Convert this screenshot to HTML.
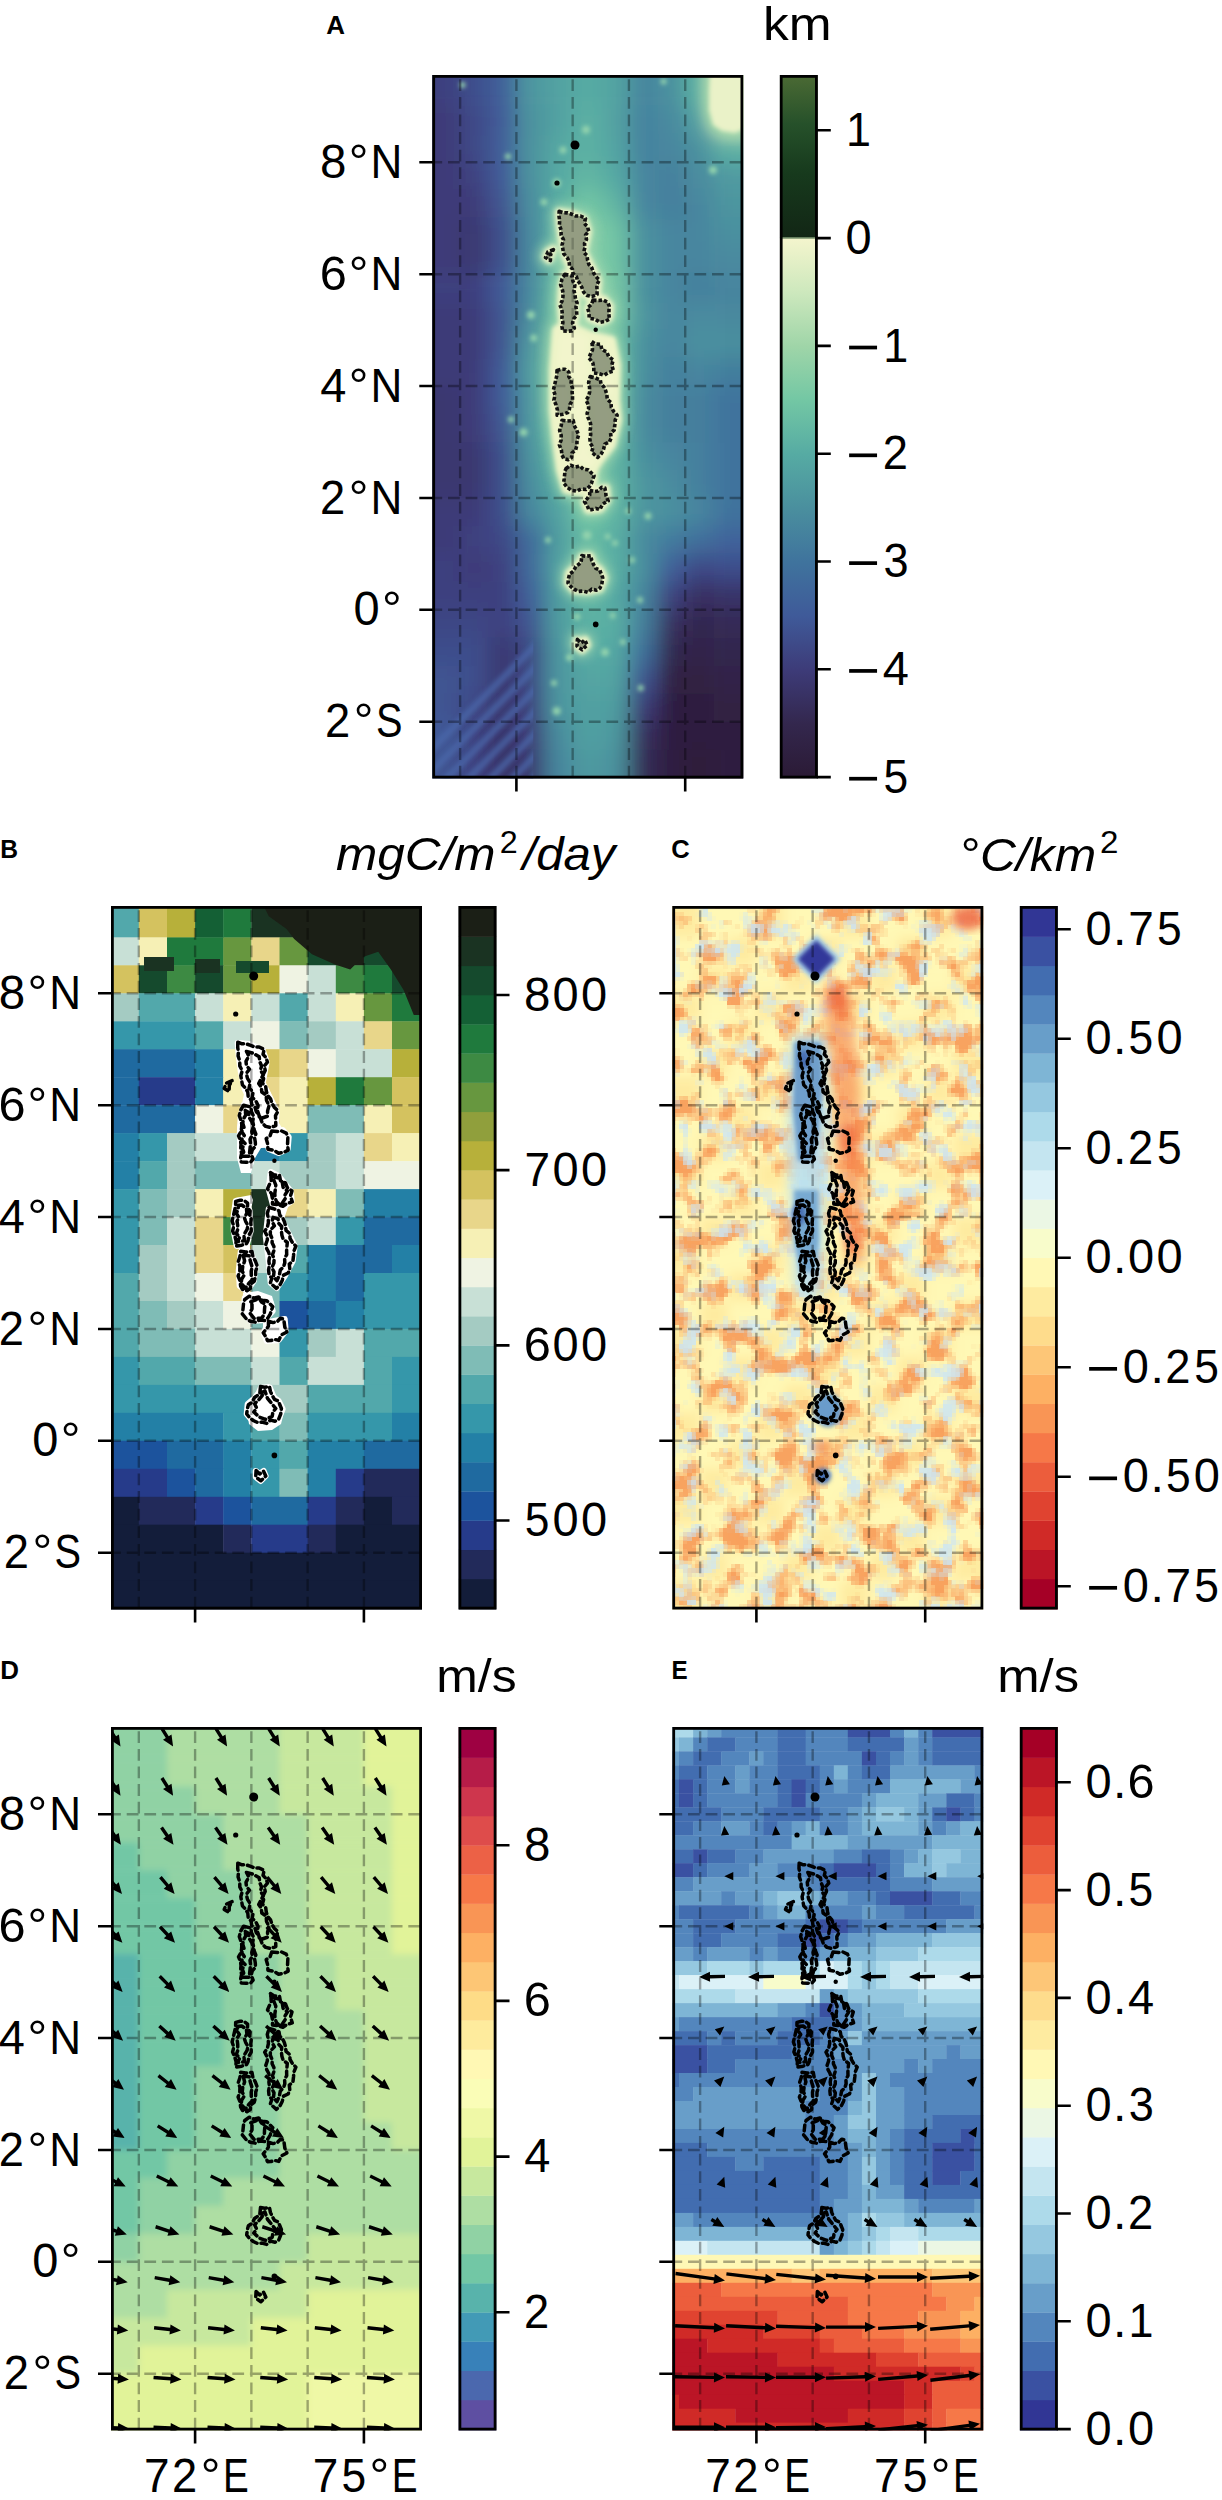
<!DOCTYPE html><html><head><meta charset="utf-8"><style>html,body{margin:0;padding:0;background:#fff}svg{display:block}</style></head><body><svg xmlns="http://www.w3.org/2000/svg" width="1222" height="2500" viewBox="0 0 1222 2500" font-family='"Liberation Sans", sans-serif'>
<rect width="1222" height="2500" fill="#ffffff"/>
<svg x="432.3" y="75" width="311" height="703.5" viewBox="432.3 75 311 703.5" overflow="hidden">
<defs><filter id="blA" x="-10%" y="-10%" width="120%" height="120%"><feGaussianBlur stdDeviation="11"/></filter><filter id="blA2" x="-50%" y="-20%" width="200%" height="140%"><feGaussianBlur stdDeviation="6"/></filter><filter id="blA3" x="-50%" y="-20%" width="200%" height="140%"><feGaussianBlur stdDeviation="2"/></filter></defs><g filter="url(#blA)"><rect x="392" y="38.4" width="68.5" height="68.4" fill="#3d417f"/><rect x="460.1" y="38.4" width="28.5" height="68.4" fill="#3e4e8c"/><rect x="488.3" y="38.4" width="28.5" height="68.4" fill="#3f5f9a"/><rect x="516.4" y="38.4" width="28.5" height="68.4" fill="#4e97a0"/><rect x="544.5" y="38.4" width="28.5" height="68.4" fill="#52a3a2"/><rect x="572.7" y="38.4" width="28.5" height="68.4" fill="#56aba3"/><rect x="600.8" y="38.4" width="28.5" height="68.4" fill="#53a4a2"/><rect x="628.9" y="38.4" width="28.5" height="68.4" fill="#46859e"/><rect x="657.1" y="38.4" width="28.5" height="68.4" fill="#4a909e"/><rect x="685.2" y="38.4" width="28.5" height="68.4" fill="#5db2a3"/><rect x="713.3" y="38.4" width="68.5" height="68.4" fill="#ddedc3"/><rect x="392" y="106.4" width="68.5" height="28.4" fill="#3d3b78"/><rect x="460.1" y="106.4" width="28.5" height="28.4" fill="#3e4785"/><rect x="488.3" y="106.4" width="28.5" height="28.4" fill="#3f5a99"/><rect x="516.4" y="106.4" width="28.5" height="28.4" fill="#4b929e"/><rect x="544.5" y="106.4" width="28.5" height="28.4" fill="#51a0a1"/><rect x="572.7" y="106.4" width="28.5" height="28.4" fill="#5cb1a3"/><rect x="600.8" y="106.4" width="28.5" height="28.4" fill="#52a1a1"/><rect x="628.9" y="106.4" width="28.5" height="28.4" fill="#45829e"/><rect x="657.1" y="106.4" width="28.5" height="28.4" fill="#47889e"/><rect x="685.2" y="106.4" width="28.5" height="28.4" fill="#52a1a1"/><rect x="713.3" y="106.4" width="68.5" height="28.4" fill="#c4e4b9"/><rect x="392" y="134.3" width="68.5" height="28.4" fill="#3d3b78"/><rect x="460.1" y="134.3" width="28.5" height="28.4" fill="#3e4785"/><rect x="488.3" y="134.3" width="28.5" height="28.4" fill="#3f5f9a"/><rect x="516.4" y="134.3" width="28.5" height="28.4" fill="#4b929e"/><rect x="544.5" y="134.3" width="28.5" height="28.4" fill="#55a8a2"/><rect x="572.7" y="134.3" width="28.5" height="28.4" fill="#5cb1a3"/><rect x="600.8" y="134.3" width="28.5" height="28.4" fill="#53a4a2"/><rect x="628.9" y="134.3" width="28.5" height="28.4" fill="#45829e"/><rect x="657.1" y="134.3" width="28.5" height="28.4" fill="#46859e"/><rect x="685.2" y="134.3" width="28.5" height="28.4" fill="#4a909e"/><rect x="713.3" y="134.3" width="68.5" height="28.4" fill="#5cb1a3"/><rect x="392" y="162.3" width="68.5" height="28.4" fill="#3d3b78"/><rect x="460.1" y="162.3" width="28.5" height="28.4" fill="#3d417f"/><rect x="488.3" y="162.3" width="28.5" height="28.4" fill="#3f5a99"/><rect x="516.4" y="162.3" width="28.5" height="28.4" fill="#4b929e"/><rect x="544.5" y="162.3" width="28.5" height="28.4" fill="#55a8a2"/><rect x="572.7" y="162.3" width="28.5" height="28.4" fill="#62b6a3"/><rect x="600.8" y="162.3" width="28.5" height="28.4" fill="#55a9a3"/><rect x="628.9" y="162.3" width="28.5" height="28.4" fill="#46859e"/><rect x="657.1" y="162.3" width="28.5" height="28.4" fill="#447f9d"/><rect x="685.2" y="162.3" width="28.5" height="28.4" fill="#488b9e"/><rect x="713.3" y="162.3" width="68.5" height="28.4" fill="#4f9aa0"/><rect x="392" y="190.3" width="96.7" height="28.4" fill="#3d3b78"/><rect x="488.3" y="190.3" width="28.5" height="28.4" fill="#3f5492"/><rect x="516.4" y="190.3" width="28.5" height="28.4" fill="#498c9e"/><rect x="544.5" y="190.3" width="28.5" height="28.4" fill="#59aea3"/><rect x="572.7" y="190.3" width="28.5" height="28.4" fill="#73c7a4"/><rect x="600.8" y="190.3" width="28.5" height="28.4" fill="#60b5a3"/><rect x="628.9" y="190.3" width="28.5" height="28.4" fill="#46859e"/><rect x="657.1" y="190.3" width="28.5" height="28.4" fill="#447f9d"/><rect x="685.2" y="190.3" width="28.5" height="28.4" fill="#46859e"/><rect x="713.3" y="190.3" width="68.5" height="28.4" fill="#4c959f"/><rect x="392" y="218.2" width="68.5" height="28.4" fill="#3d3b78"/><rect x="460.1" y="218.2" width="28.5" height="28.4" fill="#3b376f"/><rect x="488.3" y="218.2" width="28.5" height="28.4" fill="#3e4e8c"/><rect x="516.4" y="218.2" width="28.5" height="28.4" fill="#47879e"/><rect x="544.5" y="218.2" width="28.5" height="28.4" fill="#5fb3a3"/><rect x="572.7" y="218.2" width="28.5" height="28.4" fill="#85cda6"/><rect x="600.8" y="218.2" width="28.5" height="28.4" fill="#71c5a4"/><rect x="628.9" y="218.2" width="28.5" height="28.4" fill="#4a909e"/><rect x="657.1" y="218.2" width="56.7" height="28.4" fill="#46859e"/><rect x="713.3" y="218.2" width="68.5" height="28.4" fill="#4a8f9e"/><rect x="392" y="246.2" width="68.5" height="28.4" fill="#3d3b78"/><rect x="460.1" y="246.2" width="28.5" height="28.4" fill="#3b376f"/><rect x="488.3" y="246.2" width="28.5" height="28.4" fill="#3e4e8c"/><rect x="516.4" y="246.2" width="28.5" height="28.4" fill="#47879e"/><rect x="544.5" y="246.2" width="28.5" height="28.4" fill="#64b9a4"/><rect x="572.7" y="246.2" width="28.5" height="28.4" fill="#85cda6"/><rect x="600.8" y="246.2" width="28.5" height="28.4" fill="#71c5a4"/><rect x="628.9" y="246.2" width="28.5" height="28.4" fill="#4a909e"/><rect x="657.1" y="246.2" width="56.7" height="28.4" fill="#46859e"/><rect x="713.3" y="246.2" width="68.5" height="28.4" fill="#48899e"/><rect x="392" y="274.2" width="96.7" height="28.4" fill="#3d417f"/><rect x="488.3" y="274.2" width="28.5" height="28.4" fill="#3f5a99"/><rect x="516.4" y="274.2" width="28.5" height="28.4" fill="#47879e"/><rect x="544.5" y="274.2" width="28.5" height="28.4" fill="#6abfa4"/><rect x="572.7" y="274.2" width="28.5" height="28.4" fill="#8dcfa6"/><rect x="600.8" y="274.2" width="28.5" height="28.4" fill="#79c9a5"/><rect x="628.9" y="274.2" width="28.5" height="28.4" fill="#4a909e"/><rect x="657.1" y="274.2" width="28.5" height="28.4" fill="#46859e"/><rect x="685.2" y="274.2" width="28.5" height="28.4" fill="#447f9d"/><rect x="713.3" y="274.2" width="68.5" height="28.4" fill="#46849e"/><rect x="392" y="302.1" width="96.7" height="28.4" fill="#3d3b78"/><rect x="488.3" y="302.1" width="28.5" height="28.4" fill="#3f5492"/><rect x="516.4" y="302.1" width="28.5" height="28.4" fill="#498c9e"/><rect x="544.5" y="302.1" width="28.5" height="28.4" fill="#70c4a4"/><rect x="572.7" y="302.1" width="28.5" height="28.4" fill="#96d2a7"/><rect x="600.8" y="302.1" width="28.5" height="28.4" fill="#79c9a5"/><rect x="628.9" y="302.1" width="28.5" height="28.4" fill="#4d969f"/><rect x="657.1" y="302.1" width="28.5" height="28.4" fill="#46859e"/><rect x="685.2" y="302.1" width="28.5" height="28.4" fill="#488b9e"/><rect x="713.3" y="302.1" width="68.5" height="28.4" fill="#48899e"/><rect x="392" y="330.1" width="96.7" height="28.4" fill="#3d3b78"/><rect x="488.3" y="330.1" width="28.5" height="28.4" fill="#3f5492"/><rect x="516.4" y="330.1" width="28.5" height="28.4" fill="#4e97a0"/><rect x="544.5" y="330.1" width="28.5" height="28.4" fill="#80cba5"/><rect x="572.7" y="330.1" width="28.5" height="28.4" fill="#96d2a7"/><rect x="600.8" y="330.1" width="28.5" height="28.4" fill="#6bc0a4"/><rect x="628.9" y="330.1" width="28.5" height="28.4" fill="#4a909e"/><rect x="657.1" y="330.1" width="28.5" height="28.4" fill="#46859e"/><rect x="685.2" y="330.1" width="28.5" height="28.4" fill="#4a909e"/><rect x="713.3" y="330.1" width="68.5" height="28.4" fill="#4a8f9e"/><rect x="392" y="358.1" width="96.7" height="28.4" fill="#3d3b78"/><rect x="488.3" y="358.1" width="28.5" height="28.4" fill="#3f5a99"/><rect x="516.4" y="358.1" width="28.5" height="28.4" fill="#509da0"/><rect x="544.5" y="358.1" width="28.5" height="28.4" fill="#80cba5"/><rect x="572.7" y="358.1" width="28.5" height="28.4" fill="#96d2a7"/><rect x="600.8" y="358.1" width="28.5" height="28.4" fill="#6bc0a4"/><rect x="628.9" y="358.1" width="28.5" height="28.4" fill="#4a909e"/><rect x="657.1" y="358.1" width="28.5" height="28.4" fill="#447f9d"/><rect x="685.2" y="358.1" width="28.5" height="28.4" fill="#46859e"/><rect x="713.3" y="358.1" width="68.5" height="28.4" fill="#437e9d"/><rect x="392" y="386.1" width="68.5" height="28.4" fill="#3b376f"/><rect x="460.1" y="386.1" width="28.5" height="28.4" fill="#3d3b78"/><rect x="488.3" y="386.1" width="28.5" height="28.4" fill="#3f5a99"/><rect x="516.4" y="386.1" width="28.5" height="28.4" fill="#4e97a0"/><rect x="544.5" y="386.1" width="28.5" height="28.4" fill="#80cba5"/><rect x="572.7" y="386.1" width="28.5" height="28.4" fill="#96d2a7"/><rect x="600.8" y="386.1" width="28.5" height="28.4" fill="#6bc0a4"/><rect x="628.9" y="386.1" width="28.5" height="28.4" fill="#488b9e"/><rect x="657.1" y="386.1" width="56.7" height="28.4" fill="#447f9d"/><rect x="713.3" y="386.1" width="68.5" height="28.4" fill="#3f739d"/><rect x="392" y="414" width="68.5" height="28.4" fill="#3b376f"/><rect x="460.1" y="414" width="28.5" height="28.4" fill="#3d3b78"/><rect x="488.3" y="414" width="28.5" height="28.4" fill="#3f5492"/><rect x="516.4" y="414" width="28.5" height="28.4" fill="#4e97a0"/><rect x="544.5" y="414" width="28.5" height="28.4" fill="#70c4a4"/><rect x="572.7" y="414" width="28.5" height="28.4" fill="#96d2a7"/><rect x="600.8" y="414" width="28.5" height="28.4" fill="#66baa4"/><rect x="628.9" y="414" width="28.5" height="28.4" fill="#488b9e"/><rect x="657.1" y="414" width="56.7" height="28.4" fill="#447f9d"/><rect x="713.3" y="414" width="68.5" height="28.4" fill="#3f739d"/><rect x="392" y="442" width="96.7" height="28.4" fill="#3b376f"/><rect x="488.3" y="442" width="28.5" height="28.4" fill="#3e4e8c"/><rect x="516.4" y="442" width="28.5" height="28.4" fill="#4b929e"/><rect x="544.5" y="442" width="28.5" height="28.4" fill="#64b9a4"/><rect x="572.7" y="442" width="28.5" height="28.4" fill="#8dcfa6"/><rect x="600.8" y="442" width="28.5" height="28.4" fill="#60b5a3"/><rect x="628.9" y="442" width="28.5" height="28.4" fill="#4a909e"/><rect x="657.1" y="442" width="28.5" height="28.4" fill="#46859e"/><rect x="685.2" y="442" width="28.5" height="28.4" fill="#447f9d"/><rect x="713.3" y="442" width="68.5" height="28.4" fill="#3f739d"/><rect x="392" y="470" width="96.7" height="28.4" fill="#3b376f"/><rect x="488.3" y="470" width="28.5" height="28.4" fill="#3e4e8c"/><rect x="516.4" y="470" width="28.5" height="28.4" fill="#498c9e"/><rect x="544.5" y="470" width="28.5" height="28.4" fill="#59aea3"/><rect x="572.7" y="470" width="28.5" height="28.4" fill="#85cda6"/><rect x="600.8" y="470" width="28.5" height="28.4" fill="#60b5a3"/><rect x="628.9" y="470" width="28.5" height="28.4" fill="#4d969f"/><rect x="657.1" y="470" width="28.5" height="28.4" fill="#488b9e"/><rect x="685.2" y="470" width="28.5" height="28.4" fill="#447f9d"/><rect x="713.3" y="470" width="68.5" height="28.4" fill="#3f739d"/><rect x="392" y="497.9" width="96.7" height="28.4" fill="#3d3b78"/><rect x="488.3" y="497.9" width="28.5" height="28.4" fill="#3e4e8c"/><rect x="516.4" y="497.9" width="28.5" height="28.4" fill="#47879e"/><rect x="544.5" y="497.9" width="28.5" height="28.4" fill="#52a3a2"/><rect x="572.7" y="497.9" width="28.5" height="28.4" fill="#73c7a4"/><rect x="600.8" y="497.9" width="28.5" height="28.4" fill="#60b5a3"/><rect x="628.9" y="497.9" width="28.5" height="28.4" fill="#4d969f"/><rect x="657.1" y="497.9" width="28.5" height="28.4" fill="#4a909e"/><rect x="685.2" y="497.9" width="28.5" height="28.4" fill="#46859e"/><rect x="713.3" y="497.9" width="68.5" height="28.4" fill="#3f739d"/><rect x="392" y="525.9" width="68.5" height="28.4" fill="#3d3b78"/><rect x="460.1" y="525.9" width="28.5" height="28.4" fill="#3d417f"/><rect x="488.3" y="525.9" width="28.5" height="28.4" fill="#3e4785"/><rect x="516.4" y="525.9" width="28.5" height="28.4" fill="#3f699b"/><rect x="544.5" y="525.9" width="28.5" height="28.4" fill="#509da0"/><rect x="572.7" y="525.9" width="28.5" height="28.4" fill="#67bca4"/><rect x="600.8" y="525.9" width="28.5" height="28.4" fill="#5aafa3"/><rect x="628.9" y="525.9" width="28.5" height="28.4" fill="#488b9e"/><rect x="657.1" y="525.9" width="28.5" height="28.4" fill="#427a9d"/><rect x="685.2" y="525.9" width="28.5" height="28.4" fill="#3f6f9c"/><rect x="713.3" y="525.9" width="68.5" height="28.4" fill="#3f649b"/><rect x="392" y="553.9" width="68.5" height="28.4" fill="#3d417f"/><rect x="460.1" y="553.9" width="28.5" height="28.4" fill="#3d3b78"/><rect x="488.3" y="553.9" width="28.5" height="28.4" fill="#3d417f"/><rect x="516.4" y="553.9" width="28.5" height="28.4" fill="#3f699b"/><rect x="544.5" y="553.9" width="28.5" height="28.4" fill="#52a3a2"/><rect x="572.7" y="553.9" width="28.5" height="28.4" fill="#6dc1a4"/><rect x="600.8" y="553.9" width="28.5" height="28.4" fill="#5aafa3"/><rect x="628.9" y="553.9" width="28.5" height="28.4" fill="#4a909e"/><rect x="657.1" y="553.9" width="28.5" height="28.4" fill="#3f5f9a"/><rect x="685.2" y="553.9" width="28.5" height="28.4" fill="#3e4785"/><rect x="713.3" y="553.9" width="68.5" height="28.4" fill="#3e4e8c"/><rect x="392" y="581.8" width="124.8" height="28.4" fill="#3d417f"/><rect x="516.4" y="581.8" width="28.5" height="28.4" fill="#3f5f9a"/><rect x="544.5" y="581.8" width="28.5" height="28.4" fill="#509da0"/><rect x="572.7" y="581.8" width="28.5" height="28.4" fill="#62b6a3"/><rect x="600.8" y="581.8" width="28.5" height="28.4" fill="#55a9a3"/><rect x="628.9" y="581.8" width="28.5" height="28.4" fill="#46859e"/><rect x="657.1" y="581.8" width="28.5" height="28.4" fill="#3d417f"/><rect x="685.2" y="581.8" width="28.5" height="28.4" fill="#372f5e"/><rect x="713.3" y="581.8" width="68.5" height="28.4" fill="#393367"/><rect x="392" y="609.8" width="96.7" height="28.4" fill="#3e4785"/><rect x="488.3" y="609.8" width="28.5" height="28.4" fill="#3d417f"/><rect x="516.4" y="609.8" width="28.5" height="28.4" fill="#3f5492"/><rect x="544.5" y="609.8" width="28.5" height="28.4" fill="#509da0"/><rect x="572.7" y="609.8" width="28.5" height="28.4" fill="#5cb1a3"/><rect x="600.8" y="609.8" width="28.5" height="28.4" fill="#5aafa3"/><rect x="628.9" y="609.8" width="28.5" height="28.4" fill="#447f9d"/><rect x="657.1" y="609.8" width="28.5" height="28.4" fill="#372f5e"/><rect x="685.2" y="609.8" width="28.5" height="28.4" fill="#33274d"/><rect x="713.3" y="609.8" width="68.5" height="28.4" fill="#352b56"/><rect x="392" y="637.8" width="96.7" height="28.4" fill="#3e4e8c"/><rect x="488.3" y="637.8" width="28.5" height="28.4" fill="#3b376f"/><rect x="516.4" y="637.8" width="28.5" height="28.4" fill="#3e4785"/><rect x="544.5" y="637.8" width="28.5" height="28.4" fill="#4e97a0"/><rect x="572.7" y="637.8" width="28.5" height="28.4" fill="#56aba3"/><rect x="600.8" y="637.8" width="28.5" height="28.4" fill="#55a9a3"/><rect x="628.9" y="637.8" width="28.5" height="28.4" fill="#3f6f9c"/><rect x="657.1" y="637.8" width="28.5" height="28.4" fill="#33274d"/><rect x="685.2" y="637.8" width="28.5" height="28.4" fill="#312448"/><rect x="713.3" y="637.8" width="68.5" height="28.4" fill="#33274d"/><rect x="392" y="665.8" width="68.5" height="28.4" fill="#3f5492"/><rect x="460.1" y="665.8" width="28.5" height="28.4" fill="#3e4e8c"/><rect x="488.3" y="665.8" width="28.5" height="28.4" fill="#3b376f"/><rect x="516.4" y="665.8" width="28.5" height="28.4" fill="#3e4785"/><rect x="544.5" y="665.8" width="28.5" height="28.4" fill="#4e97a0"/><rect x="572.7" y="665.8" width="28.5" height="28.4" fill="#54a5a2"/><rect x="600.8" y="665.8" width="28.5" height="28.4" fill="#53a4a2"/><rect x="628.9" y="665.8" width="28.5" height="28.4" fill="#3f5492"/><rect x="657.1" y="665.8" width="56.7" height="28.4" fill="#302243"/><rect x="713.3" y="665.8" width="68.5" height="28.4" fill="#312448"/><rect x="392" y="693.7" width="68.5" height="28.4" fill="#3f5492"/><rect x="460.1" y="693.7" width="28.5" height="28.4" fill="#3e4785"/><rect x="488.3" y="693.7" width="28.5" height="28.4" fill="#3b376f"/><rect x="516.4" y="693.7" width="28.5" height="28.4" fill="#3d417f"/><rect x="544.5" y="693.7" width="28.5" height="28.4" fill="#4e97a0"/><rect x="572.7" y="693.7" width="28.5" height="28.4" fill="#51a0a1"/><rect x="600.8" y="693.7" width="28.5" height="28.4" fill="#509ea1"/><rect x="628.9" y="693.7" width="28.5" height="28.4" fill="#3d3b78"/><rect x="657.1" y="693.7" width="56.7" height="28.4" fill="#2e1f3f"/><rect x="713.3" y="693.7" width="68.5" height="28.4" fill="#302243"/><rect x="392" y="721.7" width="68.5" height="28.4" fill="#3f5a99"/><rect x="460.1" y="721.7" width="28.5" height="28.4" fill="#3d417f"/><rect x="488.3" y="721.7" width="28.5" height="28.4" fill="#393367"/><rect x="516.4" y="721.7" width="28.5" height="28.4" fill="#3d3b78"/><rect x="544.5" y="721.7" width="28.5" height="28.4" fill="#498c9e"/><rect x="572.7" y="721.7" width="28.5" height="28.4" fill="#51a0a1"/><rect x="600.8" y="721.7" width="28.5" height="28.4" fill="#4e99a0"/><rect x="628.9" y="721.7" width="28.5" height="28.4" fill="#372f5e"/><rect x="657.1" y="721.7" width="124.8" height="28.4" fill="#2e1f3f"/><rect x="392" y="749.7" width="68.5" height="68.4" fill="#3f5492"/><rect x="460.1" y="749.7" width="28.5" height="68.4" fill="#3d417f"/><rect x="488.3" y="749.7" width="28.5" height="68.4" fill="#393367"/><rect x="516.4" y="749.7" width="28.5" height="68.4" fill="#3b376f"/><rect x="544.5" y="749.7" width="28.5" height="68.4" fill="#47879e"/><rect x="572.7" y="749.7" width="28.5" height="68.4" fill="#4f9aa0"/><rect x="600.8" y="749.7" width="28.5" height="68.4" fill="#4c939f"/><rect x="628.9" y="749.7" width="28.5" height="68.4" fill="#352b56"/><rect x="657.1" y="749.7" width="28.5" height="68.4" fill="#2e1f3f"/><rect x="685.2" y="749.7" width="28.5" height="68.4" fill="#2d1d3a"/><rect x="713.3" y="749.7" width="68.5" height="68.4" fill="#2e1f3f"/></g><g clip-path="url(#clA1)"><clipPath id="clA1"><rect x="432.3" y="542.692" width="100.98099999999982" height="300"/></clipPath><path d="M392.3 788.5 l150 -150M414.3 788.5 l150 -150M436.3 788.5 l150 -150M458.3 788.5 l150 -150M480.3 788.5 l150 -150M502.3 788.5 l150 -150M524.3 788.5 l150 -150M546.3 788.5 l150 -150" stroke="#4a6aab" stroke-width="7" stroke-opacity="0.7" fill="none" filter="url(#blA3)"/></g><path d="M710 70 L746 70 L746 128 L735 133 L722 131 L713 125 L709 110 L709 90Z" fill="#9fd5a8" stroke="#9fd5a8" stroke-width="10" filter="url(#blA2)"/><path d="M710 70 L746 70 L746 128 L735 133 L722 131 L713 125 L709 110 L709 90Z" fill="#eaf2c8" filter="url(#blA3)"/><g fill="#93d3ad" filter="url(#blA3)"><circle cx="586" cy="129.7" r="4"/><circle cx="563" cy="150" r="3.5"/><circle cx="556.7" cy="183" r="4.5"/><circle cx="544" cy="202" r="3.5"/><circle cx="663.6" cy="81.4" r="3"/><circle cx="462.5" cy="85" r="3"/><circle cx="713" cy="170" r="4"/><circle cx="508" cy="156.4" r="3"/><circle cx="531" cy="315" r="4"/><circle cx="533.8" cy="338" r="3.5"/><circle cx="523.6" cy="432.3" r="4"/><circle cx="511" cy="419.6" r="3"/><circle cx="648" cy="516" r="3.5"/><circle cx="628" cy="511" r="3"/><circle cx="587" cy="535.3" r="4.5"/><circle cx="607.6" cy="536.5" r="3"/><circle cx="615" cy="543" r="3"/><circle cx="577" cy="616.7" r="3.5"/><circle cx="612.7" cy="615.4" r="3"/><circle cx="605" cy="652.3" r="4"/><circle cx="569.4" cy="657.4" r="3.5"/><circle cx="622.8" cy="642" r="3"/><circle cx="556.7" cy="711" r="4"/><circle cx="640.7" cy="688" r="3"/><circle cx="554" cy="683" r="3"/><circle cx="600" cy="590" r="3"/><circle cx="632" cy="560" r="3"/><circle cx="548" cy="540" r="3"/><circle cx="640" cy="600" r="3"/></g><path d="M556 330 L560 327 L575 328 L590 335 L612 340 L617 365 L616 400 L618 420 L612 445 L600 460 L595 468 L592 480 L580 492 L566 490 L560 470 L556 440 L553 410 L553 370ZM559 212 L572 214 L584 219 L588 231 L584 252 L592 268 L598 280 L597 294 L586 296 L577 281 L566 258 L562 240 L560 225ZM565 274 L572 276 L576 295 L576 315 L572 332 L563 331 L561 305 L562 285ZM593 300 L604 299 L610 306 L609 318 L600 322 L590 318 L588 308ZM592 341 L600 345 L612 360 L613 370 L604 376 L594 373 L590 358ZM590 378 L600 380 L606 395 L616 415 L614 430 L606 445 L598 457 L592 452 L590 430 L587 405ZM557 370 L566 369 L571 380 L572 400 L568 414 L558 415 L555 400 L555 385ZM562 421 L572 421 L577 435 L575 450 L568 460 L561 455 L560 440ZM566 467 L580 466 L592 472 L594 480 L586 489 L572 490 L565 483ZM590 491 L606 488 L607 500 L600 509 L588 510 L585 502ZM582 557 L590 556 L593 565 L600 570 L604 578 L600 588 L588 591 L574 590 L568 583 L569 573 L576 567 L580 562ZM577 640 L581 643 L585 640 L587 645 L582 650 L577 646ZM553 249 L548 252 L546 257 L549 260Z" fill="#a6dbb0" stroke="#a6dbb0" stroke-width="15" stroke-linejoin="round" filter="url(#blA2)" opacity="0.9"/><path d="M556 330 L560 327 L575 328 L590 335 L612 340 L617 365 L616 400 L618 420 L612 445 L600 460 L595 468 L592 480 L580 492 L566 490 L560 470 L556 440 L553 410 L553 370ZM559 212 L572 214 L584 219 L588 231 L584 252 L592 268 L598 280 L597 294 L586 296 L577 281 L566 258 L562 240 L560 225ZM565 274 L572 276 L576 295 L576 315 L572 332 L563 331 L561 305 L562 285ZM593 300 L604 299 L610 306 L609 318 L600 322 L590 318 L588 308ZM592 341 L600 345 L612 360 L613 370 L604 376 L594 373 L590 358ZM590 378 L600 380 L606 395 L616 415 L614 430 L606 445 L598 457 L592 452 L590 430 L587 405ZM557 370 L566 369 L571 380 L572 400 L568 414 L558 415 L555 400 L555 385ZM562 421 L572 421 L577 435 L575 450 L568 460 L561 455 L560 440ZM566 467 L580 466 L592 472 L594 480 L586 489 L572 490 L565 483ZM590 491 L606 488 L607 500 L600 509 L588 510 L585 502ZM582 557 L590 556 L593 565 L600 570 L604 578 L600 588 L588 591 L574 590 L568 583 L569 573 L576 567 L580 562ZM577 640 L581 643 L585 640 L587 645 L582 650 L577 646ZM553 249 L548 252 L546 257 L549 260Z" fill="#f2f5cc" stroke="#eef4c8" stroke-width="8" stroke-linejoin="round" filter="url(#blA3)"/>
<path d="M460.13 777.5V75M516.4 777.5V75M572.67 777.5V75M628.94 777.5V75M685.21 777.5V75M430.4 162.3H743.3M430.4 274.18H743.3M430.4 386.06H743.3M430.4 497.94H743.3M430.4 609.82H743.3M430.4 721.7H743.3" stroke="#000" stroke-opacity="0.33" stroke-width="2.4" stroke-dasharray="11.8 5.8" fill="none"/>
<path d="M559.1 211.2 L563.3 212.8 L567.7 212.9 L571.9 214.3 L575.8 216 L580.5 216 L585.5 218.5 L584.3 223.3 L587.4 226.8 L588.8 231.2 L585.6 234.9 L586.5 239.4 L584.5 243.4 L584.9 247.8 L583.6 252.2 L587 255.5 L587.6 260.2 L588.9 264.5 L591.9 268 L593.3 272.3 L595.5 276.2 L599.4 280.1 L596.8 284.6 L597 289.3 L597.1 294.6 L591.8 296.5 L587 295.4 L583.7 292.3 L582.1 288.1 L580.3 284.1 L577.6 280.7 L576.4 276.6 L573 273.5 L572.4 269.1 L569.5 265.7 L569.1 261.2 L567.2 257.7 L563.7 253.8 L562.9 249.3 L562.1 244.7 L563.5 239.8 L561.1 235 L561.1 229.9 L559.4 225 L559.7 220.7 L559 216.4Z" fill="#5a6854" fill-opacity="0.62" stroke="#111" stroke-width="3.6" stroke-dasharray="3.5 2" stroke-linejoin="round"/><path d="M564.9 274.2 L572.2 276 L572.8 280.8 L574.9 285.3 L574 290.5 L575 295 L575.5 299 L577.1 303 L575.9 307 L576.6 311 L576.8 315.2 L573.6 318.9 L572.5 323.1 L574.4 328.1 L572.1 330.9 L567.5 331.2 L562.6 331 L562 326.7 L562.9 322.3 L561.9 318 L562.3 313.6 L561.8 309.3 L559.8 304.9 L562.1 301 L562.9 297.1 L563.1 293.1 L562.2 289 L560.6 284.6 L562 279.1Z" fill="#5a6854" fill-opacity="0.62" stroke="#111" stroke-width="3.6" stroke-dasharray="3.5 2" stroke-linejoin="round"/><path d="M593 300.1 L598.6 300.5 L602.9 300 L607.5 302.1 L609.2 305.9 L609 309.9 L608.8 314 L609.5 319.1 L605.1 321.4 L599.9 322.3 L595.3 319.3 L589.2 318.2 L589 313 L587.5 307.7 L591.4 304.6Z" fill="#5a6854" fill-opacity="0.62" stroke="#111" stroke-width="3.6" stroke-dasharray="3.5 2" stroke-linejoin="round"/><path d="M591.7 341.6 L595.5 344 L600.8 344.4 L601.8 349.7 L606.8 351.9 L608.6 356.6 L613.3 359.9 L611.7 365.1 L613.6 370.9 L608.1 372.5 L604.2 375.3 L599.2 373.7 L593.8 373 L593.8 367.7 L592.8 362.6 L588.8 357.9 L590.6 353.8 L592.5 349.7 L592.3 345.3Z" fill="#5a6854" fill-opacity="0.62" stroke="#111" stroke-width="3.6" stroke-dasharray="3.5 2" stroke-linejoin="round"/><path d="M590.3 376.5 L595.2 377.8 L600.3 379.9 L601 384 L604.1 387.1 L605.7 390.8 L606.8 394.6 L607.3 399.4 L611 402.5 L611.3 407.3 L613.5 411.2 L617.2 415.2 L615.2 420 L614.8 425 L614.2 430.1 L610.6 433 L611.1 438.1 L609.4 442 L604.8 444.2 L603.6 449.2 L601.5 453.5 L597.7 457.4 L591.6 452 L593.1 447.5 L590.3 443.3 L589.9 438.9 L590.7 434.4 L590.2 430 L590.9 425.7 L590.1 421.5 L588 417.6 L587.1 413.4 L588.6 409 L588.6 405.2 L586 400.3 L588.7 396.1 L589.7 391.6 L589.5 387.1 L588.6 382.4Z" fill="#5a6854" fill-opacity="0.62" stroke="#111" stroke-width="3.6" stroke-dasharray="3.5 2" stroke-linejoin="round"/><path d="M557 370.4 L561.5 369.3 L565.3 369.3 L568.9 372.1 L568.8 376.6 L571.4 380 L570.9 384 L572.5 387.9 L572.1 392 L572.5 396 L572.5 400.1 L570 404.5 L569.4 409.4 L567.9 412.5 L563 414.2 L557.1 415.2 L557.4 409.9 L556.1 405 L553.9 400 L555.1 395 L553.4 390 L554.6 384.9 L555.8 380 L556.9 375.1Z" fill="#5a6854" fill-opacity="0.62" stroke="#111" stroke-width="3.6" stroke-dasharray="3.5 2" stroke-linejoin="round"/><path d="M562 420.3 L567 421 L573.3 420.5 L574.2 425.5 L576.6 429.9 L578.6 435.2 L577 440.1 L576.9 445.2 L575.5 450.3 L572 452.9 L571.6 457.5 L568.2 459.7 L563.8 458.5 L561.9 454.9 L561.4 449.9 L559.4 445.1 L561.1 440.1 L561.2 435.3 L559.6 430.4 L561.2 425.7Z" fill="#5a6854" fill-opacity="0.62" stroke="#111" stroke-width="3.6" stroke-dasharray="3.5 2" stroke-linejoin="round"/><path d="M566.1 468.5 L570.6 465.2 L575.4 467.1 L580 466 L583.4 469.3 L588.1 469.7 L590.7 472.3 L594.1 475.7 L592.8 478.9 L591.5 483.2 L589.4 486.7 L586 489.5 L581.3 488.9 L576.8 491.2 L571.7 490.3 L567.4 487.6 L563.6 482.9 L564.2 478.9 L564.6 474.9 L565 471Z" fill="#5a6854" fill-opacity="0.62" stroke="#111" stroke-width="3.6" stroke-dasharray="3.5 2" stroke-linejoin="round"/><path d="M589.8 490.1 L594.3 491.6 L598.3 490.9 L601.7 487.2 L604.9 488.1 L605.6 492.1 L606.1 496 L608.2 501 L602.7 503.9 L600 509.4 L595.9 508.4 L592 509.6 L588.8 509.7 L587.2 505.7 L584.5 501.8 L587.2 498.6 L589.7 495.3Z" fill="#5a6854" fill-opacity="0.62" stroke="#111" stroke-width="3.6" stroke-dasharray="3.5 2" stroke-linejoin="round"/><path d="M581.8 555.6 L586 556.3 L590.8 555.7 L591.7 560.4 L593.5 564.4 L595.8 568.4 L599.8 570.1 L601.3 574.3 L602.7 577.5 L602 583 L600 588.1 L596.3 590.2 L591.8 589.1 L587.9 592.4 L583.3 591.1 L578.6 591.4 L574.6 589.5 L570.9 586.6 L568 583 L568.6 578 L569.7 573.8 L573.5 571.2 L575.7 566.7 L581.1 562.5Z" fill="#5a6854" fill-opacity="0.62" stroke="#111" stroke-width="3.6" stroke-dasharray="3.5 2" stroke-linejoin="round"/><path d="M577.4 639.4 L581 643 L584.8 640.1 L587.1 645.1 L582.2 649.8 L577 646Z" fill="#5a6854" fill-opacity="0.62" stroke="#111" stroke-width="3.6" stroke-dasharray="3.5 2" stroke-linejoin="round"/><path d="M553.4 249.6 L547.9 252 L545.5 257.5 L550.4 260.5 L550.6 254.4Z" fill="#5a6854" fill-opacity="0.62" stroke="#111" stroke-width="3.6" stroke-dasharray="3.5 2" stroke-linejoin="round"/><circle cx="575" cy="145" r="4.5" fill="#000"/><circle cx="557" cy="183" r="2.6" fill="#000"/><circle cx="595.7" cy="624.4" r="2.8" fill="#000"/><circle cx="595.7" cy="329.8" r="2.2" fill="#000"/>
</svg>
<rect x="433.7" y="76.4" width="308.2" height="700.7" fill="none" stroke="#000" stroke-width="2.8"/>
<svg x="779.8" y="75" width="38" height="703.5" viewBox="0 0 38 703.5" preserveAspectRatio="none">
<defs><linearGradient id="cbA1" x1="0" y1="1" x2="0" y2="0"><stop offset="0.000" stop-color="#2b1a35"/><stop offset="0.100" stop-color="#33274d"/><stop offset="0.200" stop-color="#3d3b78"/><stop offset="0.300" stop-color="#3f5a99"/><stop offset="0.400" stop-color="#3f739d"/><stop offset="0.500" stop-color="#4a8f9e"/><stop offset="0.600" stop-color="#56aba3"/><stop offset="0.700" stop-color="#73c7a4"/><stop offset="0.800" stop-color="#9fd5a8"/><stop offset="0.900" stop-color="#cde8bd"/><stop offset="1.000" stop-color="#f4f5cd"/></linearGradient><linearGradient id="cbA2" x1="0" y1="1" x2="0" y2="0"><stop offset="0" stop-color="#122615"/><stop offset="0.4" stop-color="#173a1d"/><stop offset="0.7" stop-color="#26512a"/><stop offset="1.0" stop-color="#4b6a34"/></linearGradient></defs><rect x="0" y="0" width="38.0" height="163.10" fill="url(#cbA2)"/><rect x="0" y="163.10" width="38.0" height="540.40" fill="url(#cbA1)"/><rect x="0" y="162.10" width="38.0" height="1.6" fill="#6f8a66"/>
</svg>
<rect x="781.2" y="76.4" width="35.2" height="700.7" fill="none" stroke="#000" stroke-width="2.8"/>
<text x="845.88" y="145.9" font-size="47.65" textLength="24.97" lengthAdjust="spacingAndGlyphs">1</text>
<text x="845.5" y="253.7" font-size="47.65" textLength="26.15" lengthAdjust="spacingAndGlyphs">0</text>
<rect x="849.13" y="345.67" width="27.92" height="3.7" fill="#000"/>
<text x="883.25" y="361.5" font-size="47.65" textLength="24.97" lengthAdjust="spacingAndGlyphs">1</text>
<rect x="849.13" y="453.47" width="27.92" height="3.7" fill="#000"/>
<text x="882.76" y="469.3" font-size="47.65" textLength="25.2" lengthAdjust="spacingAndGlyphs">2</text>
<rect x="849.13" y="561.27" width="27.92" height="3.7" fill="#000"/>
<text x="883.45" y="577.1" font-size="47.65" textLength="25.11" lengthAdjust="spacingAndGlyphs">3</text>
<rect x="849.13" y="669.07" width="27.92" height="3.7" fill="#000"/>
<text x="882.87" y="684.9" font-size="47.65" textLength="26.15" lengthAdjust="spacingAndGlyphs">4</text>
<rect x="849.13" y="776.87" width="27.92" height="3.7" fill="#000"/>
<text x="883.43" y="792.7" font-size="47.65" textLength="24.68" lengthAdjust="spacingAndGlyphs">5</text>
<path d="M419.3 162.3H433.3M419.3 274.18H433.3M419.3 386.06H433.3M419.3 497.94H433.3M419.3 609.82H433.3M419.3 721.7H433.3M516.4 777.5V791.5M685.21 777.5V791.5M816.8 130.3H830.8M816.8 238.1H830.8M816.8 345.9H830.8M816.8 453.7H830.8M816.8 561.5H830.8M816.8 669.3H830.8M816.8 777.1H830.8" stroke="#000" stroke-width="2.6" fill="none"/>
<text x="320.02" y="177.9" font-size="47.65" textLength="26.43" lengthAdjust="spacingAndGlyphs">8</text>
<text x="348.75" y="177.9" font-size="47.65" textLength="19.7" lengthAdjust="spacingAndGlyphs">°</text>
<text x="370.5" y="177.9" font-size="47.65" textLength="31.81" lengthAdjust="spacingAndGlyphs">N</text>
<text x="319.7" y="289.78" font-size="47.65" textLength="27.06" lengthAdjust="spacingAndGlyphs">6</text>
<text x="348.75" y="289.78" font-size="47.65" textLength="19.7" lengthAdjust="spacingAndGlyphs">°</text>
<text x="370.5" y="289.78" font-size="47.65" textLength="31.81" lengthAdjust="spacingAndGlyphs">N</text>
<text x="320.16" y="401.66" font-size="47.65" textLength="26.15" lengthAdjust="spacingAndGlyphs">4</text>
<text x="348.75" y="401.66" font-size="47.65" textLength="19.7" lengthAdjust="spacingAndGlyphs">°</text>
<text x="370.5" y="401.66" font-size="47.65" textLength="31.81" lengthAdjust="spacingAndGlyphs">N</text>
<text x="320.05" y="513.54" font-size="47.65" textLength="25.2" lengthAdjust="spacingAndGlyphs">2</text>
<text x="348.75" y="513.54" font-size="47.65" textLength="19.7" lengthAdjust="spacingAndGlyphs">°</text>
<text x="370.5" y="513.54" font-size="47.65" textLength="31.81" lengthAdjust="spacingAndGlyphs">N</text>
<text x="353.53" y="625.42" font-size="47.65" textLength="26.15" lengthAdjust="spacingAndGlyphs">0</text>
<text x="382.11" y="625.42" font-size="47.65" textLength="19.7" lengthAdjust="spacingAndGlyphs">°</text>
<text x="325.1" y="737.3" font-size="47.65" textLength="25.2" lengthAdjust="spacingAndGlyphs">2</text>
<text x="353.8" y="737.3" font-size="47.65" textLength="19.7" lengthAdjust="spacingAndGlyphs">°</text>
<text x="375.92" y="737.3" font-size="47.65" textLength="26.52" lengthAdjust="spacingAndGlyphs">S</text>
<svg x="111" y="906" width="311" height="703.5" viewBox="111 906 311 703.5" overflow="hidden">
<rect x="70.7" y="869.4" width="68.5" height="68.4" fill="#52a8ab"/><rect x="138.8" y="869.4" width="28.5" height="68.4" fill="#d4c25f"/><rect x="167" y="869.4" width="28.5" height="68.4" fill="#b7b03a"/><rect x="195.1" y="869.4" width="28.5" height="68.4" fill="#146035"/><rect x="223.2" y="869.4" width="28.5" height="68.4" fill="#1f7a3d"/><rect x="251.4" y="869.4" width="56.7" height="68.4" fill="#1a3322"/><rect x="307.6" y="869.4" width="152.9" height="68.4" fill="#1b1f16"/><rect x="70.7" y="937.4" width="68.5" height="28.4" fill="#c8e0d6"/><rect x="138.8" y="937.4" width="28.5" height="28.4" fill="#f6f0b5"/><rect x="167" y="937.4" width="56.7" height="28.4" fill="#1f7a3d"/><rect x="223.2" y="937.4" width="28.5" height="28.4" fill="#67973f"/><rect x="251.4" y="937.4" width="28.5" height="28.4" fill="#e8d68a"/><rect x="279.5" y="937.4" width="28.5" height="28.4" fill="#67973f"/><rect x="307.6" y="937.4" width="28.5" height="28.4" fill="#154a2d"/><rect x="335.8" y="937.4" width="28.5" height="28.4" fill="#1b1f16"/><rect x="363.9" y="937.4" width="28.5" height="28.4" fill="#154a2d"/><rect x="392" y="937.4" width="68.5" height="28.4" fill="#1b1f16"/><rect x="70.7" y="965.3" width="68.5" height="28.4" fill="#d4c25f"/><rect x="138.8" y="965.3" width="28.5" height="28.4" fill="#154a2d"/><rect x="167" y="965.3" width="28.5" height="28.4" fill="#3d8a43"/><rect x="195.1" y="965.3" width="28.5" height="28.4" fill="#154a2d"/><rect x="223.2" y="965.3" width="28.5" height="28.4" fill="#67973f"/><rect x="251.4" y="965.3" width="28.5" height="28.4" fill="#b7b03a"/><rect x="279.5" y="965.3" width="28.5" height="28.4" fill="#eff3e3"/><rect x="307.6" y="965.3" width="28.5" height="28.4" fill="#c8e0d6"/><rect x="335.8" y="965.3" width="28.5" height="28.4" fill="#3d8a43"/><rect x="363.9" y="965.3" width="28.5" height="28.4" fill="#1f7a3d"/><rect x="392" y="965.3" width="68.5" height="28.4" fill="#154a2d"/><rect x="70.7" y="993.3" width="68.5" height="28.4" fill="#a4cbc2"/><rect x="138.8" y="993.3" width="56.7" height="28.4" fill="#52a8ab"/><rect x="195.1" y="993.3" width="28.5" height="28.4" fill="#c8e0d6"/><rect x="223.2" y="993.3" width="28.5" height="28.4" fill="#f6f0b5"/><rect x="251.4" y="993.3" width="28.5" height="28.4" fill="#c8e0d6"/><rect x="279.5" y="993.3" width="28.5" height="28.4" fill="#52a8ab"/><rect x="307.6" y="993.3" width="28.5" height="28.4" fill="#c8e0d6"/><rect x="335.8" y="993.3" width="28.5" height="28.4" fill="#f6f0b5"/><rect x="363.9" y="993.3" width="28.5" height="28.4" fill="#67973f"/><rect x="392" y="993.3" width="68.5" height="28.4" fill="#1f7a3d"/><rect x="70.7" y="1021.3" width="124.8" height="28.4" fill="#3597aa"/><rect x="195.1" y="1021.3" width="28.5" height="28.4" fill="#52a8ab"/><rect x="223.2" y="1021.3" width="28.5" height="28.4" fill="#c8e0d6"/><rect x="251.4" y="1021.3" width="28.5" height="28.4" fill="#eff3e3"/><rect x="279.5" y="1021.3" width="28.5" height="28.4" fill="#7fbcb6"/><rect x="307.6" y="1021.3" width="28.5" height="28.4" fill="#a4cbc2"/><rect x="335.8" y="1021.3" width="28.5" height="28.4" fill="#c8e0d6"/><rect x="363.9" y="1021.3" width="28.5" height="28.4" fill="#e8d68a"/><rect x="392" y="1021.3" width="68.5" height="28.4" fill="#67973f"/><rect x="70.7" y="1049.2" width="124.8" height="28.4" fill="#1f6aa0"/><rect x="195.1" y="1049.2" width="28.5" height="28.4" fill="#2380a6"/><rect x="223.2" y="1049.2" width="28.5" height="28.4" fill="#f6f0b5"/><rect x="251.4" y="1049.2" width="28.5" height="28.4" fill="#d4c25f"/><rect x="279.5" y="1049.2" width="28.5" height="28.4" fill="#e8d68a"/><rect x="307.6" y="1049.2" width="28.5" height="28.4" fill="#eff3e3"/><rect x="335.8" y="1049.2" width="56.7" height="28.4" fill="#c8e0d6"/><rect x="392" y="1049.2" width="68.5" height="28.4" fill="#b7b03a"/><rect x="70.7" y="1077.2" width="68.5" height="28.4" fill="#1f6aa0"/><rect x="138.8" y="1077.2" width="56.7" height="28.4" fill="#263b8a"/><rect x="195.1" y="1077.2" width="28.5" height="28.4" fill="#2380a6"/><rect x="223.2" y="1077.2" width="28.5" height="28.4" fill="#f6f0b5"/><rect x="251.4" y="1077.2" width="28.5" height="28.4" fill="#e8d68a"/><rect x="279.5" y="1077.2" width="28.5" height="28.4" fill="#f6f0b5"/><rect x="307.6" y="1077.2" width="28.5" height="28.4" fill="#b7b03a"/><rect x="335.8" y="1077.2" width="28.5" height="28.4" fill="#1f7a3d"/><rect x="363.9" y="1077.2" width="28.5" height="28.4" fill="#67973f"/><rect x="392" y="1077.2" width="68.5" height="28.4" fill="#d4c25f"/><rect x="70.7" y="1105.2" width="124.8" height="28.4" fill="#1f6aa0"/><rect x="195.1" y="1105.2" width="28.5" height="28.4" fill="#eff3e3"/><rect x="223.2" y="1105.2" width="56.7" height="28.4" fill="#e8d68a"/><rect x="279.5" y="1105.2" width="28.5" height="28.4" fill="#f6f0b5"/><rect x="307.6" y="1105.2" width="56.7" height="28.4" fill="#7fbcb6"/><rect x="363.9" y="1105.2" width="28.5" height="28.4" fill="#f6f0b5"/><rect x="392" y="1105.2" width="68.5" height="28.4" fill="#d4c25f"/><rect x="70.7" y="1133.1" width="68.5" height="28.4" fill="#2380a6"/><rect x="138.8" y="1133.1" width="28.5" height="28.4" fill="#3597aa"/><rect x="167" y="1133.1" width="28.5" height="28.4" fill="#a4cbc2"/><rect x="195.1" y="1133.1" width="56.7" height="28.4" fill="#c8e0d6"/><rect x="251.4" y="1133.1" width="28.5" height="28.4" fill="#2380a6"/><rect x="279.5" y="1133.1" width="28.5" height="28.4" fill="#3597aa"/><rect x="307.6" y="1133.1" width="28.5" height="28.4" fill="#a4cbc2"/><rect x="335.8" y="1133.1" width="28.5" height="28.4" fill="#c8e0d6"/><rect x="363.9" y="1133.1" width="28.5" height="28.4" fill="#e8d68a"/><rect x="392" y="1133.1" width="68.5" height="28.4" fill="#f6f0b5"/><rect x="70.7" y="1161.1" width="68.5" height="28.4" fill="#2380a6"/><rect x="138.8" y="1161.1" width="28.5" height="28.4" fill="#52a8ab"/><rect x="167" y="1161.1" width="28.5" height="28.4" fill="#a4cbc2"/><rect x="195.1" y="1161.1" width="56.7" height="28.4" fill="#7fbcb6"/><rect x="251.4" y="1161.1" width="28.5" height="28.4" fill="#c8e0d6"/><rect x="279.5" y="1161.1" width="56.7" height="28.4" fill="#a4cbc2"/><rect x="335.8" y="1161.1" width="28.5" height="28.4" fill="#c8e0d6"/><rect x="363.9" y="1161.1" width="96.7" height="28.4" fill="#eff3e3"/><rect x="70.7" y="1189.1" width="68.5" height="28.4" fill="#3597aa"/><rect x="138.8" y="1189.1" width="28.5" height="28.4" fill="#7fbcb6"/><rect x="167" y="1189.1" width="28.5" height="28.4" fill="#a4cbc2"/><rect x="195.1" y="1189.1" width="28.5" height="28.4" fill="#f6f0b5"/><rect x="223.2" y="1189.1" width="28.5" height="28.4" fill="#b7b03a"/><rect x="251.4" y="1189.1" width="28.5" height="28.4" fill="#1a3322"/><rect x="279.5" y="1189.1" width="28.5" height="28.4" fill="#e8d68a"/><rect x="307.6" y="1189.1" width="28.5" height="28.4" fill="#f6f0b5"/><rect x="335.8" y="1189.1" width="28.5" height="28.4" fill="#7fbcb6"/><rect x="363.9" y="1189.1" width="96.7" height="28.4" fill="#2380a6"/><rect x="70.7" y="1217.1" width="68.5" height="28.4" fill="#3597aa"/><rect x="138.8" y="1217.1" width="28.5" height="28.4" fill="#7fbcb6"/><rect x="167" y="1217.1" width="28.5" height="28.4" fill="#c8e0d6"/><rect x="195.1" y="1217.1" width="28.5" height="28.4" fill="#e8d68a"/><rect x="223.2" y="1217.1" width="28.5" height="28.4" fill="#3d8a43"/><rect x="251.4" y="1217.1" width="28.5" height="28.4" fill="#1a3322"/><rect x="279.5" y="1217.1" width="28.5" height="28.4" fill="#a4cbc2"/><rect x="307.6" y="1217.1" width="28.5" height="28.4" fill="#c8e0d6"/><rect x="335.8" y="1217.1" width="28.5" height="28.4" fill="#3597aa"/><rect x="363.9" y="1217.1" width="96.7" height="28.4" fill="#1f6aa0"/><rect x="70.7" y="1245" width="68.5" height="28.4" fill="#3597aa"/><rect x="138.8" y="1245" width="28.5" height="28.4" fill="#a4cbc2"/><rect x="167" y="1245" width="28.5" height="28.4" fill="#c8e0d6"/><rect x="195.1" y="1245" width="28.5" height="28.4" fill="#e8d68a"/><rect x="223.2" y="1245" width="28.5" height="28.4" fill="#d4c25f"/><rect x="251.4" y="1245" width="28.5" height="28.4" fill="#c8e0d6"/><rect x="279.5" y="1245" width="28.5" height="28.4" fill="#52a8ab"/><rect x="307.6" y="1245" width="28.5" height="28.4" fill="#2380a6"/><rect x="335.8" y="1245" width="56.7" height="28.4" fill="#1f6aa0"/><rect x="392" y="1245" width="68.5" height="28.4" fill="#2380a6"/><rect x="70.7" y="1273" width="68.5" height="28.4" fill="#52a8ab"/><rect x="138.8" y="1273" width="28.5" height="28.4" fill="#a4cbc2"/><rect x="167" y="1273" width="28.5" height="28.4" fill="#c8e0d6"/><rect x="195.1" y="1273" width="28.5" height="28.4" fill="#eff3e3"/><rect x="223.2" y="1273" width="28.5" height="28.4" fill="#e8d68a"/><rect x="251.4" y="1273" width="28.5" height="28.4" fill="#7fbcb6"/><rect x="279.5" y="1273" width="28.5" height="28.4" fill="#3597aa"/><rect x="307.6" y="1273" width="28.5" height="28.4" fill="#2380a6"/><rect x="335.8" y="1273" width="28.5" height="28.4" fill="#1f6aa0"/><rect x="363.9" y="1273" width="96.7" height="28.4" fill="#3597aa"/><rect x="70.7" y="1301" width="68.5" height="28.4" fill="#52a8ab"/><rect x="138.8" y="1301" width="28.5" height="28.4" fill="#7fbcb6"/><rect x="167" y="1301" width="28.5" height="28.4" fill="#a4cbc2"/><rect x="195.1" y="1301" width="28.5" height="28.4" fill="#c8e0d6"/><rect x="223.2" y="1301" width="28.5" height="28.4" fill="#eff3e3"/><rect x="251.4" y="1301" width="28.5" height="28.4" fill="#7fbcb6"/><rect x="279.5" y="1301" width="28.5" height="28.4" fill="#1c539d"/><rect x="307.6" y="1301" width="28.5" height="28.4" fill="#1f6aa0"/><rect x="335.8" y="1301" width="28.5" height="28.4" fill="#2380a6"/><rect x="363.9" y="1301" width="96.7" height="28.4" fill="#3597aa"/><rect x="70.7" y="1328.9" width="68.5" height="28.4" fill="#52a8ab"/><rect x="138.8" y="1328.9" width="56.7" height="28.4" fill="#7fbcb6"/><rect x="195.1" y="1328.9" width="56.7" height="28.4" fill="#c8e0d6"/><rect x="251.4" y="1328.9" width="28.5" height="28.4" fill="#eff3e3"/><rect x="279.5" y="1328.9" width="28.5" height="28.4" fill="#3597aa"/><rect x="307.6" y="1328.9" width="28.5" height="28.4" fill="#a4cbc2"/><rect x="335.8" y="1328.9" width="28.5" height="28.4" fill="#c8e0d6"/><rect x="363.9" y="1328.9" width="96.7" height="28.4" fill="#52a8ab"/><rect x="70.7" y="1356.9" width="68.5" height="28.4" fill="#3597aa"/><rect x="138.8" y="1356.9" width="56.7" height="28.4" fill="#52a8ab"/><rect x="195.1" y="1356.9" width="56.7" height="28.4" fill="#7fbcb6"/><rect x="251.4" y="1356.9" width="28.5" height="28.4" fill="#c8e0d6"/><rect x="279.5" y="1356.9" width="28.5" height="28.4" fill="#52a8ab"/><rect x="307.6" y="1356.9" width="56.7" height="28.4" fill="#c8e0d6"/><rect x="363.9" y="1356.9" width="28.5" height="28.4" fill="#52a8ab"/><rect x="392" y="1356.9" width="68.5" height="28.4" fill="#3597aa"/><rect x="70.7" y="1384.9" width="181.1" height="28.4" fill="#3597aa"/><rect x="251.4" y="1384.9" width="56.7" height="28.4" fill="#a4cbc2"/><rect x="307.6" y="1384.9" width="84.8" height="28.4" fill="#52a8ab"/><rect x="392" y="1384.9" width="68.5" height="28.4" fill="#3597aa"/><rect x="70.7" y="1412.8" width="152.9" height="28.4" fill="#2380a6"/><rect x="223.2" y="1412.8" width="28.5" height="28.4" fill="#3597aa"/><rect x="251.4" y="1412.8" width="28.5" height="28.4" fill="#52a8ab"/><rect x="279.5" y="1412.8" width="28.5" height="28.4" fill="#7fbcb6"/><rect x="307.6" y="1412.8" width="84.8" height="28.4" fill="#3597aa"/><rect x="392" y="1412.8" width="68.5" height="28.4" fill="#2380a6"/><rect x="70.7" y="1440.8" width="96.7" height="28.4" fill="#1c539d"/><rect x="167" y="1440.8" width="56.7" height="28.4" fill="#1f6aa0"/><rect x="223.2" y="1440.8" width="28.5" height="28.4" fill="#2380a6"/><rect x="251.4" y="1440.8" width="28.5" height="28.4" fill="#3597aa"/><rect x="279.5" y="1440.8" width="28.5" height="28.4" fill="#52a8ab"/><rect x="307.6" y="1440.8" width="56.7" height="28.4" fill="#2380a6"/><rect x="363.9" y="1440.8" width="96.7" height="28.4" fill="#1f6aa0"/><rect x="70.7" y="1468.8" width="96.7" height="28.4" fill="#263b8a"/><rect x="167" y="1468.8" width="28.5" height="28.4" fill="#1c539d"/><rect x="195.1" y="1468.8" width="28.5" height="28.4" fill="#1f6aa0"/><rect x="223.2" y="1468.8" width="28.5" height="28.4" fill="#2380a6"/><rect x="251.4" y="1468.8" width="28.5" height="28.4" fill="#3597aa"/><rect x="279.5" y="1468.8" width="28.5" height="28.4" fill="#7fbcb6"/><rect x="307.6" y="1468.8" width="28.5" height="28.4" fill="#2380a6"/><rect x="335.8" y="1468.8" width="28.5" height="28.4" fill="#263b8a"/><rect x="363.9" y="1468.8" width="96.7" height="28.4" fill="#222a5a"/><rect x="70.7" y="1496.8" width="68.5" height="28.4" fill="#131d3a"/><rect x="138.8" y="1496.8" width="56.7" height="28.4" fill="#222a5a"/><rect x="195.1" y="1496.8" width="28.5" height="28.4" fill="#263b8a"/><rect x="223.2" y="1496.8" width="28.5" height="28.4" fill="#1c539d"/><rect x="251.4" y="1496.8" width="56.7" height="28.4" fill="#1f6aa0"/><rect x="307.6" y="1496.8" width="28.5" height="28.4" fill="#263b8a"/><rect x="335.8" y="1496.8" width="28.5" height="28.4" fill="#222a5a"/><rect x="363.9" y="1496.8" width="28.5" height="28.4" fill="#131d3a"/><rect x="392" y="1496.8" width="68.5" height="28.4" fill="#222a5a"/><rect x="70.7" y="1524.7" width="152.9" height="28.4" fill="#131d3a"/><rect x="223.2" y="1524.7" width="28.5" height="28.4" fill="#222a5a"/><rect x="251.4" y="1524.7" width="56.7" height="28.4" fill="#263b8a"/><rect x="307.6" y="1524.7" width="28.5" height="28.4" fill="#222a5a"/><rect x="335.8" y="1524.7" width="124.8" height="28.4" fill="#131d3a"/><rect x="70.7" y="1552.7" width="389.9" height="28.4" fill="#131d3a"/><rect x="70.7" y="1580.7" width="389.9" height="68.4" fill="#131d3a"/><path d="M263.7 906 L422 906 L422 1015 L413.8 1015 L403.6 990 L390.9 969.6 L378.2 951.8 L362.9 956.9 L350.2 969.6 L335 964.5 L312 954.3 L294.2 939 L286.6 929 L268.8 916.2Z" fill="#1b1f16"/><rect x="144" y="957" width="30" height="14" fill="#1a3322"/><rect x="195" y="959" width="25" height="14" fill="#1a3322"/><rect x="236" y="961" width="33" height="12" fill="#154a2d"/><path d="M237.7 1043 L250.7 1045 L262.7 1050 L266.7 1062 L262.7 1083 L270.7 1099 L276.7 1111 L275.7 1125 L264.7 1127 L255.7 1112 L244.7 1089 L240.7 1071 L238.7 1056ZM243.7 1105 L250.7 1107 L254.7 1126 L254.7 1146 L250.7 1163 L241.7 1162 L239.7 1136 L240.7 1116ZM271.7 1131 L282.7 1130 L288.7 1137 L287.7 1149 L278.7 1153 L268.7 1149 L266.7 1139ZM270.7 1172 L278.7 1176 L290.7 1191 L291.7 1201 L282.7 1207 L272.7 1204 L268.7 1189ZM268.7 1209 L278.7 1211 L284.7 1226 L294.7 1246 L292.7 1261 L284.7 1276 L276.7 1288 L270.7 1283 L268.7 1261 L265.7 1236ZM235.7 1201 L244.7 1200 L249.7 1211 L250.7 1231 L246.7 1245 L236.7 1246 L233.7 1231 L233.7 1216ZM240.7 1252 L250.7 1252 L255.7 1266 L253.7 1281 L246.7 1291 L239.7 1286 L238.7 1271ZM244.7 1298 L258.7 1297 L270.7 1303 L272.7 1311 L264.7 1320 L250.7 1321 L243.7 1314ZM268.7 1322 L284.7 1319 L285.7 1331 L278.7 1340 L266.7 1341 L263.7 1333ZM260.7 1388 L268.7 1387 L271.7 1396 L278.7 1401 L282.7 1409 L278.7 1419 L266.7 1422 L252.7 1421 L246.7 1414 L247.7 1404 L254.7 1398 L258.7 1393ZM255.7 1471 L259.7 1474 L263.7 1471 L265.7 1476 L260.7 1481 L255.7 1477Z" fill="#ffffff" stroke="#ffffff" stroke-width="6" stroke-linejoin="round"/><path d="M237 1040 L250 1041 L265 1048 L263 1060 L259 1074 L269 1089 L277 1108 L279 1123 L288 1138 L286 1147 L261 1148 L255 1158 L251 1173 L241 1173 L237 1158 L237 1128 L241 1109 L244 1094 L241 1074 L239 1055ZM268 1176 L280 1178 L293 1192 L284 1219 L294 1248 L286 1268 L282 1278 L273 1283 L269 1268 L267 1239 L271 1210 L270 1190ZM235 1198 L251 1195 L253 1200 L249 1219 L250 1249 L254 1259 L253 1288 L239 1288 L239 1249 L234 1244 L234 1220ZM243 1293 L258 1291 L272 1296 L275 1306 L268 1316 L255 1320 L246 1314 L243 1303ZM263 1320 L275 1321 L286 1319 L286 1332 L279 1341 L268 1341 L263 1332ZM262 1386 L272 1385 L276 1395 L280 1402 L284 1412 L281 1424 L272 1430 L258 1431 L249 1424 L247 1412 L252 1403 L258 1398Z" fill="#ffffff"/>
<path d="M138.83 1608.5V906M195.1 1608.5V906M251.37 1608.5V906M307.64 1608.5V906M363.91 1608.5V906M109.1 993.3H422M109.1 1105.18H422M109.1 1217.06H422M109.1 1328.94H422M109.1 1440.82H422M109.1 1552.7H422" stroke="#000" stroke-opacity="0.33" stroke-width="2.4" stroke-dasharray="11.8 5.8" fill="none"/>
<path d="M237.8 1042.2 L242 1043.8 L246.4 1043.9 L250.6 1045.3 L254.5 1047 L259.2 1047 L264.2 1049.5 L263 1054.3 L266.1 1057.8 L267.5 1062.2 L264.3 1065.9 L265.2 1070.4 L263.2 1074.4 L263.6 1078.8 L262.3 1083.2 L265.7 1086.5 L266.3 1091.2 L267.6 1095.5 L270.6 1099 L272 1103.3 L274.2 1107.2 L278.1 1111.1 L275.5 1115.6 L275.7 1120.3 L275.8 1125.6 L270.5 1127.5 L265.7 1126.4 L262.4 1123.3 L260.8 1119.1 L259 1115.1 L256.3 1111.7 L255.1 1107.6 L251.7 1104.5 L251.1 1100.1 L248.2 1096.7 L247.8 1092.2 L245.9 1088.7 L242.4 1084.8 L241.6 1080.3 L240.8 1075.7 L242.2 1070.8 L239.8 1066 L239.8 1060.9 L238.1 1056 L238.4 1051.7 L237.7 1047.4ZM246.5 1051.4 L253.3 1053.3 L259.2 1056.8 L259.8 1061.7 L261.6 1066 L260.4 1070.1 L263.3 1074.8 L261.1 1078.7 L258.7 1083.5 L261.3 1087.4 L261.8 1092 L266.2 1095.2 L266.5 1100.5 L269.1 1105.4 L267.6 1110.9 L267.5 1116.2 L259.7 1118.9 L258.8 1114.5 L257.4 1110.4 L258.1 1105.6 L256 1101.2 L252.2 1097.3 L253.1 1091.9 L249.1 1087.9 L250.2 1082.8 L247.5 1078.3 L246.3 1073.5 L249.4 1069.2 L246.4 1065.4 L246 1061.4 L248.8 1056Z" fill="none" stroke="#000" stroke-width="3.5" stroke-dasharray="6 4" stroke-linecap="round" stroke-linejoin="round"/><path d="M243.6 1105.2 L250.9 1107 L251.5 1111.8 L253.6 1116.3 L252.7 1121.5 L253.7 1126 L254.2 1130 L255.8 1134 L254.6 1138 L255.3 1142 L255.5 1146.2 L252.3 1149.9 L251.2 1154.1 L253.1 1159.1 L250.8 1161.9 L246.2 1162.2 L241.3 1162 L240.7 1157.7 L241.6 1153.3 L240.6 1149 L241 1144.6 L240.5 1140.3 L238.5 1135.9 L240.8 1132 L241.6 1128.1 L241.8 1124.1 L240.9 1120 L239.3 1115.6 L240.7 1110.1ZM245.3 1110.4 L248.4 1112.2 L249.1 1117.3 L252 1122.1 L253.2 1127.3 L251.8 1131.3 L252.2 1135.3 L250 1139.3 L250.5 1143.2 L250.1 1147.8 L249.6 1152.4 L249.2 1156.3 L242.7 1156.2 L243.7 1152 L242.3 1147.9 L245.1 1143.6 L241.5 1139.6 L244.3 1135.4 L241.5 1131.3 L244 1127.4 L242.8 1123.3 L243.2 1119.3 L245.7 1115.2Z" fill="none" stroke="#000" stroke-width="3.5" stroke-dasharray="6 4" stroke-linecap="round" stroke-linejoin="round"/><path d="M271.7 1131.1 L277.3 1131.5 L281.6 1131 L286.2 1133.1 L287.9 1136.9 L287.7 1140.9 L287.5 1145 L288.2 1150.1 L283.8 1152.4 L278.6 1153.3 L274 1150.3 L267.9 1149.2 L267.7 1144 L266.2 1138.7 L270.1 1135.6Z" fill="none" stroke="#000" stroke-width="3.5" stroke-dasharray="6 4" stroke-linecap="round" stroke-linejoin="round"/><path d="M270.4 1172.6 L274.2 1175 L279.5 1175.4 L280.5 1180.7 L285.5 1182.9 L287.3 1187.6 L292 1190.9 L290.4 1196.1 L292.3 1201.9 L286.8 1203.5 L282.9 1206.3 L277.9 1204.7 L272.5 1204 L272.5 1198.7 L271.5 1193.6 L267.5 1188.9 L269.3 1184.8 L271.2 1180.7 L271 1176.3ZM274 1176.7 L280.1 1178.5 L282.3 1182.5 L283.1 1187.3 L287.4 1191 L284.8 1195.2 L285.4 1198.3 L280.5 1205.6 L276.4 1201.4 L275 1197.5 L274.8 1193.4 L275.3 1189.6 L275.8 1185.1 L273.9 1180.4Z" fill="none" stroke="#000" stroke-width="3.5" stroke-dasharray="6 4" stroke-linecap="round" stroke-linejoin="round"/><path d="M269 1207.5 L273.9 1208.8 L279 1210.9 L279.7 1215 L282.8 1218.1 L284.4 1221.8 L285.5 1225.6 L286 1230.4 L289.7 1233.5 L290 1238.3 L292.2 1242.2 L295.9 1246.2 L293.9 1251 L293.5 1256 L292.9 1261.1 L289.3 1264 L289.8 1269.1 L288.1 1273 L283.5 1275.2 L282.3 1280.2 L280.2 1284.5 L276.4 1288.4 L270.3 1283 L271.8 1278.5 L269 1274.3 L268.6 1269.9 L269.4 1265.4 L268.9 1261 L269.6 1256.7 L268.8 1252.5 L266.7 1248.6 L265.8 1244.4 L267.3 1240 L267.3 1236.2 L264.7 1231.3 L267.4 1227.1 L268.4 1222.6 L268.2 1218.1 L267.3 1213.4ZM273.1 1217.4 L278.1 1218.9 L278.5 1223.1 L281.7 1226.5 L281.4 1230.9 L281.9 1235.2 L283.2 1239.3 L287.3 1242.3 L286.9 1246.7 L286.6 1250.7 L286.7 1254.7 L284.6 1258.1 L284.8 1262.7 L283.6 1266.8 L280.3 1270 L279.3 1275.3 L276.9 1280.8 L273.5 1276.4 L274 1271.9 L271.9 1267.7 L273.9 1263.1 L274.1 1258.7 L272.5 1254.8 L273.9 1250.6 L273.9 1246.6 L272.1 1242.7 L272.2 1238.8 L270.3 1234.3 L270.4 1230 L274.4 1225.9 L272 1221.4Z" fill="none" stroke="#000" stroke-width="3.5" stroke-dasharray="6 4" stroke-linecap="round" stroke-linejoin="round"/><path d="M235.7 1201.4 L240.2 1200.3 L244 1200.3 L247.6 1203.1 L247.5 1207.6 L250.1 1211 L249.6 1215 L251.2 1218.9 L250.8 1223 L251.2 1227 L251.2 1231.1 L248.7 1235.5 L248.1 1240.4 L246.6 1243.5 L241.7 1245.2 L235.8 1246.2 L236.1 1240.9 L234.8 1236 L232.6 1231 L233.8 1226 L232.1 1221 L233.3 1215.9 L234.5 1211 L235.6 1206.1ZM238.3 1205.2 L241.8 1205 L246.4 1208.4 L246.9 1213.3 L244.3 1217.4 L245.6 1221.3 L247.9 1225.3 L247.1 1229.4 L243.9 1234.6 L244.4 1240.8 L237 1241.6 L239.9 1237.1 L236.3 1233.5 L237.8 1229.3 L237.7 1225.3 L237 1221.3 L239 1217.5 L236.3 1213.2 L238.3 1209.4Z" fill="none" stroke="#000" stroke-width="3.5" stroke-dasharray="6 4" stroke-linecap="round" stroke-linejoin="round"/><path d="M240.7 1251.3 L245.7 1252 L252 1251.5 L252.9 1256.5 L255.3 1260.9 L257.3 1266.2 L255.7 1271.1 L255.6 1276.2 L254.2 1281.3 L250.7 1283.9 L250.3 1288.5 L246.9 1290.7 L242.5 1289.5 L240.6 1285.9 L240.1 1280.9 L238.1 1276.1 L239.8 1271.1 L239.9 1266.3 L238.3 1261.4 L239.9 1256.7ZM243.3 1255.3 L249.1 1255.8 L250.4 1261.4 L252.2 1267.1 L251.2 1271.1 L251.3 1275.1 L252.1 1279.9 L248.9 1283.2 L245.3 1288.4 L241.2 1283.1 L241.7 1279.1 L244.3 1275 L242.2 1271.1 L242.8 1266 L244.6 1261Z" fill="none" stroke="#000" stroke-width="3.5" stroke-dasharray="6 4" stroke-linecap="round" stroke-linejoin="round"/><path d="M244.8 1299.5 L249.3 1296.2 L254.1 1298.1 L258.7 1297 L262.1 1300.3 L266.8 1300.7 L269.4 1303.3 L272.8 1306.7 L271.5 1309.9 L270.2 1314.2 L268.1 1317.7 L264.7 1320.5 L260 1319.9 L255.5 1322.2 L250.4 1321.3 L246.1 1318.6 L242.3 1313.9 L242.9 1309.9 L243.3 1305.9 L243.7 1302ZM250.8 1301.9 L259.2 1298.3 L261.5 1302 L265 1304.2 L264.5 1309.7 L264.3 1314.5 L261.7 1318 L254.2 1318.5 L249.7 1313 L252 1308.8 L252 1304.6Z" fill="none" stroke="#000" stroke-width="3.5" stroke-dasharray="6 4" stroke-linecap="round" stroke-linejoin="round"/><path d="M268.5 1321.1 L273 1322.6 L277 1321.9 L280.4 1318.2 L283.6 1319.1 L284.3 1323.1 L284.8 1327 L286.9 1332 L281.4 1334.9 L278.7 1340.4 L274.6 1339.4 L270.7 1340.6 L267.5 1340.7 L265.9 1336.7 L263.2 1332.8 L265.9 1329.6 L268.4 1326.3Z" fill="none" stroke="#000" stroke-width="3.5" stroke-dasharray="6 4" stroke-linecap="round" stroke-linejoin="round"/><path d="M260.5 1386.6 L264.7 1387.3 L269.5 1386.7 L270.4 1391.4 L272.2 1395.4 L274.5 1399.4 L278.5 1401.1 L280 1405.3 L281.4 1408.5 L280.7 1414 L278.7 1419.1 L275 1421.2 L270.5 1420.1 L266.6 1423.4 L262 1422.1 L257.3 1422.4 L253.3 1420.5 L249.6 1417.6 L246.7 1414 L247.3 1409 L248.4 1404.8 L252.2 1402.2 L254.4 1397.7 L259.8 1393.5ZM262.4 1392.2 L264.9 1390.9 L267.5 1398.4 L270.6 1402.2 L275.8 1408.5 L272.9 1412 L272.2 1416.3 L265.4 1419.4 L259 1416.9 L253.8 1412 L256.7 1408.2 L254.6 1403.7 L259.1 1399.4 L262.2 1395.6Z" fill="none" stroke="#000" stroke-width="3.5" stroke-dasharray="6 4" stroke-linecap="round" stroke-linejoin="round"/><path d="M256.1 1470.4 L259.7 1474 L263.5 1471.1 L265.8 1476.1 L260.9 1480.8 L255.7 1477Z" fill="none" stroke="#000" stroke-width="3.5" stroke-dasharray="6 4" stroke-linecap="round" stroke-linejoin="round"/><path d="M232.1 1080.6 L226.6 1083 L224.2 1088.5 L229.1 1091.5 L229.3 1085.4Z" fill="none" stroke="#000" stroke-width="3.5" stroke-dasharray="6 4" stroke-linecap="round" stroke-linejoin="round"/><circle cx="253.7" cy="976" r="4.5" fill="#000"/><circle cx="235.7" cy="1014" r="2.6" fill="#000"/><circle cx="274.4" cy="1455.4" r="2.8" fill="#000"/><circle cx="274.4" cy="1160.8" r="2.2" fill="#000"/>
</svg>
<rect x="112.4" y="907.4" width="308.2" height="700.7" fill="none" stroke="#000" stroke-width="2.8"/>
<svg x="458.5" y="906" width="38" height="703.5" viewBox="0 0 38 703.5" preserveAspectRatio="none">
<rect x="0" y="672.90" width="38.0" height="30.90" fill="#131d3a"/><rect x="0" y="643.71" width="38.0" height="29.50" fill="#222a5a"/><rect x="0" y="614.51" width="38.0" height="29.50" fill="#263b8a"/><rect x="0" y="585.32" width="38.0" height="29.50" fill="#1c539d"/><rect x="0" y="556.12" width="38.0" height="29.50" fill="#1f6aa0"/><rect x="0" y="526.92" width="38.0" height="29.50" fill="#2380a6"/><rect x="0" y="497.73" width="38.0" height="29.50" fill="#3597aa"/><rect x="0" y="468.53" width="38.0" height="29.50" fill="#52a8ab"/><rect x="0" y="439.34" width="38.0" height="29.50" fill="#7fbcb6"/><rect x="0" y="410.14" width="38.0" height="29.50" fill="#a4cbc2"/><rect x="0" y="380.95" width="38.0" height="29.50" fill="#c8e0d6"/><rect x="0" y="351.75" width="38.0" height="29.50" fill="#eff3e3"/><rect x="0" y="322.55" width="38.0" height="29.50" fill="#f6f0b5"/><rect x="0" y="293.36" width="38.0" height="29.50" fill="#e8d68a"/><rect x="0" y="264.16" width="38.0" height="29.50" fill="#d4c25f"/><rect x="0" y="234.97" width="38.0" height="29.50" fill="#b7b03a"/><rect x="0" y="205.77" width="38.0" height="29.50" fill="#909f3c"/><rect x="0" y="176.58" width="38.0" height="29.50" fill="#67973f"/><rect x="0" y="147.38" width="38.0" height="29.50" fill="#3d8a43"/><rect x="0" y="118.18" width="38.0" height="29.50" fill="#1f7a3d"/><rect x="0" y="88.99" width="38.0" height="29.50" fill="#146035"/><rect x="0" y="59.79" width="38.0" height="29.50" fill="#154a2d"/><rect x="0" y="30.60" width="38.0" height="29.50" fill="#1a3322"/><rect x="0" y="0.00" width="38.0" height="30.90" fill="#1b1f16"/>
</svg>
<rect x="459.9" y="907.4" width="35.2" height="700.7" fill="none" stroke="#000" stroke-width="2.8"/>
<text x="524.06" y="1010.59" font-size="47.65" textLength="26.43" lengthAdjust="spacingAndGlyphs">8</text>
<text x="552.58" y="1010.59" font-size="47.65" textLength="26.15" lengthAdjust="spacingAndGlyphs">0</text>
<text x="580.96" y="1010.59" font-size="47.65" textLength="26.15" lengthAdjust="spacingAndGlyphs">0</text>
<text x="524.4" y="1185.76" font-size="47.65" textLength="25.58" lengthAdjust="spacingAndGlyphs">7</text>
<text x="552.58" y="1185.76" font-size="47.65" textLength="26.15" lengthAdjust="spacingAndGlyphs">0</text>
<text x="580.96" y="1185.76" font-size="47.65" textLength="26.15" lengthAdjust="spacingAndGlyphs">0</text>
<text x="523.74" y="1360.94" font-size="47.65" textLength="27.06" lengthAdjust="spacingAndGlyphs">6</text>
<text x="552.58" y="1360.94" font-size="47.65" textLength="26.15" lengthAdjust="spacingAndGlyphs">0</text>
<text x="580.96" y="1360.94" font-size="47.65" textLength="26.15" lengthAdjust="spacingAndGlyphs">0</text>
<text x="524.76" y="1536.11" font-size="47.65" textLength="24.68" lengthAdjust="spacingAndGlyphs">5</text>
<text x="552.58" y="1536.11" font-size="47.65" textLength="26.15" lengthAdjust="spacingAndGlyphs">0</text>
<text x="580.96" y="1536.11" font-size="47.65" textLength="26.15" lengthAdjust="spacingAndGlyphs">0</text>
<path d="M98 993.3H112M98 1105.18H112M98 1217.06H112M98 1328.94H112M98 1440.82H112M98 1552.7H112M195.1 1608.5V1622.5M363.91 1608.5V1622.5M495.5 994.99H509.5M495.5 1170.16H509.5M495.5 1345.34H509.5M495.5 1520.51H509.5" stroke="#000" stroke-width="2.6" fill="none"/>
<text x="-1.28" y="1008.9" font-size="47.65" textLength="26.43" lengthAdjust="spacingAndGlyphs">8</text>
<text x="27.45" y="1008.9" font-size="47.65" textLength="19.7" lengthAdjust="spacingAndGlyphs">°</text>
<text x="49.2" y="1008.9" font-size="47.65" textLength="31.81" lengthAdjust="spacingAndGlyphs">N</text>
<text x="-1.6" y="1120.78" font-size="47.65" textLength="27.06" lengthAdjust="spacingAndGlyphs">6</text>
<text x="27.45" y="1120.78" font-size="47.65" textLength="19.7" lengthAdjust="spacingAndGlyphs">°</text>
<text x="49.2" y="1120.78" font-size="47.65" textLength="31.81" lengthAdjust="spacingAndGlyphs">N</text>
<text x="-1.14" y="1232.66" font-size="47.65" textLength="26.15" lengthAdjust="spacingAndGlyphs">4</text>
<text x="27.45" y="1232.66" font-size="47.65" textLength="19.7" lengthAdjust="spacingAndGlyphs">°</text>
<text x="49.2" y="1232.66" font-size="47.65" textLength="31.81" lengthAdjust="spacingAndGlyphs">N</text>
<text x="-1.25" y="1344.54" font-size="47.65" textLength="25.2" lengthAdjust="spacingAndGlyphs">2</text>
<text x="27.45" y="1344.54" font-size="47.65" textLength="19.7" lengthAdjust="spacingAndGlyphs">°</text>
<text x="49.2" y="1344.54" font-size="47.65" textLength="31.81" lengthAdjust="spacingAndGlyphs">N</text>
<text x="32.23" y="1456.42" font-size="47.65" textLength="26.15" lengthAdjust="spacingAndGlyphs">0</text>
<text x="60.81" y="1456.42" font-size="47.65" textLength="19.7" lengthAdjust="spacingAndGlyphs">°</text>
<text x="3.8" y="1568.3" font-size="47.65" textLength="25.2" lengthAdjust="spacingAndGlyphs">2</text>
<text x="32.5" y="1568.3" font-size="47.65" textLength="19.7" lengthAdjust="spacingAndGlyphs">°</text>
<text x="54.62" y="1568.3" font-size="47.65" textLength="26.52" lengthAdjust="spacingAndGlyphs">S</text>
<svg x="672.3" y="906" width="311" height="703.5" viewBox="672.3 906 311 703.5" overflow="hidden">
<defs><filter id="blC" x="-50%" y="-20%" width="200%" height="140%"><feGaussianBlur stdDeviation="6"/></filter><filter id="blC2" x="-50%" y="-20%" width="200%" height="140%"><feGaussianBlur stdDeviation="4"/></filter><filter id="blC3" x="-50%" y="-20%" width="200%" height="140%"><feGaussianBlur stdDeviation="2"/></filter></defs><g filter="url(#blC)"><rect x="632" y="869.4" width="68.5" height="68.4" fill="#feeba0"/><rect x="700.1" y="869.4" width="56.7" height="68.4" fill="#fff8b5"/><rect x="756.4" y="869.4" width="28.5" height="68.4" fill="#feeba0"/><rect x="784.5" y="869.4" width="56.7" height="68.4" fill="#fff8b5"/><rect x="840.8" y="869.4" width="28.5" height="68.4" fill="#feeba0"/><rect x="868.9" y="869.4" width="56.7" height="68.4" fill="#fff8b5"/><rect x="925.2" y="869.4" width="28.5" height="68.4" fill="#feeba0"/><rect x="953.3" y="869.4" width="68.5" height="68.4" fill="#fff8b5"/><rect x="632" y="937.4" width="96.7" height="28.4" fill="#fff8b5"/><rect x="728.3" y="937.4" width="28.5" height="28.4" fill="#feeba0"/><rect x="756.4" y="937.4" width="56.7" height="28.4" fill="#fff8b5"/><rect x="812.7" y="937.4" width="28.5" height="28.4" fill="#feeba0"/><rect x="840.8" y="937.4" width="56.7" height="28.4" fill="#fff8b5"/><rect x="897.1" y="937.4" width="28.5" height="28.4" fill="#feeba0"/><rect x="925.2" y="937.4" width="96.7" height="28.4" fill="#fff8b5"/><rect x="632" y="965.3" width="68.5" height="28.4" fill="#fff8b5"/><rect x="700.1" y="965.3" width="28.5" height="28.4" fill="#feeba0"/><rect x="728.3" y="965.3" width="56.7" height="28.4" fill="#fff8b5"/><rect x="784.5" y="965.3" width="28.5" height="28.4" fill="#feeba0"/><rect x="812.7" y="965.3" width="56.7" height="28.4" fill="#fff8b5"/><rect x="868.9" y="965.3" width="28.5" height="28.4" fill="#feeba0"/><rect x="897.1" y="965.3" width="56.7" height="28.4" fill="#fff8b5"/><rect x="953.3" y="965.3" width="68.5" height="28.4" fill="#feeba0"/><rect x="632" y="993.3" width="68.5" height="28.4" fill="#feeba0"/><rect x="700.1" y="993.3" width="56.7" height="28.4" fill="#fff8b5"/><rect x="756.4" y="993.3" width="28.5" height="28.4" fill="#feeba0"/><rect x="784.5" y="993.3" width="56.7" height="28.4" fill="#fff8b5"/><rect x="840.8" y="993.3" width="28.5" height="28.4" fill="#feeba0"/><rect x="868.9" y="993.3" width="56.7" height="28.4" fill="#fff8b5"/><rect x="925.2" y="993.3" width="28.5" height="28.4" fill="#feeba0"/><rect x="953.3" y="993.3" width="68.5" height="28.4" fill="#fff8b5"/><rect x="632" y="1021.3" width="96.7" height="28.4" fill="#fff8b5"/><rect x="728.3" y="1021.3" width="28.5" height="28.4" fill="#feeba0"/><rect x="756.4" y="1021.3" width="56.7" height="28.4" fill="#fff8b5"/><rect x="812.7" y="1021.3" width="28.5" height="28.4" fill="#feeba0"/><rect x="840.8" y="1021.3" width="56.7" height="28.4" fill="#fff8b5"/><rect x="897.1" y="1021.3" width="28.5" height="28.4" fill="#feeba0"/><rect x="925.2" y="1021.3" width="96.7" height="28.4" fill="#fff8b5"/><rect x="632" y="1049.2" width="68.5" height="28.4" fill="#fff8b5"/><rect x="700.1" y="1049.2" width="28.5" height="28.4" fill="#feeba0"/><rect x="728.3" y="1049.2" width="56.7" height="28.4" fill="#fff8b5"/><rect x="784.5" y="1049.2" width="28.5" height="28.4" fill="#feeba0"/><rect x="812.7" y="1049.2" width="56.7" height="28.4" fill="#fff8b5"/><rect x="868.9" y="1049.2" width="28.5" height="28.4" fill="#feeba0"/><rect x="897.1" y="1049.2" width="56.7" height="28.4" fill="#fff8b5"/><rect x="953.3" y="1049.2" width="68.5" height="28.4" fill="#feeba0"/><rect x="632" y="1077.2" width="68.5" height="28.4" fill="#feeba0"/><rect x="700.1" y="1077.2" width="56.7" height="28.4" fill="#fff8b5"/><rect x="756.4" y="1077.2" width="28.5" height="28.4" fill="#feeba0"/><rect x="784.5" y="1077.2" width="56.7" height="28.4" fill="#fff8b5"/><rect x="840.8" y="1077.2" width="28.5" height="28.4" fill="#feeba0"/><rect x="868.9" y="1077.2" width="56.7" height="28.4" fill="#fff8b5"/><rect x="925.2" y="1077.2" width="28.5" height="28.4" fill="#feeba0"/><rect x="953.3" y="1077.2" width="68.5" height="28.4" fill="#fff8b5"/><rect x="632" y="1105.2" width="96.7" height="28.4" fill="#fff8b5"/><rect x="728.3" y="1105.2" width="28.5" height="28.4" fill="#feeba0"/><rect x="756.4" y="1105.2" width="56.7" height="28.4" fill="#fff8b5"/><rect x="812.7" y="1105.2" width="28.5" height="28.4" fill="#feeba0"/><rect x="840.8" y="1105.2" width="56.7" height="28.4" fill="#fff8b5"/><rect x="897.1" y="1105.2" width="28.5" height="28.4" fill="#feeba0"/><rect x="925.2" y="1105.2" width="96.7" height="28.4" fill="#fff8b5"/><rect x="632" y="1133.1" width="68.5" height="28.4" fill="#fff8b5"/><rect x="700.1" y="1133.1" width="28.5" height="28.4" fill="#feeba0"/><rect x="728.3" y="1133.1" width="56.7" height="28.4" fill="#fff8b5"/><rect x="784.5" y="1133.1" width="28.5" height="28.4" fill="#feeba0"/><rect x="812.7" y="1133.1" width="56.7" height="28.4" fill="#fff8b5"/><rect x="868.9" y="1133.1" width="28.5" height="28.4" fill="#feeba0"/><rect x="897.1" y="1133.1" width="56.7" height="28.4" fill="#fff8b5"/><rect x="953.3" y="1133.1" width="68.5" height="28.4" fill="#feeba0"/><rect x="632" y="1161.1" width="68.5" height="28.4" fill="#feeba0"/><rect x="700.1" y="1161.1" width="56.7" height="28.4" fill="#fff8b5"/><rect x="756.4" y="1161.1" width="28.5" height="28.4" fill="#feeba0"/><rect x="784.5" y="1161.1" width="56.7" height="28.4" fill="#fff8b5"/><rect x="840.8" y="1161.1" width="28.5" height="28.4" fill="#feeba0"/><rect x="868.9" y="1161.1" width="56.7" height="28.4" fill="#fff8b5"/><rect x="925.2" y="1161.1" width="28.5" height="28.4" fill="#feeba0"/><rect x="953.3" y="1161.1" width="68.5" height="28.4" fill="#fff8b5"/><rect x="632" y="1189.1" width="96.7" height="28.4" fill="#fff8b5"/><rect x="728.3" y="1189.1" width="28.5" height="28.4" fill="#feeba0"/><rect x="756.4" y="1189.1" width="56.7" height="28.4" fill="#fff8b5"/><rect x="812.7" y="1189.1" width="28.5" height="28.4" fill="#feeba0"/><rect x="840.8" y="1189.1" width="56.7" height="28.4" fill="#fff8b5"/><rect x="897.1" y="1189.1" width="28.5" height="28.4" fill="#feeba0"/><rect x="925.2" y="1189.1" width="96.7" height="28.4" fill="#fff8b5"/><rect x="632" y="1217.1" width="68.5" height="28.4" fill="#fff8b5"/><rect x="700.1" y="1217.1" width="28.5" height="28.4" fill="#feeba0"/><rect x="728.3" y="1217.1" width="56.7" height="28.4" fill="#fff8b5"/><rect x="784.5" y="1217.1" width="28.5" height="28.4" fill="#feeba0"/><rect x="812.7" y="1217.1" width="56.7" height="28.4" fill="#fff8b5"/><rect x="868.9" y="1217.1" width="28.5" height="28.4" fill="#feeba0"/><rect x="897.1" y="1217.1" width="56.7" height="28.4" fill="#fff8b5"/><rect x="953.3" y="1217.1" width="68.5" height="28.4" fill="#feeba0"/><rect x="632" y="1245" width="68.5" height="28.4" fill="#feeba0"/><rect x="700.1" y="1245" width="56.7" height="28.4" fill="#fff8b5"/><rect x="756.4" y="1245" width="28.5" height="28.4" fill="#feeba0"/><rect x="784.5" y="1245" width="56.7" height="28.4" fill="#fff8b5"/><rect x="840.8" y="1245" width="28.5" height="28.4" fill="#feeba0"/><rect x="868.9" y="1245" width="56.7" height="28.4" fill="#fff8b5"/><rect x="925.2" y="1245" width="28.5" height="28.4" fill="#feeba0"/><rect x="953.3" y="1245" width="68.5" height="28.4" fill="#fff8b5"/><rect x="632" y="1273" width="96.7" height="28.4" fill="#fff8b5"/><rect x="728.3" y="1273" width="28.5" height="28.4" fill="#feeba0"/><rect x="756.4" y="1273" width="56.7" height="28.4" fill="#fff8b5"/><rect x="812.7" y="1273" width="28.5" height="28.4" fill="#feeba0"/><rect x="840.8" y="1273" width="56.7" height="28.4" fill="#fff8b5"/><rect x="897.1" y="1273" width="28.5" height="28.4" fill="#feeba0"/><rect x="925.2" y="1273" width="96.7" height="28.4" fill="#fff8b5"/><rect x="632" y="1301" width="68.5" height="28.4" fill="#fff8b5"/><rect x="700.1" y="1301" width="28.5" height="28.4" fill="#feeba0"/><rect x="728.3" y="1301" width="56.7" height="28.4" fill="#fff8b5"/><rect x="784.5" y="1301" width="28.5" height="28.4" fill="#feeba0"/><rect x="812.7" y="1301" width="56.7" height="28.4" fill="#fff8b5"/><rect x="868.9" y="1301" width="28.5" height="28.4" fill="#feeba0"/><rect x="897.1" y="1301" width="56.7" height="28.4" fill="#fff8b5"/><rect x="953.3" y="1301" width="68.5" height="28.4" fill="#feeba0"/><rect x="632" y="1328.9" width="68.5" height="28.4" fill="#feeba0"/><rect x="700.1" y="1328.9" width="56.7" height="28.4" fill="#fff8b5"/><rect x="756.4" y="1328.9" width="28.5" height="28.4" fill="#feeba0"/><rect x="784.5" y="1328.9" width="56.7" height="28.4" fill="#fff8b5"/><rect x="840.8" y="1328.9" width="28.5" height="28.4" fill="#feeba0"/><rect x="868.9" y="1328.9" width="56.7" height="28.4" fill="#fff8b5"/><rect x="925.2" y="1328.9" width="28.5" height="28.4" fill="#feeba0"/><rect x="953.3" y="1328.9" width="68.5" height="28.4" fill="#fff8b5"/><rect x="632" y="1356.9" width="96.7" height="28.4" fill="#fff8b5"/><rect x="728.3" y="1356.9" width="28.5" height="28.4" fill="#feeba0"/><rect x="756.4" y="1356.9" width="56.7" height="28.4" fill="#fff8b5"/><rect x="812.7" y="1356.9" width="28.5" height="28.4" fill="#feeba0"/><rect x="840.8" y="1356.9" width="56.7" height="28.4" fill="#fff8b5"/><rect x="897.1" y="1356.9" width="28.5" height="28.4" fill="#feeba0"/><rect x="925.2" y="1356.9" width="96.7" height="28.4" fill="#fff8b5"/><rect x="632" y="1384.9" width="68.5" height="28.4" fill="#fff8b5"/><rect x="700.1" y="1384.9" width="28.5" height="28.4" fill="#feeba0"/><rect x="728.3" y="1384.9" width="56.7" height="28.4" fill="#fff8b5"/><rect x="784.5" y="1384.9" width="28.5" height="28.4" fill="#feeba0"/><rect x="812.7" y="1384.9" width="56.7" height="28.4" fill="#fff8b5"/><rect x="868.9" y="1384.9" width="28.5" height="28.4" fill="#feeba0"/><rect x="897.1" y="1384.9" width="56.7" height="28.4" fill="#fff8b5"/><rect x="953.3" y="1384.9" width="68.5" height="28.4" fill="#feeba0"/><rect x="632" y="1412.8" width="68.5" height="28.4" fill="#feeba0"/><rect x="700.1" y="1412.8" width="56.7" height="28.4" fill="#fff8b5"/><rect x="756.4" y="1412.8" width="28.5" height="28.4" fill="#feeba0"/><rect x="784.5" y="1412.8" width="56.7" height="28.4" fill="#fff8b5"/><rect x="840.8" y="1412.8" width="28.5" height="28.4" fill="#feeba0"/><rect x="868.9" y="1412.8" width="56.7" height="28.4" fill="#fff8b5"/><rect x="925.2" y="1412.8" width="28.5" height="28.4" fill="#feeba0"/><rect x="953.3" y="1412.8" width="68.5" height="28.4" fill="#fff8b5"/><rect x="632" y="1440.8" width="96.7" height="28.4" fill="#fff8b5"/><rect x="728.3" y="1440.8" width="28.5" height="28.4" fill="#feeba0"/><rect x="756.4" y="1440.8" width="56.7" height="28.4" fill="#fff8b5"/><rect x="812.7" y="1440.8" width="28.5" height="28.4" fill="#feeba0"/><rect x="840.8" y="1440.8" width="56.7" height="28.4" fill="#fff8b5"/><rect x="897.1" y="1440.8" width="28.5" height="28.4" fill="#feeba0"/><rect x="925.2" y="1440.8" width="96.7" height="28.4" fill="#fff8b5"/><rect x="632" y="1468.8" width="68.5" height="28.4" fill="#fff8b5"/><rect x="700.1" y="1468.8" width="28.5" height="28.4" fill="#feeba0"/><rect x="728.3" y="1468.8" width="56.7" height="28.4" fill="#fff8b5"/><rect x="784.5" y="1468.8" width="28.5" height="28.4" fill="#feeba0"/><rect x="812.7" y="1468.8" width="56.7" height="28.4" fill="#fff8b5"/><rect x="868.9" y="1468.8" width="28.5" height="28.4" fill="#feeba0"/><rect x="897.1" y="1468.8" width="56.7" height="28.4" fill="#fff8b5"/><rect x="953.3" y="1468.8" width="68.5" height="28.4" fill="#feeba0"/><rect x="632" y="1496.8" width="68.5" height="28.4" fill="#feeba0"/><rect x="700.1" y="1496.8" width="56.7" height="28.4" fill="#fff8b5"/><rect x="756.4" y="1496.8" width="28.5" height="28.4" fill="#feeba0"/><rect x="784.5" y="1496.8" width="56.7" height="28.4" fill="#fff8b5"/><rect x="840.8" y="1496.8" width="28.5" height="28.4" fill="#feeba0"/><rect x="868.9" y="1496.8" width="56.7" height="28.4" fill="#fff8b5"/><rect x="925.2" y="1496.8" width="28.5" height="28.4" fill="#feeba0"/><rect x="953.3" y="1496.8" width="68.5" height="28.4" fill="#fff8b5"/><rect x="632" y="1524.7" width="96.7" height="28.4" fill="#fff8b5"/><rect x="728.3" y="1524.7" width="28.5" height="28.4" fill="#feeba0"/><rect x="756.4" y="1524.7" width="56.7" height="28.4" fill="#fff8b5"/><rect x="812.7" y="1524.7" width="28.5" height="28.4" fill="#feeba0"/><rect x="840.8" y="1524.7" width="56.7" height="28.4" fill="#fff8b5"/><rect x="897.1" y="1524.7" width="28.5" height="28.4" fill="#feeba0"/><rect x="925.2" y="1524.7" width="96.7" height="28.4" fill="#fff8b5"/><rect x="632" y="1552.7" width="68.5" height="28.4" fill="#fff8b5"/><rect x="700.1" y="1552.7" width="28.5" height="28.4" fill="#feeba0"/><rect x="728.3" y="1552.7" width="56.7" height="28.4" fill="#fff8b5"/><rect x="784.5" y="1552.7" width="28.5" height="28.4" fill="#feeba0"/><rect x="812.7" y="1552.7" width="56.7" height="28.4" fill="#fff8b5"/><rect x="868.9" y="1552.7" width="28.5" height="28.4" fill="#feeba0"/><rect x="897.1" y="1552.7" width="56.7" height="28.4" fill="#fff8b5"/><rect x="953.3" y="1552.7" width="68.5" height="28.4" fill="#feeba0"/><rect x="632" y="1580.7" width="68.5" height="68.4" fill="#feeba0"/><rect x="700.1" y="1580.7" width="56.7" height="68.4" fill="#fff8b5"/><rect x="756.4" y="1580.7" width="28.5" height="68.4" fill="#feeba0"/><rect x="784.5" y="1580.7" width="56.7" height="68.4" fill="#fff8b5"/><rect x="840.8" y="1580.7" width="28.5" height="68.4" fill="#feeba0"/><rect x="868.9" y="1580.7" width="56.7" height="68.4" fill="#fff8b5"/><rect x="925.2" y="1580.7" width="28.5" height="68.4" fill="#feeba0"/><rect x="953.3" y="1580.7" width="68.5" height="68.4" fill="#fff8b5"/></g><defs><filter id="nzO" x="672.3" y="906.0" width="311.0" height="703.5" filterUnits="userSpaceOnUse" primitiveUnits="userSpaceOnUse" color-interpolation-filters="sRGB"><feTurbulence type="fractalNoise" baseFrequency="0.04" numOctaves="3" seed="7" result="n"/><feColorMatrix in="n" type="matrix" values="0 0 0 0 0.97  0 0 0 0 0.58  0 0 0 0 0.32  4.6 0 0 0 -2.25" result="c"/><feFlood x="672.3" y="906.0" width="1" height="1" flood-color="#000"/><feComposite width="4.7" height="4.7"/><feTile result="t"/><feComposite in="c" in2="t" operator="in"/><feMorphology operator="dilate" radius="2.35"/></filter></defs><defs><filter id="nzB" x="672.3" y="906.0" width="311.0" height="703.5" filterUnits="userSpaceOnUse" primitiveUnits="userSpaceOnUse" color-interpolation-filters="sRGB"><feTurbulence type="fractalNoise" baseFrequency="0.05" numOctaves="3" seed="23" result="n"/><feColorMatrix in="n" type="matrix" values="0 0 0 0 0.8  0 0 0 0 0.9  0 0 0 0 0.96  4.6 0 0 0 -2.55" result="c"/><feFlood x="672.3" y="906.0" width="1" height="1" flood-color="#000"/><feComposite width="4.7" height="4.7"/><feTile result="t"/><feComposite in="c" in2="t" operator="in"/><feMorphology operator="dilate" radius="2.35"/></filter></defs><rect x="672.3" y="906.0" width="311.0" height="703.5" fill="#000" filter="url(#nzO)" opacity="0.85"/><rect x="672.3" y="906.0" width="311.0" height="703.5" fill="#000" filter="url(#nzB)" opacity="0.85"/><path d="M830 976 L850 995 L858 1060 L862 1166 L864 1258 L850 1268 L838 1166 L830 1060 L822 1000Z" fill="#f67e4a" opacity="0.6" filter="url(#blC)"/><g fill="#ef6a40" opacity="0.7" filter="url(#blC2)"><ellipse cx="838" cy="1000" rx="9" ry="14"/><ellipse cx="848" cy="1140" rx="8" ry="16"/><ellipse cx="852" cy="1240" rx="7" ry="12"/></g><ellipse cx="823" cy="1447" rx="11" ry="7" fill="#f68a4e" opacity="0.8" filter="url(#blC2)"/><ellipse cx="968" cy="918" rx="16" ry="12" fill="#ec5d3c" opacity="0.8" filter="url(#blC2)"/><path d="M792 1035 L825 1035 L828 1120 L822 1290 L812 1300 L795 1290 L790 1200 L788 1110Z" fill="#b9dff0" opacity="0.9" filter="url(#blC)"/><g filter="url(#blC3)"><path d="M794 1042 L821 1042 L823 1083 L819 1129 L812 1161 L798 1161 L793 1111Z" fill="#6f9fcb"/><path d="M794 1190 L818 1190 L819 1240 L815 1272 L800 1272 L794 1240Z" fill="#78aad2"/><ellipse cx="799" cy="1214" rx="7" ry="12" fill="#4a6fb3"/><ellipse cx="804" cy="1060" rx="6" ry="10" fill="#4a6fb3"/><ellipse cx="828" cy="1410" rx="14" ry="17" fill="#6a9ccb"/><ellipse cx="823" cy="1476" rx="8" ry="8" fill="#4a72b5"/></g><path d="M816.3 934 L841 959 L816.3 984 L791.5 959Z" fill="#a9d3e8" filter="url(#blC3)"/><path d="M816.3 940 L835 959 L816.3 978 L797.5 959Z" fill="#33399a" filter="url(#blC3)"/>
<path d="M700.13 1608.5V906M756.4 1608.5V906M812.67 1608.5V906M868.94 1608.5V906M925.21 1608.5V906M670.4 993.3H983.3M670.4 1105.18H983.3M670.4 1217.06H983.3M670.4 1328.94H983.3M670.4 1440.82H983.3M670.4 1552.7H983.3" stroke="#000" stroke-opacity="0.33" stroke-width="2.4" stroke-dasharray="11.8 5.8" fill="none"/>
<path d="M799.1 1042.2 L803.3 1043.8 L807.7 1043.9 L811.9 1045.3 L815.8 1047 L820.5 1047 L825.5 1049.5 L824.3 1054.3 L827.4 1057.8 L828.8 1062.2 L825.6 1065.9 L826.5 1070.4 L824.5 1074.4 L824.9 1078.8 L823.6 1083.2 L827 1086.5 L827.6 1091.2 L828.9 1095.5 L831.9 1099 L833.3 1103.3 L835.5 1107.2 L839.4 1111.1 L836.8 1115.6 L837 1120.3 L837.1 1125.6 L831.8 1127.5 L827 1126.4 L823.7 1123.3 L822.1 1119.1 L820.3 1115.1 L817.6 1111.7 L816.4 1107.6 L813 1104.5 L812.4 1100.1 L809.5 1096.7 L809.1 1092.2 L807.2 1088.7 L803.7 1084.8 L802.9 1080.3 L802.1 1075.7 L803.5 1070.8 L801.1 1066 L801.1 1060.9 L799.4 1056 L799.7 1051.7 L799 1047.4ZM807.8 1051.4 L814.6 1053.3 L820.5 1056.8 L821.1 1061.7 L822.9 1066 L821.7 1070.1 L824.6 1074.8 L822.4 1078.7 L820 1083.5 L822.6 1087.4 L823.1 1092 L827.5 1095.2 L827.8 1100.5 L830.4 1105.4 L828.9 1110.9 L828.8 1116.2 L821 1118.9 L820.1 1114.5 L818.7 1110.4 L819.4 1105.6 L817.3 1101.2 L813.5 1097.3 L814.4 1091.9 L810.4 1087.9 L811.5 1082.8 L808.8 1078.3 L807.6 1073.5 L810.7 1069.2 L807.7 1065.4 L807.3 1061.4 L810.1 1056Z" fill="none" stroke="#000" stroke-width="3.5" stroke-dasharray="6 4" stroke-linecap="round" stroke-linejoin="round"/><path d="M804.9 1105.2 L812.2 1107 L812.8 1111.8 L814.9 1116.3 L814 1121.5 L815 1126 L815.5 1130 L817.1 1134 L815.9 1138 L816.6 1142 L816.8 1146.2 L813.6 1149.9 L812.5 1154.1 L814.4 1159.1 L812.1 1161.9 L807.5 1162.2 L802.6 1162 L802 1157.7 L802.9 1153.3 L801.9 1149 L802.3 1144.6 L801.8 1140.3 L799.8 1135.9 L802.1 1132 L802.9 1128.1 L803.1 1124.1 L802.2 1120 L800.6 1115.6 L802 1110.1ZM806.6 1110.4 L809.7 1112.2 L810.4 1117.3 L813.3 1122.1 L814.5 1127.3 L813.1 1131.3 L813.5 1135.3 L811.3 1139.3 L811.8 1143.2 L811.4 1147.8 L810.9 1152.4 L810.5 1156.3 L804 1156.2 L805 1152 L803.6 1147.9 L806.4 1143.6 L802.8 1139.6 L805.6 1135.4 L802.8 1131.3 L805.3 1127.4 L804.1 1123.3 L804.5 1119.3 L807 1115.2Z" fill="none" stroke="#000" stroke-width="3.5" stroke-dasharray="6 4" stroke-linecap="round" stroke-linejoin="round"/><path d="M833 1131.1 L838.6 1131.5 L842.9 1131 L847.5 1133.1 L849.2 1136.9 L849 1140.9 L848.8 1145 L849.5 1150.1 L845.1 1152.4 L839.9 1153.3 L835.3 1150.3 L829.2 1149.2 L829 1144 L827.5 1138.7 L831.4 1135.6Z" fill="none" stroke="#000" stroke-width="3.5" stroke-dasharray="6 4" stroke-linecap="round" stroke-linejoin="round"/><path d="M831.7 1172.6 L835.5 1175 L840.8 1175.4 L841.8 1180.7 L846.8 1182.9 L848.6 1187.6 L853.3 1190.9 L851.7 1196.1 L853.6 1201.9 L848.1 1203.5 L844.2 1206.3 L839.2 1204.7 L833.8 1204 L833.8 1198.7 L832.8 1193.6 L828.8 1188.9 L830.6 1184.8 L832.5 1180.7 L832.3 1176.3ZM835.3 1176.7 L841.4 1178.5 L843.6 1182.5 L844.4 1187.3 L848.7 1191 L846.1 1195.2 L846.7 1198.3 L841.8 1205.6 L837.7 1201.4 L836.3 1197.5 L836.1 1193.4 L836.6 1189.6 L837.1 1185.1 L835.2 1180.4Z" fill="none" stroke="#000" stroke-width="3.5" stroke-dasharray="6 4" stroke-linecap="round" stroke-linejoin="round"/><path d="M830.3 1207.5 L835.2 1208.8 L840.3 1210.9 L841 1215 L844.1 1218.1 L845.7 1221.8 L846.8 1225.6 L847.3 1230.4 L851 1233.5 L851.3 1238.3 L853.5 1242.2 L857.2 1246.2 L855.2 1251 L854.8 1256 L854.2 1261.1 L850.6 1264 L851.1 1269.1 L849.4 1273 L844.8 1275.2 L843.6 1280.2 L841.5 1284.5 L837.7 1288.4 L831.6 1283 L833.1 1278.5 L830.3 1274.3 L829.9 1269.9 L830.7 1265.4 L830.2 1261 L830.9 1256.7 L830.1 1252.5 L828 1248.6 L827.1 1244.4 L828.6 1240 L828.6 1236.2 L826 1231.3 L828.7 1227.1 L829.7 1222.6 L829.5 1218.1 L828.6 1213.4ZM834.4 1217.4 L839.4 1218.9 L839.8 1223.1 L843 1226.5 L842.7 1230.9 L843.2 1235.2 L844.5 1239.3 L848.6 1242.3 L848.2 1246.7 L847.9 1250.7 L848 1254.7 L845.9 1258.1 L846.1 1262.7 L844.9 1266.8 L841.6 1270 L840.6 1275.3 L838.2 1280.8 L834.8 1276.4 L835.3 1271.9 L833.2 1267.7 L835.2 1263.1 L835.4 1258.7 L833.8 1254.8 L835.2 1250.6 L835.2 1246.6 L833.4 1242.7 L833.5 1238.8 L831.6 1234.3 L831.7 1230 L835.7 1225.9 L833.3 1221.4Z" fill="none" stroke="#000" stroke-width="3.5" stroke-dasharray="6 4" stroke-linecap="round" stroke-linejoin="round"/><path d="M797 1201.4 L801.5 1200.3 L805.3 1200.3 L808.9 1203.1 L808.8 1207.6 L811.4 1211 L810.9 1215 L812.5 1218.9 L812.1 1223 L812.5 1227 L812.5 1231.1 L810 1235.5 L809.4 1240.4 L807.9 1243.5 L803 1245.2 L797.1 1246.2 L797.4 1240.9 L796.1 1236 L793.9 1231 L795.1 1226 L793.4 1221 L794.6 1215.9 L795.8 1211 L796.9 1206.1ZM799.6 1205.2 L803.1 1205 L807.7 1208.4 L808.2 1213.3 L805.6 1217.4 L806.9 1221.3 L809.2 1225.3 L808.4 1229.4 L805.2 1234.6 L805.7 1240.8 L798.3 1241.6 L801.2 1237.1 L797.6 1233.5 L799.1 1229.3 L799 1225.3 L798.3 1221.3 L800.3 1217.5 L797.6 1213.2 L799.6 1209.4Z" fill="none" stroke="#000" stroke-width="3.5" stroke-dasharray="6 4" stroke-linecap="round" stroke-linejoin="round"/><path d="M802 1251.3 L807 1252 L813.3 1251.5 L814.2 1256.5 L816.6 1260.9 L818.6 1266.2 L817 1271.1 L816.9 1276.2 L815.5 1281.3 L812 1283.9 L811.6 1288.5 L808.2 1290.7 L803.8 1289.5 L801.9 1285.9 L801.4 1280.9 L799.4 1276.1 L801.1 1271.1 L801.2 1266.3 L799.6 1261.4 L801.2 1256.7ZM804.6 1255.3 L810.4 1255.8 L811.7 1261.4 L813.5 1267.1 L812.5 1271.1 L812.6 1275.1 L813.4 1279.9 L810.2 1283.2 L806.6 1288.4 L802.5 1283.1 L803 1279.1 L805.6 1275 L803.5 1271.1 L804.1 1266 L805.9 1261Z" fill="none" stroke="#000" stroke-width="3.5" stroke-dasharray="6 4" stroke-linecap="round" stroke-linejoin="round"/><path d="M806.1 1299.5 L810.6 1296.2 L815.4 1298.1 L820 1297 L823.4 1300.3 L828.1 1300.7 L830.7 1303.3 L834.1 1306.7 L832.8 1309.9 L831.5 1314.2 L829.4 1317.7 L826 1320.5 L821.3 1319.9 L816.8 1322.2 L811.7 1321.3 L807.4 1318.6 L803.6 1313.9 L804.2 1309.9 L804.6 1305.9 L805 1302ZM812.1 1301.9 L820.5 1298.3 L822.8 1302 L826.3 1304.2 L825.8 1309.7 L825.6 1314.5 L823 1318 L815.5 1318.5 L811 1313 L813.3 1308.8 L813.3 1304.6Z" fill="none" stroke="#000" stroke-width="3.5" stroke-dasharray="6 4" stroke-linecap="round" stroke-linejoin="round"/><path d="M829.8 1321.1 L834.3 1322.6 L838.3 1321.9 L841.7 1318.2 L844.9 1319.1 L845.6 1323.1 L846.1 1327 L848.2 1332 L842.7 1334.9 L840 1340.4 L835.9 1339.4 L832 1340.6 L828.8 1340.7 L827.2 1336.7 L824.5 1332.8 L827.2 1329.6 L829.7 1326.3Z" fill="none" stroke="#000" stroke-width="3.5" stroke-dasharray="6 4" stroke-linecap="round" stroke-linejoin="round"/><path d="M821.8 1386.6 L826 1387.3 L830.8 1386.7 L831.7 1391.4 L833.5 1395.4 L835.8 1399.4 L839.8 1401.1 L841.3 1405.3 L842.7 1408.5 L842 1414 L840 1419.1 L836.3 1421.2 L831.8 1420.1 L827.9 1423.4 L823.3 1422.1 L818.6 1422.4 L814.6 1420.5 L810.9 1417.6 L808 1414 L808.6 1409 L809.7 1404.8 L813.5 1402.2 L815.7 1397.7 L821.1 1393.5ZM823.7 1392.2 L826.2 1390.9 L828.8 1398.4 L831.9 1402.2 L837.1 1408.5 L834.2 1412 L833.5 1416.3 L826.7 1419.4 L820.3 1416.9 L815.1 1412 L818 1408.2 L815.9 1403.7 L820.4 1399.4 L823.5 1395.6Z" fill="none" stroke="#000" stroke-width="3.5" stroke-dasharray="6 4" stroke-linecap="round" stroke-linejoin="round"/><path d="M817.4 1470.4 L821 1474 L824.8 1471.1 L827.1 1476.1 L822.2 1480.8 L817 1477Z" fill="none" stroke="#000" stroke-width="3.5" stroke-dasharray="6 4" stroke-linecap="round" stroke-linejoin="round"/><path d="M793.4 1080.6 L787.9 1083 L785.5 1088.5 L790.4 1091.5 L790.6 1085.4Z" fill="none" stroke="#000" stroke-width="3.5" stroke-dasharray="6 4" stroke-linecap="round" stroke-linejoin="round"/><circle cx="815" cy="976" r="4.5" fill="#000"/><circle cx="797" cy="1014" r="2.6" fill="#000"/><circle cx="835.7" cy="1455.4" r="2.8" fill="#000"/><circle cx="835.7" cy="1160.8" r="2.2" fill="#000"/>
</svg>
<rect x="673.7" y="907.4" width="308.2" height="700.7" fill="none" stroke="#000" stroke-width="2.8"/>
<svg x="1019.8" y="906" width="38" height="703.5" viewBox="0 0 38 703.5" preserveAspectRatio="none">
<rect x="0" y="672.90" width="38.0" height="30.90" fill="#a50026"/><rect x="0" y="643.71" width="38.0" height="29.50" fill="#bb1526"/><rect x="0" y="614.51" width="38.0" height="29.50" fill="#d02a27"/><rect x="0" y="585.32" width="38.0" height="29.50" fill="#e04330"/><rect x="0" y="556.12" width="38.0" height="29.50" fill="#ec5d3c"/><rect x="0" y="526.92" width="38.0" height="29.50" fill="#f67848"/><rect x="0" y="497.73" width="38.0" height="29.50" fill="#f99555"/><rect x="0" y="468.53" width="38.0" height="29.50" fill="#fdb063"/><rect x="0" y="439.34" width="38.0" height="29.50" fill="#fdc677"/><rect x="0" y="410.14" width="38.0" height="29.50" fill="#fedc8c"/><rect x="0" y="380.95" width="38.0" height="29.50" fill="#feeba0"/><rect x="0" y="351.75" width="38.0" height="29.50" fill="#fff8b5"/><rect x="0" y="322.55" width="38.0" height="29.50" fill="#f8fccb"/><rect x="0" y="293.36" width="38.0" height="29.50" fill="#ebf7e4"/><rect x="0" y="264.16" width="38.0" height="29.50" fill="#dbf1f7"/><rect x="0" y="234.97" width="38.0" height="29.50" fill="#c4e5f0"/><rect x="0" y="205.77" width="38.0" height="29.50" fill="#addaea"/><rect x="0" y="176.58" width="38.0" height="29.50" fill="#95c8e0"/><rect x="0" y="147.38" width="38.0" height="29.50" fill="#7eb5d5"/><rect x="0" y="118.18" width="38.0" height="29.50" fill="#689ec9"/><rect x="0" y="88.99" width="38.0" height="29.50" fill="#5386bd"/><rect x="0" y="59.79" width="38.0" height="29.50" fill="#426db0"/><rect x="0" y="30.60" width="38.0" height="29.50" fill="#3a51a2"/><rect x="0" y="0.00" width="38.0" height="30.90" fill="#313695"/>
</svg>
<rect x="1021.2" y="907.4" width="35.2" height="700.7" fill="none" stroke="#000" stroke-width="2.8"/>
<text x="1085.5" y="944.9" font-size="47.65" textLength="26.15" lengthAdjust="spacingAndGlyphs">0</text>
<text x="1113.14" y="944.9" font-size="47.65" textLength="13.41" lengthAdjust="spacingAndGlyphs">.</text>
<text x="1128.25" y="944.9" font-size="47.65" textLength="25.58" lengthAdjust="spacingAndGlyphs">7</text>
<text x="1156.99" y="944.9" font-size="47.65" textLength="24.68" lengthAdjust="spacingAndGlyphs">5</text>
<text x="1085.5" y="1054.38" font-size="47.65" textLength="26.15" lengthAdjust="spacingAndGlyphs">0</text>
<text x="1113.14" y="1054.38" font-size="47.65" textLength="13.41" lengthAdjust="spacingAndGlyphs">.</text>
<text x="1128.62" y="1054.38" font-size="47.65" textLength="24.68" lengthAdjust="spacingAndGlyphs">5</text>
<text x="1156.43" y="1054.38" font-size="47.65" textLength="26.15" lengthAdjust="spacingAndGlyphs">0</text>
<text x="1085.5" y="1163.87" font-size="47.65" textLength="26.15" lengthAdjust="spacingAndGlyphs">0</text>
<text x="1113.14" y="1163.87" font-size="47.65" textLength="13.41" lengthAdjust="spacingAndGlyphs">.</text>
<text x="1127.94" y="1163.87" font-size="47.65" textLength="25.2" lengthAdjust="spacingAndGlyphs">2</text>
<text x="1156.99" y="1163.87" font-size="47.65" textLength="24.68" lengthAdjust="spacingAndGlyphs">5</text>
<text x="1085.5" y="1273.35" font-size="47.65" textLength="26.15" lengthAdjust="spacingAndGlyphs">0</text>
<text x="1113.14" y="1273.35" font-size="47.65" textLength="13.41" lengthAdjust="spacingAndGlyphs">.</text>
<text x="1128.06" y="1273.35" font-size="47.65" textLength="26.15" lengthAdjust="spacingAndGlyphs">0</text>
<text x="1156.43" y="1273.35" font-size="47.65" textLength="26.15" lengthAdjust="spacingAndGlyphs">0</text>
<rect x="1089.13" y="1367" width="27.92" height="3.7" fill="#000"/>
<text x="1122.87" y="1382.83" font-size="47.65" textLength="26.15" lengthAdjust="spacingAndGlyphs">0</text>
<text x="1150.51" y="1382.83" font-size="47.65" textLength="13.41" lengthAdjust="spacingAndGlyphs">.</text>
<text x="1165.31" y="1382.83" font-size="47.65" textLength="25.2" lengthAdjust="spacingAndGlyphs">2</text>
<text x="1194.36" y="1382.83" font-size="47.65" textLength="24.68" lengthAdjust="spacingAndGlyphs">5</text>
<rect x="1089.13" y="1476.49" width="27.92" height="3.7" fill="#000"/>
<text x="1122.87" y="1492.32" font-size="47.65" textLength="26.15" lengthAdjust="spacingAndGlyphs">0</text>
<text x="1150.51" y="1492.32" font-size="47.65" textLength="13.41" lengthAdjust="spacingAndGlyphs">.</text>
<text x="1165.99" y="1492.32" font-size="47.65" textLength="24.68" lengthAdjust="spacingAndGlyphs">5</text>
<text x="1193.8" y="1492.32" font-size="47.65" textLength="26.15" lengthAdjust="spacingAndGlyphs">0</text>
<rect x="1089.13" y="1585.97" width="27.92" height="3.7" fill="#000"/>
<text x="1122.87" y="1601.8" font-size="47.65" textLength="26.15" lengthAdjust="spacingAndGlyphs">0</text>
<text x="1150.51" y="1601.8" font-size="47.65" textLength="13.41" lengthAdjust="spacingAndGlyphs">.</text>
<text x="1165.62" y="1601.8" font-size="47.65" textLength="25.58" lengthAdjust="spacingAndGlyphs">7</text>
<text x="1194.36" y="1601.8" font-size="47.65" textLength="24.68" lengthAdjust="spacingAndGlyphs">5</text>
<path d="M659.3 993.3H673.3M659.3 1105.18H673.3M659.3 1217.06H673.3M659.3 1328.94H673.3M659.3 1440.82H673.3M659.3 1552.7H673.3M756.4 1608.5V1622.5M925.21 1608.5V1622.5M1056.8 929.3H1070.8M1056.8 1038.78H1070.8M1056.8 1148.27H1070.8M1056.8 1257.75H1070.8M1056.8 1367.23H1070.8M1056.8 1476.72H1070.8M1056.8 1586.2H1070.8" stroke="#000" stroke-width="2.6" fill="none"/>
<svg x="111" y="1727" width="311" height="703.5" viewBox="111 1727 311 703.5" overflow="hidden">
<defs><filter id="blD"><feGaussianBlur stdDeviation="3"/></filter></defs><g filter="url(#blD)"><rect x="70.7" y="1690.4" width="96.7" height="68.4" fill="#90d2a4"/><rect x="167" y="1690.4" width="112.9" height="68.4" fill="#aedea3"/><rect x="279.5" y="1690.4" width="84.8" height="68.4" fill="#c7e89e"/><rect x="363.9" y="1690.4" width="96.7" height="68.4" fill="#e1f399"/><rect x="70.7" y="1758.4" width="96.7" height="28.4" fill="#90d2a4"/><rect x="167" y="1758.4" width="112.9" height="28.4" fill="#aedea3"/><rect x="279.5" y="1758.4" width="84.8" height="28.4" fill="#c7e89e"/><rect x="363.9" y="1758.4" width="96.7" height="28.4" fill="#e1f399"/><rect x="70.7" y="1786.3" width="124.8" height="28.4" fill="#90d2a4"/><rect x="195.1" y="1786.3" width="84.8" height="28.4" fill="#aedea3"/><rect x="279.5" y="1786.3" width="112.9" height="28.4" fill="#c7e89e"/><rect x="392" y="1786.3" width="68.5" height="28.4" fill="#e1f399"/><rect x="70.7" y="1814.3" width="152.9" height="28.4" fill="#90d2a4"/><rect x="223.2" y="1814.3" width="84.8" height="28.4" fill="#aedea3"/><rect x="307.6" y="1814.3" width="84.8" height="28.4" fill="#c7e89e"/><rect x="392" y="1814.3" width="68.5" height="28.4" fill="#e1f399"/><rect x="70.7" y="1842.3" width="68.5" height="28.4" fill="#72c7a5"/><rect x="138.8" y="1842.3" width="84.8" height="28.4" fill="#90d2a4"/><rect x="223.2" y="1842.3" width="84.8" height="28.4" fill="#aedea3"/><rect x="307.6" y="1842.3" width="84.8" height="28.4" fill="#c7e89e"/><rect x="392" y="1842.3" width="68.5" height="28.4" fill="#e1f399"/><rect x="70.7" y="1870.2" width="96.7" height="28.4" fill="#72c7a5"/><rect x="167" y="1870.2" width="84.8" height="28.4" fill="#90d2a4"/><rect x="251.4" y="1870.2" width="56.7" height="28.4" fill="#aedea3"/><rect x="307.6" y="1870.2" width="84.8" height="28.4" fill="#c7e89e"/><rect x="392" y="1870.2" width="68.5" height="28.4" fill="#e1f399"/><rect x="70.7" y="1898.2" width="124.8" height="28.4" fill="#72c7a5"/><rect x="195.1" y="1898.2" width="56.7" height="28.4" fill="#90d2a4"/><rect x="251.4" y="1898.2" width="56.7" height="28.4" fill="#aedea3"/><rect x="307.6" y="1898.2" width="84.8" height="28.4" fill="#c7e89e"/><rect x="392" y="1898.2" width="68.5" height="28.4" fill="#e1f399"/><rect x="70.7" y="1926.2" width="124.8" height="28.4" fill="#72c7a5"/><rect x="195.1" y="1926.2" width="56.7" height="28.4" fill="#90d2a4"/><rect x="251.4" y="1926.2" width="56.7" height="28.4" fill="#aedea3"/><rect x="307.6" y="1926.2" width="84.8" height="28.4" fill="#c7e89e"/><rect x="392" y="1926.2" width="68.5" height="28.4" fill="#e1f399"/><rect x="70.7" y="1954.1" width="68.5" height="28.4" fill="#58b3ab"/><rect x="138.8" y="1954.1" width="84.8" height="28.4" fill="#72c7a5"/><rect x="223.2" y="1954.1" width="56.7" height="28.4" fill="#90d2a4"/><rect x="279.5" y="1954.1" width="56.7" height="28.4" fill="#aedea3"/><rect x="335.8" y="1954.1" width="124.8" height="28.4" fill="#c7e89e"/><rect x="70.7" y="1982.1" width="68.5" height="28.4" fill="#58b3ab"/><rect x="138.8" y="1982.1" width="84.8" height="28.4" fill="#72c7a5"/><rect x="223.2" y="1982.1" width="56.7" height="28.4" fill="#90d2a4"/><rect x="279.5" y="1982.1" width="56.7" height="28.4" fill="#aedea3"/><rect x="335.8" y="1982.1" width="124.8" height="28.4" fill="#c7e89e"/><rect x="70.7" y="2010.1" width="68.5" height="28.4" fill="#58b3ab"/><rect x="138.8" y="2010.1" width="84.8" height="28.4" fill="#72c7a5"/><rect x="223.2" y="2010.1" width="56.7" height="28.4" fill="#90d2a4"/><rect x="279.5" y="2010.1" width="84.8" height="28.4" fill="#aedea3"/><rect x="363.9" y="2010.1" width="96.7" height="28.4" fill="#c7e89e"/><rect x="70.7" y="2038.1" width="68.5" height="28.4" fill="#58b3ab"/><rect x="138.8" y="2038.1" width="84.8" height="28.4" fill="#72c7a5"/><rect x="223.2" y="2038.1" width="56.7" height="28.4" fill="#90d2a4"/><rect x="279.5" y="2038.1" width="84.8" height="28.4" fill="#aedea3"/><rect x="363.9" y="2038.1" width="96.7" height="28.4" fill="#c7e89e"/><rect x="70.7" y="2066" width="68.5" height="28.4" fill="#58b3ab"/><rect x="138.8" y="2066" width="56.7" height="28.4" fill="#72c7a5"/><rect x="195.1" y="2066" width="84.8" height="28.4" fill="#90d2a4"/><rect x="279.5" y="2066" width="84.8" height="28.4" fill="#aedea3"/><rect x="363.9" y="2066" width="96.7" height="28.4" fill="#c7e89e"/><rect x="70.7" y="2094" width="68.5" height="28.4" fill="#58b3ab"/><rect x="138.8" y="2094" width="56.7" height="28.4" fill="#72c7a5"/><rect x="195.1" y="2094" width="84.8" height="28.4" fill="#90d2a4"/><rect x="279.5" y="2094" width="84.8" height="28.4" fill="#aedea3"/><rect x="363.9" y="2094" width="96.7" height="28.4" fill="#c7e89e"/><rect x="70.7" y="2122" width="68.5" height="28.4" fill="#58b3ab"/><rect x="138.8" y="2122" width="56.7" height="28.4" fill="#72c7a5"/><rect x="195.1" y="2122" width="84.8" height="28.4" fill="#90d2a4"/><rect x="279.5" y="2122" width="112.9" height="28.4" fill="#aedea3"/><rect x="392" y="2122" width="68.5" height="28.4" fill="#c7e89e"/><rect x="70.7" y="2149.9" width="96.7" height="28.4" fill="#72c7a5"/><rect x="167" y="2149.9" width="112.9" height="28.4" fill="#90d2a4"/><rect x="279.5" y="2149.9" width="181.1" height="28.4" fill="#aedea3"/><rect x="70.7" y="2177.9" width="68.5" height="28.4" fill="#72c7a5"/><rect x="138.8" y="2177.9" width="84.8" height="28.4" fill="#90d2a4"/><rect x="223.2" y="2177.9" width="237.3" height="28.4" fill="#aedea3"/><rect x="70.7" y="2205.9" width="68.5" height="28.4" fill="#72c7a5"/><rect x="138.8" y="2205.9" width="56.7" height="28.4" fill="#90d2a4"/><rect x="195.1" y="2205.9" width="265.5" height="28.4" fill="#aedea3"/><rect x="70.7" y="2233.8" width="68.5" height="28.4" fill="#90d2a4"/><rect x="138.8" y="2233.8" width="169.2" height="28.4" fill="#aedea3"/><rect x="307.6" y="2233.8" width="152.9" height="28.4" fill="#c7e89e"/><rect x="70.7" y="2261.8" width="209.2" height="28.4" fill="#aedea3"/><rect x="279.5" y="2261.8" width="181.1" height="28.4" fill="#c7e89e"/><rect x="70.7" y="2289.8" width="96.7" height="28.4" fill="#aedea3"/><rect x="167" y="2289.8" width="141.1" height="28.4" fill="#c7e89e"/><rect x="307.6" y="2289.8" width="152.9" height="28.4" fill="#e1f399"/><rect x="70.7" y="2317.8" width="181.1" height="28.4" fill="#c7e89e"/><rect x="251.4" y="2317.8" width="209.2" height="28.4" fill="#e1f399"/><rect x="70.7" y="2345.7" width="68.5" height="28.4" fill="#c7e89e"/><rect x="138.8" y="2345.7" width="321.8" height="28.4" fill="#e1f399"/><rect x="70.7" y="2373.7" width="237.3" height="28.4" fill="#e1f399"/><rect x="307.6" y="2373.7" width="152.9" height="28.4" fill="#eff8a6"/><rect x="70.7" y="2401.7" width="237.3" height="68.4" fill="#e1f399"/><rect x="307.6" y="2401.7" width="152.9" height="68.4" fill="#eff8a6"/></g>
<path d="M138.83 2429.5V1727M195.1 2429.5V1727M251.37 2429.5V1727M307.64 2429.5V1727M363.91 2429.5V1727M109.1 1814.3H422M109.1 1926.18H422M109.1 2038.06H422M109.1 2149.94H422M109.1 2261.82H422M109.1 2373.7H422" stroke="#000" stroke-opacity="0.33" stroke-width="2.4" stroke-dasharray="11.8 5.8" fill="none"/>
<path d="M237.8 1863.2 L242 1864.8 L246.4 1864.9 L250.6 1866.3 L254.5 1868 L259.2 1868 L264.2 1870.5 L263 1875.3 L266.1 1878.8 L267.5 1883.2 L264.3 1886.9 L265.2 1891.4 L263.2 1895.4 L263.6 1899.8 L262.3 1904.2 L265.7 1907.5 L266.3 1912.2 L267.6 1916.5 L270.6 1920 L272 1924.3 L274.2 1928.2 L278.1 1932.1 L275.5 1936.6 L275.7 1941.3 L275.8 1946.6 L270.5 1948.5 L265.7 1947.4 L262.4 1944.3 L260.8 1940.1 L259 1936.1 L256.3 1932.7 L255.1 1928.6 L251.7 1925.5 L251.1 1921.1 L248.2 1917.7 L247.8 1913.2 L245.9 1909.7 L242.4 1905.8 L241.6 1901.3 L240.8 1896.7 L242.2 1891.8 L239.8 1887 L239.8 1881.9 L238.1 1877 L238.4 1872.7 L237.7 1868.4ZM246.5 1872.4 L253.3 1874.3 L259.2 1877.8 L259.8 1882.7 L261.6 1887 L260.4 1891.1 L263.3 1895.8 L261.1 1899.7 L258.7 1904.5 L261.3 1908.4 L261.8 1913 L266.2 1916.2 L266.5 1921.5 L269.1 1926.4 L267.6 1931.9 L267.5 1937.2 L259.7 1939.9 L258.8 1935.5 L257.4 1931.4 L258.1 1926.6 L256 1922.2 L252.2 1918.3 L253.1 1912.9 L249.1 1908.9 L250.2 1903.8 L247.5 1899.3 L246.3 1894.5 L249.4 1890.2 L246.4 1886.4 L246 1882.4 L248.8 1877Z" fill="none" stroke="#000" stroke-width="3.5" stroke-dasharray="6 4" stroke-linecap="round" stroke-linejoin="round"/><path d="M243.6 1926.2 L250.9 1928 L251.5 1932.8 L253.6 1937.3 L252.7 1942.5 L253.7 1947 L254.2 1951 L255.8 1955 L254.6 1959 L255.3 1963 L255.5 1967.2 L252.3 1970.9 L251.2 1975.1 L253.1 1980.1 L250.8 1982.9 L246.2 1983.2 L241.3 1983 L240.7 1978.7 L241.6 1974.3 L240.6 1970 L241 1965.6 L240.5 1961.3 L238.5 1956.9 L240.8 1953 L241.6 1949.1 L241.8 1945.1 L240.9 1941 L239.3 1936.6 L240.7 1931.1ZM245.3 1931.4 L248.4 1933.2 L249.1 1938.3 L252 1943.1 L253.2 1948.3 L251.8 1952.3 L252.2 1956.3 L250 1960.3 L250.5 1964.2 L250.1 1968.8 L249.6 1973.4 L249.2 1977.3 L242.7 1977.2 L243.7 1973 L242.3 1968.9 L245.1 1964.6 L241.5 1960.6 L244.3 1956.4 L241.5 1952.3 L244 1948.4 L242.8 1944.3 L243.2 1940.3 L245.7 1936.2Z" fill="none" stroke="#000" stroke-width="3.5" stroke-dasharray="6 4" stroke-linecap="round" stroke-linejoin="round"/><path d="M271.7 1952.1 L277.3 1952.5 L281.6 1952 L286.2 1954.1 L287.9 1957.9 L287.7 1961.9 L287.5 1966 L288.2 1971.1 L283.8 1973.4 L278.6 1974.3 L274 1971.3 L267.9 1970.2 L267.7 1965 L266.2 1959.7 L270.1 1956.6Z" fill="none" stroke="#000" stroke-width="3.5" stroke-dasharray="6 4" stroke-linecap="round" stroke-linejoin="round"/><path d="M270.4 1993.6 L274.2 1996 L279.5 1996.4 L280.5 2001.7 L285.5 2003.9 L287.3 2008.6 L292 2011.9 L290.4 2017.1 L292.3 2022.9 L286.8 2024.5 L282.9 2027.3 L277.9 2025.7 L272.5 2025 L272.5 2019.7 L271.5 2014.6 L267.5 2009.9 L269.3 2005.8 L271.2 2001.7 L271 1997.3ZM274 1997.7 L280.1 1999.5 L282.3 2003.5 L283.1 2008.3 L287.4 2012 L284.8 2016.2 L285.4 2019.3 L280.5 2026.6 L276.4 2022.4 L275 2018.5 L274.8 2014.4 L275.3 2010.6 L275.8 2006.1 L273.9 2001.4Z" fill="none" stroke="#000" stroke-width="3.5" stroke-dasharray="6 4" stroke-linecap="round" stroke-linejoin="round"/><path d="M269 2028.5 L273.9 2029.8 L279 2031.9 L279.7 2036 L282.8 2039.1 L284.4 2042.8 L285.5 2046.6 L286 2051.4 L289.7 2054.5 L290 2059.3 L292.2 2063.2 L295.9 2067.2 L293.9 2072 L293.5 2077 L292.9 2082.1 L289.3 2085 L289.8 2090.1 L288.1 2094 L283.5 2096.2 L282.3 2101.2 L280.2 2105.5 L276.4 2109.4 L270.3 2104 L271.8 2099.5 L269 2095.3 L268.6 2090.9 L269.4 2086.4 L268.9 2082 L269.6 2077.7 L268.8 2073.5 L266.7 2069.6 L265.8 2065.4 L267.3 2061 L267.3 2057.2 L264.7 2052.3 L267.4 2048.1 L268.4 2043.6 L268.2 2039.1 L267.3 2034.4ZM273.1 2038.4 L278.1 2039.9 L278.5 2044.1 L281.7 2047.5 L281.4 2051.9 L281.9 2056.2 L283.2 2060.3 L287.3 2063.3 L286.9 2067.7 L286.6 2071.7 L286.7 2075.7 L284.6 2079.1 L284.8 2083.7 L283.6 2087.8 L280.3 2091 L279.3 2096.3 L276.9 2101.8 L273.5 2097.4 L274 2092.9 L271.9 2088.7 L273.9 2084.1 L274.1 2079.7 L272.5 2075.8 L273.9 2071.6 L273.9 2067.6 L272.1 2063.7 L272.2 2059.8 L270.3 2055.3 L270.4 2051 L274.4 2046.9 L272 2042.4Z" fill="none" stroke="#000" stroke-width="3.5" stroke-dasharray="6 4" stroke-linecap="round" stroke-linejoin="round"/><path d="M235.7 2022.4 L240.2 2021.3 L244 2021.3 L247.6 2024.1 L247.5 2028.6 L250.1 2032 L249.6 2036 L251.2 2039.9 L250.8 2044 L251.2 2048 L251.2 2052.1 L248.7 2056.5 L248.1 2061.4 L246.6 2064.5 L241.7 2066.2 L235.8 2067.2 L236.1 2061.9 L234.8 2057 L232.6 2052 L233.8 2047 L232.1 2042 L233.3 2036.9 L234.5 2032 L235.6 2027.1ZM238.3 2026.2 L241.8 2026 L246.4 2029.4 L246.9 2034.3 L244.3 2038.4 L245.6 2042.3 L247.9 2046.3 L247.1 2050.4 L243.9 2055.6 L244.4 2061.8 L237 2062.6 L239.9 2058.1 L236.3 2054.5 L237.8 2050.3 L237.7 2044.3 L237 2038.3 L239.4 2034.5 L236.6 2030.2Z" fill="none" stroke="#000" stroke-width="3.5" stroke-dasharray="6 4" stroke-linecap="round" stroke-linejoin="round"/><path d="M240.7 2072.3 L245.7 2073 L252 2072.5 L252.9 2077.5 L255.3 2081.9 L257.3 2087.2 L255.7 2092.1 L255.6 2097.2 L254.2 2102.3 L250.7 2104.9 L250.3 2109.5 L246.9 2111.7 L242.5 2110.5 L240.6 2106.9 L240.1 2101.9 L238.1 2097.1 L239.8 2092.1 L239.9 2087.3 L238.3 2082.4 L239.9 2077.7ZM243.3 2076.3 L249.1 2076.8 L250.4 2082.4 L252.2 2088.1 L251.2 2092.1 L251.3 2096.1 L252.1 2100.9 L248.9 2104.2 L245.3 2109.4 L241.2 2104.1 L241.7 2100.1 L244.3 2096 L242.2 2092.1 L242.8 2087 L244.6 2082Z" fill="none" stroke="#000" stroke-width="3.5" stroke-dasharray="6 4" stroke-linecap="round" stroke-linejoin="round"/><path d="M244.8 2120.5 L249.3 2117.2 L254.1 2119.1 L258.7 2118 L262.1 2121.3 L266.8 2121.7 L269.4 2124.3 L272.8 2127.7 L271.5 2130.9 L270.2 2135.2 L268.1 2138.7 L264.7 2141.5 L260 2140.9 L255.5 2143.2 L250.4 2142.3 L246.1 2139.6 L242.3 2134.9 L242.9 2130.9 L243.3 2126.9 L243.7 2123ZM250.8 2122.9 L259.2 2119.3 L261.5 2123 L265 2125.2 L264.5 2130.7 L264.3 2135.5 L261.7 2139 L254.2 2139.5 L249.7 2134 L252 2129.8 L252 2125.6Z" fill="none" stroke="#000" stroke-width="3.5" stroke-dasharray="6 4" stroke-linecap="round" stroke-linejoin="round"/><path d="M268.5 2142.1 L273 2143.6 L277 2142.9 L280.4 2139.2 L283.6 2140.1 L284.3 2144.1 L284.8 2148 L286.9 2153 L281.4 2155.9 L278.7 2161.4 L274.6 2160.4 L270.7 2161.6 L267.5 2161.7 L265.9 2157.7 L263.2 2153.8 L265.9 2150.6 L268.4 2147.3Z" fill="none" stroke="#000" stroke-width="3.5" stroke-dasharray="6 4" stroke-linecap="round" stroke-linejoin="round"/><path d="M260.5 2207.6 L264.7 2208.3 L269.5 2207.7 L270.4 2212.4 L272.2 2216.4 L274.5 2220.4 L278.5 2222.1 L280 2226.3 L281.4 2229.5 L280.7 2235 L278.7 2240.1 L275 2242.2 L270.5 2241.1 L266.6 2244.4 L262 2243.1 L257.3 2243.4 L253.3 2241.5 L249.6 2238.6 L246.7 2235 L247.3 2230 L248.4 2225.8 L252.2 2223.2 L254.4 2218.7 L259.8 2214.5ZM262.4 2213.2 L264.9 2211.9 L267.5 2219.4 L270.6 2223.2 L275.8 2229.5 L272.9 2233 L272.2 2237.3 L265.4 2240.4 L259 2237.9 L253.8 2233 L256.7 2229.2 L254.6 2224.7 L259.1 2220.4 L262.2 2216.6Z" fill="none" stroke="#000" stroke-width="3.5" stroke-dasharray="6 4" stroke-linecap="round" stroke-linejoin="round"/><path d="M256.1 2291.4 L259.7 2295 L263.5 2292.1 L265.8 2297.1 L260.9 2301.8 L255.7 2298Z" fill="none" stroke="#000" stroke-width="3.5" stroke-dasharray="6 4" stroke-linecap="round" stroke-linejoin="round"/><path d="M232.1 1901.6 L226.6 1904 L224.2 1909.5 L229.1 1912.5 L229.3 1906.4Z" fill="none" stroke="#000" stroke-width="3.5" stroke-dasharray="6 4" stroke-linecap="round" stroke-linejoin="round"/><circle cx="253.7" cy="1797" r="4.5" fill="#000"/><circle cx="235.7" cy="1835" r="2.6" fill="#000"/><circle cx="274.4" cy="2276.4" r="2.8" fill="#000"/><circle cx="274.4" cy="1981.8" r="2.2" fill="#000"/><path d="M107.9 1729.6 L113.2 1738.1 L110.4 1739.8 L120.5 1746.5 L118.9 1734.5 L116.1 1736.3 L110.8 1727.8ZM160.5 1729.6 L165.8 1738.1 L163 1739.8 L173.1 1746.5 L171.5 1734.5 L168.7 1736.3 L163.4 1727.8ZM214.5 1729.6 L219.8 1738.1 L217 1739.8 L227.1 1746.5 L225.5 1734.5 L222.7 1736.3 L217.4 1727.8ZM267.2 1729.6 L272.5 1738.1 L269.7 1739.8 L279.8 1746.5 L278.2 1734.5 L275.4 1736.3 L270.1 1727.8ZM321.2 1729.6 L326.5 1738.1 L323.7 1739.8 L333.8 1746.5 L332.2 1734.5 L329.4 1736.3 L324.1 1727.8ZM373.9 1729.6 L379.2 1738.1 L376.4 1739.8 L386.5 1746.5 L384.9 1734.5 L382.1 1736.3 L376.8 1727.8ZM107.9 1778.9 L113.2 1787.4 L110.4 1789.1 L120.5 1795.8 L118.9 1783.8 L116.1 1785.6 L110.8 1777.1ZM160.5 1778.9 L165.8 1787.4 L163 1789.1 L173.1 1795.8 L171.5 1783.8 L168.7 1785.6 L163.4 1777.1ZM214.5 1778.9 L219.8 1787.4 L217 1789.1 L227.1 1795.8 L225.5 1783.8 L222.7 1785.6 L217.4 1777.1ZM267.2 1778.9 L272.5 1787.4 L269.7 1789.1 L279.8 1795.8 L278.2 1783.8 L275.4 1785.6 L270.1 1777.1ZM321.2 1778.9 L326.5 1787.4 L323.7 1789.1 L333.8 1795.8 L332.2 1783.8 L329.4 1785.6 L324.1 1777.1ZM373.9 1778.9 L379.2 1787.4 L376.4 1789.1 L386.5 1795.8 L384.9 1783.8 L382.1 1785.6 L376.8 1777.1ZM107.5 1828.6 L113.2 1836.8 L110.5 1838.7 L120.9 1844.8 L118.7 1832.9 L116 1834.8 L110.3 1826.6ZM160.1 1828.6 L165.8 1836.8 L163.1 1838.7 L173.5 1844.8 L171.3 1832.9 L168.6 1834.8 L162.9 1826.6ZM214.1 1828.6 L219.8 1836.8 L217.1 1838.7 L227.5 1844.8 L225.3 1832.9 L222.6 1834.8 L216.9 1826.6ZM266.8 1828.6 L272.5 1836.8 L269.8 1838.7 L280.2 1844.8 L278 1832.9 L275.3 1834.8 L269.6 1826.6ZM320.8 1828.6 L326.5 1836.8 L323.8 1838.7 L334.2 1844.8 L332 1832.9 L329.3 1834.8 L323.6 1826.6ZM373.5 1828.6 L379.2 1836.8 L376.5 1838.7 L386.9 1844.8 L384.7 1832.9 L382 1834.8 L376.3 1826.6ZM106.5 1878.2 L113.6 1886.6 L111.1 1888.7 L122 1893.9 L118.7 1882.3 L116.2 1884.4 L109.1 1876ZM159.1 1878.2 L166.2 1886.6 L163.7 1888.7 L174.6 1893.9 L171.3 1882.3 L168.8 1884.4 L161.7 1876ZM213.1 1878.2 L220.2 1886.6 L217.7 1888.7 L228.6 1893.9 L225.3 1882.3 L222.8 1884.4 L215.7 1876ZM265.8 1878.2 L272.9 1886.6 L270.4 1888.7 L281.3 1893.9 L278 1882.3 L275.5 1884.4 L268.4 1876ZM319.8 1878.2 L326.9 1886.6 L324.4 1888.7 L335.3 1893.9 L332 1882.3 L329.5 1884.4 L322.4 1876ZM372.5 1878.2 L379.6 1886.6 L377.1 1888.7 L388 1893.9 L384.7 1882.3 L382.2 1884.4 L375.1 1876ZM106.2 1927.9 L113.7 1936 L111.2 1938.2 L122.4 1942.8 L118.6 1931.4 L116.1 1933.6 L108.6 1925.6ZM158.8 1927.9 L166.3 1936 L163.8 1938.2 L175 1942.8 L171.2 1931.4 L168.7 1933.6 L161.2 1925.6ZM212.8 1927.9 L220.3 1936 L217.8 1938.2 L229 1942.8 L225.2 1931.4 L222.7 1933.6 L215.2 1925.6ZM265.5 1927.9 L273 1936 L270.5 1938.2 L281.7 1942.8 L277.9 1931.4 L275.4 1933.6 L267.9 1925.6ZM319.5 1927.9 L327 1936 L324.5 1938.2 L335.7 1942.8 L331.9 1931.4 L329.4 1933.6 L321.9 1925.6ZM372.2 1927.9 L379.7 1936 L377.2 1938.2 L388.4 1942.8 L384.6 1931.4 L382.1 1933.6 L374.6 1925.6ZM105.9 1977.5 L113.7 1985.3 L111.4 1987.6 L122.7 1991.9 L118.4 1980.6 L116.1 1982.9 L108.3 1975.1ZM158.5 1977.5 L166.3 1985.3 L164 1987.6 L175.3 1991.9 L171 1980.6 L168.7 1982.9 L160.9 1975.1ZM212.5 1977.5 L220.3 1985.3 L218 1987.6 L229.3 1991.9 L225 1980.6 L222.7 1982.9 L214.9 1975.1ZM265.2 1977.5 L273 1985.3 L270.7 1987.6 L282 1991.9 L277.7 1980.6 L275.4 1982.9 L267.6 1975.1ZM319.2 1977.5 L327 1985.3 L324.7 1987.6 L336 1991.9 L331.7 1980.6 L329.4 1982.9 L321.6 1975.1ZM371.9 1977.5 L379.7 1985.3 L377.4 1987.6 L388.7 1991.9 L384.4 1980.6 L382.1 1982.9 L374.3 1975.1ZM105.6 2027.3 L113.8 2034.7 L111.6 2037.1 L123.1 2040.8 L118.2 2029.7 L116 2032.1 L107.9 2024.8ZM158.2 2027.3 L166.4 2034.7 L164.2 2037.1 L175.7 2040.8 L170.8 2029.7 L168.6 2032.1 L160.5 2024.8ZM212.2 2027.3 L220.4 2034.7 L218.2 2037.1 L229.7 2040.8 L224.8 2029.7 L222.6 2032.1 L214.5 2024.8ZM264.9 2027.3 L273.1 2034.7 L270.9 2037.1 L282.4 2040.8 L277.5 2029.7 L275.3 2032.1 L267.2 2024.8ZM318.9 2027.3 L327.1 2034.7 L324.9 2037.1 L336.4 2040.8 L331.5 2029.7 L329.3 2032.1 L321.2 2024.8ZM371.6 2027.3 L379.8 2034.7 L377.6 2037.1 L389.1 2040.8 L384.2 2029.7 L382 2032.1 L373.9 2024.8ZM104.8 2077 L114.2 2084.3 L112.2 2086.9 L124 2089.8 L118.4 2079.1 L116.3 2081.7 L106.9 2074.3ZM157.4 2077 L166.8 2084.3 L164.8 2086.9 L176.6 2089.8 L171 2079.1 L168.9 2081.7 L159.5 2074.3ZM211.4 2077 L220.8 2084.3 L218.8 2086.9 L230.6 2089.8 L225 2079.1 L222.9 2081.7 L213.5 2074.3ZM264.1 2077 L273.5 2084.3 L271.5 2086.9 L283.3 2089.8 L277.7 2079.1 L275.6 2081.7 L266.2 2074.3ZM318.1 2077 L327.5 2084.3 L325.5 2086.9 L337.3 2089.8 L331.7 2079.1 L329.6 2081.7 L320.2 2074.3ZM370.8 2077 L380.2 2084.3 L378.2 2086.9 L390 2089.8 L384.4 2079.1 L382.3 2081.7 L372.9 2074.3ZM104.2 2127.3 L114.4 2133.7 L112.7 2136.5 L124.7 2138.1 L118 2128 L116.2 2130.8 L106 2124.5ZM156.8 2127.3 L167 2133.7 L165.3 2136.5 L177.3 2138.1 L170.6 2128 L168.8 2130.8 L158.6 2124.5ZM210.8 2127.3 L221 2133.7 L219.3 2136.5 L231.3 2138.1 L224.6 2128 L222.8 2130.8 L212.6 2124.5ZM263.5 2127.3 L273.7 2133.7 L272 2136.5 L284 2138.1 L277.3 2128 L275.5 2130.8 L265.3 2124.5ZM317.5 2127.3 L327.7 2133.7 L326 2136.5 L338 2138.1 L331.3 2128 L329.5 2130.8 L319.3 2124.5ZM370.2 2127.3 L380.4 2133.7 L378.7 2136.5 L390.7 2138.1 L384 2128 L382.2 2130.8 L372 2124.5ZM103.4 2177.6 L115.1 2183.3 L113.6 2186.2 L125.7 2186.6 L118 2177.2 L116.5 2180.2 L104.9 2174.5ZM156 2177.6 L167.7 2183.3 L166.2 2186.2 L178.3 2186.6 L170.6 2177.2 L169.1 2180.2 L157.5 2174.5ZM210 2177.6 L221.7 2183.3 L220.2 2186.2 L232.3 2186.6 L224.6 2177.2 L223.1 2180.2 L211.5 2174.5ZM262.7 2177.6 L274.4 2183.3 L272.9 2186.2 L285 2186.6 L277.3 2177.2 L275.8 2180.2 L264.2 2174.5ZM316.7 2177.6 L328.4 2183.3 L326.9 2186.2 L339 2186.6 L331.3 2177.2 L329.8 2180.2 L318.2 2174.5ZM369.4 2177.6 L381.1 2183.3 L379.6 2186.2 L391.7 2186.6 L384 2177.2 L382.5 2180.2 L370.9 2174.5ZM102.5 2228.4 L115.8 2232.7 L114.8 2235.8 L126.8 2234.5 L117.9 2226.3 L116.9 2229.4 L103.5 2225.1ZM155.1 2228.4 L168.4 2232.7 L167.4 2235.8 L179.4 2234.5 L170.5 2226.3 L169.5 2229.4 L156.1 2225.1ZM209.1 2228.4 L222.4 2232.7 L221.4 2235.8 L233.4 2234.5 L224.5 2226.3 L223.5 2229.4 L210.1 2225.1ZM261.8 2228.4 L275.1 2232.7 L274.1 2235.8 L286.1 2234.5 L277.2 2226.3 L276.2 2229.4 L262.8 2225.1ZM315.8 2228.4 L329.1 2232.7 L328.1 2235.8 L340.1 2234.5 L331.2 2226.3 L330.2 2229.4 L316.8 2225.1ZM368.5 2228.4 L381.8 2232.7 L380.8 2235.8 L392.8 2234.5 L383.9 2226.3 L382.9 2229.4 L369.5 2225.1ZM101.8 2279.3 L116.6 2281.9 L116 2285.2 L127.7 2282.2 L117.7 2275.3 L117.2 2278.6 L102.4 2276ZM154.4 2279.3 L169.2 2281.9 L168.6 2285.2 L180.3 2282.2 L170.3 2275.3 L169.8 2278.6 L155 2276ZM208.4 2279.3 L223.2 2281.9 L222.6 2285.2 L234.3 2282.2 L224.3 2275.3 L223.8 2278.6 L209 2276ZM261.1 2279.3 L275.9 2281.9 L275.3 2285.2 L287 2282.2 L277 2275.3 L276.5 2278.6 L261.7 2276ZM315.1 2279.3 L329.9 2281.9 L329.3 2285.2 L341 2282.2 L331 2275.3 L330.5 2278.6 L315.7 2276ZM367.8 2279.3 L382.6 2281.9 L382 2285.2 L393.7 2282.2 L383.7 2275.3 L383.2 2278.6 L368.4 2276ZM101.3 2329.5 L117.2 2331.2 L116.9 2334.4 L128.3 2330.6 L117.9 2324.5 L117.6 2327.8 L101.7 2326.1ZM153.9 2329.5 L169.8 2331.2 L169.5 2334.4 L180.9 2330.6 L170.5 2324.5 L170.2 2327.8 L154.3 2326.1ZM207.9 2329.5 L223.8 2331.2 L223.5 2334.4 L234.9 2330.6 L224.5 2324.5 L224.2 2327.8 L208.3 2326.1ZM260.6 2329.5 L276.5 2331.2 L276.2 2334.4 L287.6 2330.6 L277.2 2324.5 L276.9 2327.8 L261 2326.1ZM314.6 2329.5 L330.5 2331.2 L330.2 2334.4 L341.6 2330.6 L331.2 2324.5 L330.9 2327.8 L315 2326.1ZM367.3 2329.5 L383.2 2331.2 L382.9 2334.4 L394.3 2330.6 L383.9 2324.5 L383.6 2327.8 L367.7 2326.1ZM100.8 2379.2 L117.8 2380.4 L117.5 2383.7 L128.9 2379.5 L118.2 2373.7 L118 2377 L101.1 2375.8ZM153.4 2379.2 L170.4 2380.4 L170.1 2383.7 L181.5 2379.5 L170.8 2373.7 L170.6 2377 L153.7 2375.8ZM207.4 2379.2 L224.4 2380.4 L224.1 2383.7 L235.5 2379.5 L224.8 2373.7 L224.6 2377 L207.7 2375.8ZM260.1 2379.2 L277.1 2380.4 L276.8 2383.7 L288.2 2379.5 L277.5 2373.7 L277.3 2377 L260.4 2375.8ZM314.1 2379.2 L331.1 2380.4 L330.8 2383.7 L342.2 2379.5 L331.5 2373.7 L331.3 2377 L314.4 2375.8ZM366.8 2379.2 L383.8 2380.4 L383.5 2383.7 L394.9 2379.5 L384.2 2373.7 L384 2377 L367.1 2375.8ZM100.8 2428.8 L117.8 2429.7 L117.6 2433 L128.9 2428.5 L118.2 2423 L118 2426.3 L101 2425.4ZM153.4 2428.8 L170.4 2429.7 L170.2 2433 L181.5 2428.5 L170.8 2423 L170.6 2426.3 L153.6 2425.4ZM207.4 2428.8 L224.4 2429.7 L224.2 2433 L235.5 2428.5 L224.8 2423 L224.6 2426.3 L207.6 2425.4ZM260.1 2428.8 L277.1 2429.7 L276.9 2433 L288.2 2428.5 L277.5 2423 L277.3 2426.3 L260.3 2425.4ZM314.1 2428.8 L331.1 2429.7 L330.9 2433 L342.2 2428.5 L331.5 2423 L331.3 2426.3 L314.3 2425.4ZM366.8 2428.8 L383.8 2429.7 L383.6 2433 L394.9 2428.5 L384.2 2423 L384 2426.3 L367 2425.4Z" fill="#000"/>
</svg>
<rect x="112.4" y="1728.4" width="308.2" height="700.7" fill="none" stroke="#000" stroke-width="2.8"/>
<svg x="458.5" y="1727" width="38" height="703.5" viewBox="0 0 38 703.5" preserveAspectRatio="none">
<rect x="0" y="672.90" width="38.0" height="30.90" fill="#5e4fa2"/><rect x="0" y="643.71" width="38.0" height="29.50" fill="#4b68ae"/><rect x="0" y="614.51" width="38.0" height="29.50" fill="#3881b9"/><rect x="0" y="585.32" width="38.0" height="29.50" fill="#429ab6"/><rect x="0" y="556.12" width="38.0" height="29.50" fill="#58b3ab"/><rect x="0" y="526.92" width="38.0" height="29.50" fill="#72c7a5"/><rect x="0" y="497.73" width="38.0" height="29.50" fill="#90d2a4"/><rect x="0" y="468.53" width="38.0" height="29.50" fill="#aedea3"/><rect x="0" y="439.34" width="38.0" height="29.50" fill="#c7e89e"/><rect x="0" y="410.14" width="38.0" height="29.50" fill="#e1f399"/><rect x="0" y="380.95" width="38.0" height="29.50" fill="#eff8a6"/><rect x="0" y="351.75" width="38.0" height="29.50" fill="#fafdb7"/><rect x="0" y="322.55" width="38.0" height="29.50" fill="#fff8b4"/><rect x="0" y="293.36" width="38.0" height="29.50" fill="#feeb9d"/><rect x="0" y="264.16" width="38.0" height="29.50" fill="#fedc87"/><rect x="0" y="234.97" width="38.0" height="29.50" fill="#fdc675"/><rect x="0" y="205.77" width="38.0" height="29.50" fill="#fdb063"/><rect x="0" y="176.58" width="38.0" height="29.50" fill="#f99555"/><rect x="0" y="147.38" width="38.0" height="29.50" fill="#f67848"/><rect x="0" y="118.18" width="38.0" height="29.50" fill="#ec6146"/><rect x="0" y="88.99" width="38.0" height="29.50" fill="#de4c4b"/><rect x="0" y="59.79" width="38.0" height="29.50" fill="#ce364d"/><rect x="0" y="30.60" width="38.0" height="29.50" fill="#b61c48"/><rect x="0" y="0.00" width="38.0" height="30.90" fill="#9e0142"/>
</svg>
<rect x="459.9" y="1728.4" width="35.2" height="700.7" fill="none" stroke="#000" stroke-width="2.8"/>
<text x="524.06" y="1860.78" font-size="47.65" textLength="26.43" lengthAdjust="spacingAndGlyphs">8</text>
<text x="523.74" y="2016.49" font-size="47.65" textLength="27.06" lengthAdjust="spacingAndGlyphs">6</text>
<text x="524.2" y="2172.21" font-size="47.65" textLength="26.15" lengthAdjust="spacingAndGlyphs">4</text>
<text x="524.09" y="2327.92" font-size="47.65" textLength="25.2" lengthAdjust="spacingAndGlyphs">2</text>
<path d="M98 1814.3H112M98 1926.18H112M98 2038.06H112M98 2149.94H112M98 2261.82H112M98 2373.7H112M195.1 2429.5V2443.5M363.91 2429.5V2443.5M495.5 1845.18H509.5M495.5 2000.89H509.5M495.5 2156.61H509.5M495.5 2312.32H509.5" stroke="#000" stroke-width="2.6" fill="none"/>
<text x="-1.28" y="1829.9" font-size="47.65" textLength="26.43" lengthAdjust="spacingAndGlyphs">8</text>
<text x="27.45" y="1829.9" font-size="47.65" textLength="19.7" lengthAdjust="spacingAndGlyphs">°</text>
<text x="49.2" y="1829.9" font-size="47.65" textLength="31.81" lengthAdjust="spacingAndGlyphs">N</text>
<text x="-1.6" y="1941.78" font-size="47.65" textLength="27.06" lengthAdjust="spacingAndGlyphs">6</text>
<text x="27.45" y="1941.78" font-size="47.65" textLength="19.7" lengthAdjust="spacingAndGlyphs">°</text>
<text x="49.2" y="1941.78" font-size="47.65" textLength="31.81" lengthAdjust="spacingAndGlyphs">N</text>
<text x="-1.14" y="2053.66" font-size="47.65" textLength="26.15" lengthAdjust="spacingAndGlyphs">4</text>
<text x="27.45" y="2053.66" font-size="47.65" textLength="19.7" lengthAdjust="spacingAndGlyphs">°</text>
<text x="49.2" y="2053.66" font-size="47.65" textLength="31.81" lengthAdjust="spacingAndGlyphs">N</text>
<text x="-1.25" y="2165.54" font-size="47.65" textLength="25.2" lengthAdjust="spacingAndGlyphs">2</text>
<text x="27.45" y="2165.54" font-size="47.65" textLength="19.7" lengthAdjust="spacingAndGlyphs">°</text>
<text x="49.2" y="2165.54" font-size="47.65" textLength="31.81" lengthAdjust="spacingAndGlyphs">N</text>
<text x="32.23" y="2277.42" font-size="47.65" textLength="26.15" lengthAdjust="spacingAndGlyphs">0</text>
<text x="60.81" y="2277.42" font-size="47.65" textLength="19.7" lengthAdjust="spacingAndGlyphs">°</text>
<text x="3.8" y="2389.3" font-size="47.65" textLength="25.2" lengthAdjust="spacingAndGlyphs">2</text>
<text x="32.5" y="2389.3" font-size="47.65" textLength="19.7" lengthAdjust="spacingAndGlyphs">°</text>
<text x="54.62" y="2389.3" font-size="47.65" textLength="26.52" lengthAdjust="spacingAndGlyphs">S</text>
<text x="143.98" y="2491.9" font-size="47.65" textLength="25.58" lengthAdjust="spacingAndGlyphs">7</text>
<text x="172.05" y="2491.9" font-size="47.65" textLength="25.2" lengthAdjust="spacingAndGlyphs">2</text>
<text x="200.75" y="2491.9" font-size="47.65" textLength="19.7" lengthAdjust="spacingAndGlyphs">°</text>
<text x="222.94" y="2491.9" font-size="47.65" textLength="25.78" lengthAdjust="spacingAndGlyphs">E</text>
<text x="312.79" y="2491.9" font-size="47.65" textLength="25.58" lengthAdjust="spacingAndGlyphs">7</text>
<text x="341.53" y="2491.9" font-size="47.65" textLength="24.68" lengthAdjust="spacingAndGlyphs">5</text>
<text x="369.56" y="2491.9" font-size="47.65" textLength="19.7" lengthAdjust="spacingAndGlyphs">°</text>
<text x="391.75" y="2491.9" font-size="47.65" textLength="25.78" lengthAdjust="spacingAndGlyphs">E</text>
<svg x="672.3" y="1727" width="311" height="703.5" viewBox="672.3 1727 311 703.5" overflow="hidden">
<rect x="625" y="1683.4" width="68.5" height="54.4" fill="#addaea"/><rect x="693.1" y="1683.4" width="14.5" height="54.4" fill="#7eb5d5"/><rect x="707.2" y="1683.4" width="14.5" height="54.4" fill="#689ec9"/><rect x="721.2" y="1683.4" width="56.7" height="54.4" fill="#5386bd"/><rect x="777.5" y="1683.4" width="28.5" height="54.4" fill="#426db0"/><rect x="805.6" y="1683.4" width="42.6" height="54.4" fill="#5386bd"/><rect x="847.8" y="1683.4" width="42.6" height="54.4" fill="#3a51a2"/><rect x="890" y="1683.4" width="14.5" height="54.4" fill="#5386bd"/><rect x="904.1" y="1683.4" width="14.5" height="54.4" fill="#7eb5d5"/><rect x="918.2" y="1683.4" width="14.5" height="54.4" fill="#5386bd"/><rect x="932.2" y="1683.4" width="96.7" height="54.4" fill="#3a51a2"/><rect x="625" y="1737.4" width="54.5" height="14.4" fill="#95c8e0"/><rect x="679" y="1737.4" width="14.5" height="14.4" fill="#7eb5d5"/><rect x="693.1" y="1737.4" width="14.5" height="14.4" fill="#5386bd"/><rect x="707.2" y="1737.4" width="28.5" height="14.4" fill="#426db0"/><rect x="735.3" y="1737.4" width="42.6" height="14.4" fill="#5386bd"/><rect x="777.5" y="1737.4" width="28.5" height="14.4" fill="#426db0"/><rect x="805.6" y="1737.4" width="42.6" height="14.4" fill="#5386bd"/><rect x="847.8" y="1737.4" width="56.7" height="14.4" fill="#426db0"/><rect x="904.1" y="1737.4" width="14.5" height="14.4" fill="#689ec9"/><rect x="918.2" y="1737.4" width="14.5" height="14.4" fill="#5386bd"/><rect x="932.2" y="1737.4" width="96.7" height="14.4" fill="#426db0"/><rect x="625" y="1751.4" width="54.5" height="14.4" fill="#689ec9"/><rect x="679" y="1751.4" width="14.5" height="14.4" fill="#5386bd"/><rect x="693.1" y="1751.4" width="28.5" height="14.4" fill="#426db0"/><rect x="721.2" y="1751.4" width="28.5" height="14.4" fill="#5386bd"/><rect x="749.4" y="1751.4" width="14.5" height="14.4" fill="#689ec9"/><rect x="763.4" y="1751.4" width="14.5" height="14.4" fill="#5386bd"/><rect x="777.5" y="1751.4" width="28.5" height="14.4" fill="#426db0"/><rect x="805.6" y="1751.4" width="56.7" height="14.4" fill="#5386bd"/><rect x="861.9" y="1751.4" width="14.5" height="14.4" fill="#3a51a2"/><rect x="876" y="1751.4" width="14.5" height="14.4" fill="#426db0"/><rect x="890" y="1751.4" width="14.5" height="14.4" fill="#5386bd"/><rect x="904.1" y="1751.4" width="14.5" height="14.4" fill="#689ec9"/><rect x="918.2" y="1751.4" width="14.5" height="14.4" fill="#5386bd"/><rect x="932.2" y="1751.4" width="96.7" height="14.4" fill="#426db0"/><rect x="625" y="1765.4" width="54.5" height="14.4" fill="#5386bd"/><rect x="679" y="1765.4" width="28.5" height="14.4" fill="#426db0"/><rect x="707.2" y="1765.4" width="28.5" height="14.4" fill="#5386bd"/><rect x="735.3" y="1765.4" width="14.5" height="14.4" fill="#689ec9"/><rect x="749.4" y="1765.4" width="28.5" height="14.4" fill="#5386bd"/><rect x="777.5" y="1765.4" width="42.6" height="14.4" fill="#426db0"/><rect x="819.7" y="1765.4" width="14.5" height="14.4" fill="#5386bd"/><rect x="833.8" y="1765.4" width="14.5" height="14.4" fill="#7eb5d5"/><rect x="847.8" y="1765.4" width="14.5" height="14.4" fill="#5386bd"/><rect x="861.9" y="1765.4" width="28.5" height="14.4" fill="#426db0"/><rect x="890" y="1765.4" width="84.8" height="14.4" fill="#689ec9"/><rect x="974.4" y="1765.4" width="54.5" height="14.4" fill="#5386bd"/><rect x="625" y="1779.3" width="54.5" height="14.4" fill="#426db0"/><rect x="679" y="1779.3" width="14.5" height="14.4" fill="#3a51a2"/><rect x="693.1" y="1779.3" width="14.5" height="14.4" fill="#426db0"/><rect x="707.2" y="1779.3" width="28.5" height="14.4" fill="#5386bd"/><rect x="735.3" y="1779.3" width="14.5" height="14.4" fill="#689ec9"/><rect x="749.4" y="1779.3" width="28.5" height="14.4" fill="#5386bd"/><rect x="777.5" y="1779.3" width="14.5" height="14.4" fill="#426db0"/><rect x="791.6" y="1779.3" width="14.5" height="14.4" fill="#3a51a2"/><rect x="805.6" y="1779.3" width="14.5" height="14.4" fill="#426db0"/><rect x="819.7" y="1779.3" width="14.5" height="14.4" fill="#5386bd"/><rect x="833.8" y="1779.3" width="14.5" height="14.4" fill="#689ec9"/><rect x="847.8" y="1779.3" width="42.6" height="14.4" fill="#5386bd"/><rect x="890" y="1779.3" width="70.7" height="14.4" fill="#7eb5d5"/><rect x="960.4" y="1779.3" width="68.5" height="14.4" fill="#689ec9"/><rect x="625" y="1793.3" width="54.5" height="14.4" fill="#426db0"/><rect x="679" y="1793.3" width="14.5" height="14.4" fill="#3a51a2"/><rect x="693.1" y="1793.3" width="14.5" height="14.4" fill="#426db0"/><rect x="707.2" y="1793.3" width="70.7" height="14.4" fill="#5386bd"/><rect x="777.5" y="1793.3" width="14.5" height="14.4" fill="#426db0"/><rect x="791.6" y="1793.3" width="14.5" height="14.4" fill="#3a51a2"/><rect x="805.6" y="1793.3" width="56.7" height="14.4" fill="#5386bd"/><rect x="861.9" y="1793.3" width="14.5" height="14.4" fill="#689ec9"/><rect x="876" y="1793.3" width="42.6" height="14.4" fill="#7eb5d5"/><rect x="918.2" y="1793.3" width="28.5" height="14.4" fill="#689ec9"/><rect x="946.3" y="1793.3" width="28.5" height="14.4" fill="#426db0"/><rect x="974.4" y="1793.3" width="54.5" height="14.4" fill="#5386bd"/><rect x="625" y="1807.3" width="96.7" height="14.4" fill="#426db0"/><rect x="721.2" y="1807.3" width="42.6" height="14.4" fill="#5386bd"/><rect x="763.4" y="1807.3" width="56.7" height="14.4" fill="#426db0"/><rect x="819.7" y="1807.3" width="28.5" height="14.4" fill="#5386bd"/><rect x="847.8" y="1807.3" width="14.5" height="14.4" fill="#689ec9"/><rect x="861.9" y="1807.3" width="14.5" height="14.4" fill="#7eb5d5"/><rect x="876" y="1807.3" width="28.5" height="14.4" fill="#95c8e0"/><rect x="904.1" y="1807.3" width="14.5" height="14.4" fill="#7eb5d5"/><rect x="918.2" y="1807.3" width="14.5" height="14.4" fill="#689ec9"/><rect x="932.2" y="1807.3" width="14.5" height="14.4" fill="#426db0"/><rect x="946.3" y="1807.3" width="14.5" height="14.4" fill="#3a51a2"/><rect x="960.4" y="1807.3" width="14.5" height="14.4" fill="#426db0"/><rect x="974.4" y="1807.3" width="54.5" height="14.4" fill="#5386bd"/><rect x="625" y="1821.3" width="68.5" height="14.4" fill="#426db0"/><rect x="693.1" y="1821.3" width="28.5" height="14.4" fill="#5386bd"/><rect x="721.2" y="1821.3" width="28.5" height="14.4" fill="#689ec9"/><rect x="749.4" y="1821.3" width="14.5" height="14.4" fill="#5386bd"/><rect x="763.4" y="1821.3" width="14.5" height="14.4" fill="#426db0"/><rect x="777.5" y="1821.3" width="14.5" height="14.4" fill="#5386bd"/><rect x="791.6" y="1821.3" width="14.5" height="14.4" fill="#689ec9"/><rect x="805.6" y="1821.3" width="14.5" height="14.4" fill="#7eb5d5"/><rect x="819.7" y="1821.3" width="28.5" height="14.4" fill="#5386bd"/><rect x="847.8" y="1821.3" width="14.5" height="14.4" fill="#689ec9"/><rect x="861.9" y="1821.3" width="56.7" height="14.4" fill="#7eb5d5"/><rect x="918.2" y="1821.3" width="14.5" height="14.4" fill="#689ec9"/><rect x="932.2" y="1821.3" width="14.5" height="14.4" fill="#5386bd"/><rect x="946.3" y="1821.3" width="14.5" height="14.4" fill="#689ec9"/><rect x="960.4" y="1821.3" width="68.5" height="14.4" fill="#7eb5d5"/><rect x="625" y="1835.3" width="167" height="14.4" fill="#5386bd"/><rect x="791.6" y="1835.3" width="56.7" height="14.4" fill="#7eb5d5"/><rect x="847.8" y="1835.3" width="84.8" height="14.4" fill="#689ec9"/><rect x="932.2" y="1835.3" width="96.7" height="14.4" fill="#7eb5d5"/><rect x="625" y="1849.3" width="68.5" height="14.4" fill="#426db0"/><rect x="693.1" y="1849.3" width="14.5" height="14.4" fill="#3a51a2"/><rect x="707.2" y="1849.3" width="28.5" height="14.4" fill="#426db0"/><rect x="735.3" y="1849.3" width="28.5" height="14.4" fill="#5386bd"/><rect x="763.4" y="1849.3" width="70.7" height="14.4" fill="#689ec9"/><rect x="833.8" y="1849.3" width="28.5" height="14.4" fill="#5386bd"/><rect x="861.9" y="1849.3" width="28.5" height="14.4" fill="#426db0"/><rect x="890" y="1849.3" width="14.5" height="14.4" fill="#5386bd"/><rect x="904.1" y="1849.3" width="14.5" height="14.4" fill="#689ec9"/><rect x="918.2" y="1849.3" width="14.5" height="14.4" fill="#7eb5d5"/><rect x="932.2" y="1849.3" width="28.5" height="14.4" fill="#95c8e0"/><rect x="960.4" y="1849.3" width="68.5" height="14.4" fill="#7eb5d5"/><rect x="625" y="1863.2" width="68.5" height="14.4" fill="#3a51a2"/><rect x="693.1" y="1863.2" width="14.5" height="14.4" fill="#426db0"/><rect x="707.2" y="1863.2" width="42.6" height="14.4" fill="#5386bd"/><rect x="749.4" y="1863.2" width="28.5" height="14.4" fill="#689ec9"/><rect x="777.5" y="1863.2" width="42.6" height="14.4" fill="#5386bd"/><rect x="819.7" y="1863.2" width="14.5" height="14.4" fill="#426db0"/><rect x="833.8" y="1863.2" width="42.6" height="14.4" fill="#3a51a2"/><rect x="876" y="1863.2" width="14.5" height="14.4" fill="#426db0"/><rect x="890" y="1863.2" width="14.5" height="14.4" fill="#5386bd"/><rect x="904.1" y="1863.2" width="28.5" height="14.4" fill="#7eb5d5"/><rect x="932.2" y="1863.2" width="14.5" height="14.4" fill="#95c8e0"/><rect x="946.3" y="1863.2" width="82.6" height="14.4" fill="#7eb5d5"/><rect x="625" y="1877.2" width="68.5" height="14.4" fill="#5386bd"/><rect x="693.1" y="1877.2" width="112.9" height="14.4" fill="#689ec9"/><rect x="805.6" y="1877.2" width="14.5" height="14.4" fill="#5386bd"/><rect x="819.7" y="1877.2" width="70.7" height="14.4" fill="#426db0"/><rect x="890" y="1877.2" width="42.6" height="14.4" fill="#5386bd"/><rect x="932.2" y="1877.2" width="96.7" height="14.4" fill="#689ec9"/><rect x="625" y="1891.2" width="96.7" height="14.4" fill="#689ec9"/><rect x="721.2" y="1891.2" width="14.5" height="14.4" fill="#5386bd"/><rect x="735.3" y="1891.2" width="28.5" height="14.4" fill="#689ec9"/><rect x="763.4" y="1891.2" width="14.5" height="14.4" fill="#7eb5d5"/><rect x="777.5" y="1891.2" width="28.5" height="14.4" fill="#95c8e0"/><rect x="805.6" y="1891.2" width="14.5" height="14.4" fill="#7eb5d5"/><rect x="819.7" y="1891.2" width="28.5" height="14.4" fill="#689ec9"/><rect x="847.8" y="1891.2" width="28.5" height="14.4" fill="#5386bd"/><rect x="876" y="1891.2" width="14.5" height="14.4" fill="#426db0"/><rect x="890" y="1891.2" width="42.6" height="14.4" fill="#3a51a2"/><rect x="932.2" y="1891.2" width="28.5" height="14.4" fill="#426db0"/><rect x="960.4" y="1891.2" width="68.5" height="14.4" fill="#5386bd"/><rect x="625" y="1905.2" width="54.5" height="14.4" fill="#5386bd"/><rect x="679" y="1905.2" width="70.7" height="14.4" fill="#426db0"/><rect x="749.4" y="1905.2" width="14.5" height="14.4" fill="#5386bd"/><rect x="763.4" y="1905.2" width="14.5" height="14.4" fill="#689ec9"/><rect x="777.5" y="1905.2" width="28.5" height="14.4" fill="#7eb5d5"/><rect x="805.6" y="1905.2" width="56.7" height="14.4" fill="#5386bd"/><rect x="861.9" y="1905.2" width="14.5" height="14.4" fill="#689ec9"/><rect x="876" y="1905.2" width="28.5" height="14.4" fill="#5386bd"/><rect x="904.1" y="1905.2" width="70.7" height="14.4" fill="#426db0"/><rect x="974.4" y="1905.2" width="54.5" height="14.4" fill="#5386bd"/><rect x="625" y="1919.2" width="68.5" height="14.4" fill="#5386bd"/><rect x="693.1" y="1919.2" width="42.6" height="14.4" fill="#426db0"/><rect x="735.3" y="1919.2" width="70.7" height="14.4" fill="#5386bd"/><rect x="805.6" y="1919.2" width="14.5" height="14.4" fill="#426db0"/><rect x="819.7" y="1919.2" width="28.5" height="14.4" fill="#3a51a2"/><rect x="847.8" y="1919.2" width="14.5" height="14.4" fill="#426db0"/><rect x="861.9" y="1919.2" width="84.8" height="14.4" fill="#5386bd"/><rect x="946.3" y="1919.2" width="82.6" height="14.4" fill="#689ec9"/><rect x="625" y="1933.2" width="68.5" height="14.4" fill="#5386bd"/><rect x="693.1" y="1933.2" width="28.5" height="14.4" fill="#426db0"/><rect x="721.2" y="1933.2" width="56.7" height="14.4" fill="#5386bd"/><rect x="777.5" y="1933.2" width="28.5" height="14.4" fill="#426db0"/><rect x="805.6" y="1933.2" width="14.5" height="14.4" fill="#3a51a2"/><rect x="819.7" y="1933.2" width="14.5" height="14.4" fill="#426db0"/><rect x="833.8" y="1933.2" width="14.5" height="14.4" fill="#5386bd"/><rect x="847.8" y="1933.2" width="28.5" height="14.4" fill="#689ec9"/><rect x="876" y="1933.2" width="56.7" height="14.4" fill="#7eb5d5"/><rect x="932.2" y="1933.2" width="96.7" height="14.4" fill="#95c8e0"/><rect x="625" y="1947.2" width="68.5" height="14.4" fill="#689ec9"/><rect x="693.1" y="1947.2" width="14.5" height="14.4" fill="#5386bd"/><rect x="707.2" y="1947.2" width="42.6" height="14.4" fill="#689ec9"/><rect x="749.4" y="1947.2" width="14.5" height="14.4" fill="#5386bd"/><rect x="763.4" y="1947.2" width="14.5" height="14.4" fill="#689ec9"/><rect x="777.5" y="1947.2" width="42.6" height="14.4" fill="#5386bd"/><rect x="819.7" y="1947.2" width="14.5" height="14.4" fill="#689ec9"/><rect x="833.8" y="1947.2" width="42.6" height="14.4" fill="#7eb5d5"/><rect x="876" y="1947.2" width="42.6" height="14.4" fill="#95c8e0"/><rect x="918.2" y="1947.2" width="110.7" height="14.4" fill="#addaea"/><rect x="625" y="1961.1" width="82.6" height="14.4" fill="#95c8e0"/><rect x="707.2" y="1961.1" width="42.6" height="14.4" fill="#addaea"/><rect x="749.4" y="1961.1" width="14.5" height="14.4" fill="#95c8e0"/><rect x="763.4" y="1961.1" width="56.7" height="14.4" fill="#addaea"/><rect x="819.7" y="1961.1" width="14.5" height="14.4" fill="#dbf1f7"/><rect x="833.8" y="1961.1" width="14.5" height="14.4" fill="#c4e5f0"/><rect x="847.8" y="1961.1" width="14.5" height="14.4" fill="#addaea"/><rect x="861.9" y="1961.1" width="14.5" height="14.4" fill="#95c8e0"/><rect x="876" y="1961.1" width="14.5" height="14.4" fill="#addaea"/><rect x="890" y="1961.1" width="138.9" height="14.4" fill="#c4e5f0"/><rect x="625" y="1975.1" width="54.5" height="14.4" fill="#c4e5f0"/><rect x="679" y="1975.1" width="84.8" height="14.4" fill="#dbf1f7"/><rect x="763.4" y="1975.1" width="42.6" height="14.4" fill="#f8fccb"/><rect x="805.6" y="1975.1" width="42.6" height="14.4" fill="#dbf1f7"/><rect x="847.8" y="1975.1" width="14.5" height="14.4" fill="#addaea"/><rect x="861.9" y="1975.1" width="14.5" height="14.4" fill="#95c8e0"/><rect x="876" y="1975.1" width="14.5" height="14.4" fill="#addaea"/><rect x="890" y="1975.1" width="28.5" height="14.4" fill="#c4e5f0"/><rect x="918.2" y="1975.1" width="110.7" height="14.4" fill="#dbf1f7"/><rect x="625" y="1989.1" width="110.7" height="14.4" fill="#addaea"/><rect x="735.3" y="1989.1" width="84.8" height="14.4" fill="#c4e5f0"/><rect x="819.7" y="1989.1" width="14.5" height="14.4" fill="#689ec9"/><rect x="833.8" y="1989.1" width="14.5" height="14.4" fill="#7eb5d5"/><rect x="847.8" y="1989.1" width="70.7" height="14.4" fill="#95c8e0"/><rect x="918.2" y="1989.1" width="110.7" height="14.4" fill="#addaea"/><rect x="625" y="2003.1" width="152.9" height="14.4" fill="#7eb5d5"/><rect x="777.5" y="2003.1" width="28.5" height="14.4" fill="#689ec9"/><rect x="805.6" y="2003.1" width="14.5" height="14.4" fill="#5386bd"/><rect x="819.7" y="2003.1" width="14.5" height="14.4" fill="#3a51a2"/><rect x="833.8" y="2003.1" width="14.5" height="14.4" fill="#5386bd"/><rect x="847.8" y="2003.1" width="14.5" height="14.4" fill="#689ec9"/><rect x="861.9" y="2003.1" width="42.6" height="14.4" fill="#7eb5d5"/><rect x="904.1" y="2003.1" width="124.8" height="14.4" fill="#95c8e0"/><rect x="625" y="2017.1" width="54.5" height="14.4" fill="#689ec9"/><rect x="679" y="2017.1" width="112.9" height="14.4" fill="#5386bd"/><rect x="791.6" y="2017.1" width="42.6" height="14.4" fill="#426db0"/><rect x="833.8" y="2017.1" width="14.5" height="14.4" fill="#5386bd"/><rect x="847.8" y="2017.1" width="14.5" height="14.4" fill="#689ec9"/><rect x="861.9" y="2017.1" width="167" height="14.4" fill="#7eb5d5"/><rect x="625" y="2031.1" width="82.6" height="14.4" fill="#426db0"/><rect x="707.2" y="2031.1" width="14.5" height="14.4" fill="#5386bd"/><rect x="721.2" y="2031.1" width="14.5" height="14.4" fill="#426db0"/><rect x="735.3" y="2031.1" width="42.6" height="14.4" fill="#5386bd"/><rect x="777.5" y="2031.1" width="42.6" height="14.4" fill="#426db0"/><rect x="819.7" y="2031.1" width="14.5" height="14.4" fill="#5386bd"/><rect x="833.8" y="2031.1" width="14.5" height="14.4" fill="#689ec9"/><rect x="847.8" y="2031.1" width="14.5" height="14.4" fill="#95c8e0"/><rect x="861.9" y="2031.1" width="167" height="14.4" fill="#689ec9"/><rect x="625" y="2045.1" width="82.6" height="14.4" fill="#3a51a2"/><rect x="707.2" y="2045.1" width="84.8" height="14.4" fill="#426db0"/><rect x="791.6" y="2045.1" width="42.6" height="14.4" fill="#5386bd"/><rect x="833.8" y="2045.1" width="112.9" height="14.4" fill="#689ec9"/><rect x="946.3" y="2045.1" width="14.5" height="14.4" fill="#5386bd"/><rect x="960.4" y="2045.1" width="68.5" height="14.4" fill="#689ec9"/><rect x="625" y="2059" width="82.6" height="14.4" fill="#3a51a2"/><rect x="707.2" y="2059" width="28.5" height="14.4" fill="#426db0"/><rect x="735.3" y="2059" width="112.9" height="14.4" fill="#5386bd"/><rect x="847.8" y="2059" width="56.7" height="14.4" fill="#689ec9"/><rect x="904.1" y="2059" width="14.5" height="14.4" fill="#5386bd"/><rect x="918.2" y="2059" width="14.5" height="14.4" fill="#689ec9"/><rect x="932.2" y="2059" width="96.7" height="14.4" fill="#5386bd"/><rect x="625" y="2073" width="54.5" height="14.4" fill="#426db0"/><rect x="679" y="2073" width="169.2" height="14.4" fill="#5386bd"/><rect x="847.8" y="2073" width="14.5" height="14.4" fill="#689ec9"/><rect x="861.9" y="2073" width="14.5" height="14.4" fill="#95c8e0"/><rect x="876" y="2073" width="14.5" height="14.4" fill="#689ec9"/><rect x="890" y="2073" width="138.9" height="14.4" fill="#5386bd"/><rect x="625" y="2087" width="68.5" height="14.4" fill="#5386bd"/><rect x="693.1" y="2087" width="127" height="14.4" fill="#689ec9"/><rect x="819.7" y="2087" width="28.5" height="14.4" fill="#5386bd"/><rect x="847.8" y="2087" width="14.5" height="14.4" fill="#689ec9"/><rect x="861.9" y="2087" width="14.5" height="14.4" fill="#95c8e0"/><rect x="876" y="2087" width="28.5" height="14.4" fill="#689ec9"/><rect x="904.1" y="2087" width="124.8" height="14.4" fill="#5386bd"/><rect x="625" y="2101" width="181.1" height="14.4" fill="#689ec9"/><rect x="805.6" y="2101" width="42.6" height="14.4" fill="#5386bd"/><rect x="847.8" y="2101" width="14.5" height="14.4" fill="#7eb5d5"/><rect x="861.9" y="2101" width="14.5" height="14.4" fill="#95c8e0"/><rect x="876" y="2101" width="28.5" height="14.4" fill="#689ec9"/><rect x="904.1" y="2101" width="124.8" height="14.4" fill="#5386bd"/><rect x="625" y="2115" width="181.1" height="14.4" fill="#689ec9"/><rect x="805.6" y="2115" width="28.5" height="14.4" fill="#5386bd"/><rect x="833.8" y="2115" width="14.5" height="14.4" fill="#689ec9"/><rect x="847.8" y="2115" width="28.5" height="14.4" fill="#95c8e0"/><rect x="876" y="2115" width="28.5" height="14.4" fill="#689ec9"/><rect x="904.1" y="2115" width="28.5" height="14.4" fill="#5386bd"/><rect x="932.2" y="2115" width="96.7" height="14.4" fill="#426db0"/><rect x="625" y="2129" width="209.2" height="14.4" fill="#5386bd"/><rect x="833.8" y="2129" width="14.5" height="14.4" fill="#689ec9"/><rect x="847.8" y="2129" width="28.5" height="14.4" fill="#7eb5d5"/><rect x="876" y="2129" width="14.5" height="14.4" fill="#689ec9"/><rect x="890" y="2129" width="14.5" height="14.4" fill="#5386bd"/><rect x="904.1" y="2129" width="56.7" height="14.4" fill="#426db0"/><rect x="960.4" y="2129" width="14.5" height="14.4" fill="#3a51a2"/><rect x="974.4" y="2129" width="54.5" height="14.4" fill="#426db0"/><rect x="625" y="2142.9" width="82.6" height="14.4" fill="#426db0"/><rect x="707.2" y="2142.9" width="141.1" height="14.4" fill="#5386bd"/><rect x="847.8" y="2142.9" width="14.5" height="14.4" fill="#689ec9"/><rect x="861.9" y="2142.9" width="14.5" height="14.4" fill="#7eb5d5"/><rect x="876" y="2142.9" width="14.5" height="14.4" fill="#689ec9"/><rect x="890" y="2142.9" width="14.5" height="14.4" fill="#5386bd"/><rect x="904.1" y="2142.9" width="28.5" height="14.4" fill="#426db0"/><rect x="932.2" y="2142.9" width="42.6" height="14.4" fill="#3a51a2"/><rect x="974.4" y="2142.9" width="54.5" height="14.4" fill="#426db0"/><rect x="625" y="2156.9" width="110.7" height="14.4" fill="#426db0"/><rect x="735.3" y="2156.9" width="28.5" height="14.4" fill="#5386bd"/><rect x="763.4" y="2156.9" width="56.7" height="14.4" fill="#426db0"/><rect x="819.7" y="2156.9" width="28.5" height="14.4" fill="#5386bd"/><rect x="847.8" y="2156.9" width="14.5" height="14.4" fill="#689ec9"/><rect x="861.9" y="2156.9" width="14.5" height="14.4" fill="#95c8e0"/><rect x="876" y="2156.9" width="14.5" height="14.4" fill="#689ec9"/><rect x="890" y="2156.9" width="14.5" height="14.4" fill="#5386bd"/><rect x="904.1" y="2156.9" width="28.5" height="14.4" fill="#426db0"/><rect x="932.2" y="2156.9" width="42.6" height="14.4" fill="#3a51a2"/><rect x="974.4" y="2156.9" width="54.5" height="14.4" fill="#426db0"/><rect x="625" y="2170.9" width="195.1" height="14.4" fill="#426db0"/><rect x="819.7" y="2170.9" width="28.5" height="14.4" fill="#5386bd"/><rect x="847.8" y="2170.9" width="14.5" height="14.4" fill="#689ec9"/><rect x="861.9" y="2170.9" width="14.5" height="14.4" fill="#95c8e0"/><rect x="876" y="2170.9" width="14.5" height="14.4" fill="#689ec9"/><rect x="890" y="2170.9" width="14.5" height="14.4" fill="#5386bd"/><rect x="904.1" y="2170.9" width="28.5" height="14.4" fill="#426db0"/><rect x="932.2" y="2170.9" width="28.5" height="14.4" fill="#3a51a2"/><rect x="960.4" y="2170.9" width="68.5" height="14.4" fill="#426db0"/><rect x="625" y="2184.9" width="195.1" height="14.4" fill="#426db0"/><rect x="819.7" y="2184.9" width="28.5" height="14.4" fill="#5386bd"/><rect x="847.8" y="2184.9" width="14.5" height="14.4" fill="#689ec9"/><rect x="861.9" y="2184.9" width="14.5" height="14.4" fill="#7eb5d5"/><rect x="876" y="2184.9" width="28.5" height="14.4" fill="#689ec9"/><rect x="904.1" y="2184.9" width="124.8" height="14.4" fill="#426db0"/><rect x="625" y="2198.9" width="195.1" height="14.4" fill="#426db0"/><rect x="819.7" y="2198.9" width="14.5" height="14.4" fill="#5386bd"/><rect x="833.8" y="2198.9" width="28.5" height="14.4" fill="#689ec9"/><rect x="861.9" y="2198.9" width="42.6" height="14.4" fill="#7eb5d5"/><rect x="904.1" y="2198.9" width="14.5" height="14.4" fill="#689ec9"/><rect x="918.2" y="2198.9" width="56.7" height="14.4" fill="#5386bd"/><rect x="974.4" y="2198.9" width="54.5" height="14.4" fill="#689ec9"/><rect x="625" y="2212.9" width="68.5" height="14.4" fill="#689ec9"/><rect x="693.1" y="2212.9" width="141.1" height="14.4" fill="#5386bd"/><rect x="833.8" y="2212.9" width="14.5" height="14.4" fill="#689ec9"/><rect x="847.8" y="2212.9" width="14.5" height="14.4" fill="#7eb5d5"/><rect x="861.9" y="2212.9" width="14.5" height="14.4" fill="#addaea"/><rect x="876" y="2212.9" width="28.5" height="14.4" fill="#95c8e0"/><rect x="904.1" y="2212.9" width="124.8" height="14.4" fill="#7eb5d5"/><rect x="625" y="2226.9" width="195.1" height="14.4" fill="#7eb5d5"/><rect x="819.7" y="2226.9" width="28.5" height="14.4" fill="#689ec9"/><rect x="847.8" y="2226.9" width="14.5" height="14.4" fill="#7eb5d5"/><rect x="861.9" y="2226.9" width="14.5" height="14.4" fill="#95c8e0"/><rect x="876" y="2226.9" width="14.5" height="14.4" fill="#addaea"/><rect x="890" y="2226.9" width="28.5" height="14.4" fill="#c4e5f0"/><rect x="918.2" y="2226.9" width="110.7" height="14.4" fill="#addaea"/><rect x="625" y="2240.8" width="82.6" height="14.4" fill="#dbf1f7"/><rect x="707.2" y="2240.8" width="112.9" height="14.4" fill="#c4e5f0"/><rect x="819.7" y="2240.8" width="14.5" height="14.4" fill="#689ec9"/><rect x="833.8" y="2240.8" width="14.5" height="14.4" fill="#7eb5d5"/><rect x="847.8" y="2240.8" width="14.5" height="14.4" fill="#95c8e0"/><rect x="861.9" y="2240.8" width="14.5" height="14.4" fill="#addaea"/><rect x="876" y="2240.8" width="14.5" height="14.4" fill="#c4e5f0"/><rect x="890" y="2240.8" width="28.5" height="14.4" fill="#dbf1f7"/><rect x="918.2" y="2240.8" width="110.7" height="14.4" fill="#ebf7e4"/><rect x="625" y="2254.8" width="404" height="14.4" fill="#fff8b5"/><rect x="625" y="2268.8" width="167" height="14.4" fill="#fdb063"/><rect x="791.6" y="2268.8" width="28.5" height="14.4" fill="#fdc677"/><rect x="819.7" y="2268.8" width="112.9" height="14.4" fill="#fdb063"/><rect x="932.2" y="2268.8" width="96.7" height="14.4" fill="#fdc677"/><rect x="625" y="2282.8" width="96.7" height="14.4" fill="#ec5d3c"/><rect x="721.2" y="2282.8" width="211.4" height="14.4" fill="#f67848"/><rect x="932.2" y="2282.8" width="96.7" height="14.4" fill="#f99555"/><rect x="625" y="2296.8" width="223.3" height="14.4" fill="#ec5d3c"/><rect x="847.8" y="2296.8" width="98.9" height="14.4" fill="#f67848"/><rect x="946.3" y="2296.8" width="28.5" height="14.4" fill="#f99555"/><rect x="974.4" y="2296.8" width="54.5" height="14.4" fill="#fdb063"/><rect x="625" y="2310.8" width="152.9" height="14.4" fill="#e04330"/><rect x="777.5" y="2310.8" width="70.7" height="14.4" fill="#ec5d3c"/><rect x="847.8" y="2310.8" width="70.7" height="14.4" fill="#f67848"/><rect x="918.2" y="2310.8" width="42.6" height="14.4" fill="#f99555"/><rect x="960.4" y="2310.8" width="68.5" height="14.4" fill="#fdb063"/><rect x="625" y="2324.8" width="138.9" height="14.4" fill="#d02a27"/><rect x="763.4" y="2324.8" width="56.7" height="14.4" fill="#e04330"/><rect x="819.7" y="2324.8" width="42.6" height="14.4" fill="#ec5d3c"/><rect x="861.9" y="2324.8" width="42.6" height="14.4" fill="#f67848"/><rect x="904.1" y="2324.8" width="56.7" height="14.4" fill="#f99555"/><rect x="960.4" y="2324.8" width="68.5" height="14.4" fill="#fdb063"/><rect x="625" y="2338.7" width="82.6" height="14.4" fill="#bb1526"/><rect x="707.2" y="2338.7" width="112.9" height="14.4" fill="#d02a27"/><rect x="819.7" y="2338.7" width="14.5" height="14.4" fill="#e04330"/><rect x="833.8" y="2338.7" width="70.7" height="14.4" fill="#ec5d3c"/><rect x="904.1" y="2338.7" width="56.7" height="14.4" fill="#f67848"/><rect x="960.4" y="2338.7" width="68.5" height="14.4" fill="#f99555"/><rect x="625" y="2352.7" width="152.9" height="14.4" fill="#bb1526"/><rect x="777.5" y="2352.7" width="98.9" height="14.4" fill="#d02a27"/><rect x="876" y="2352.7" width="42.6" height="14.4" fill="#e04330"/><rect x="918.2" y="2352.7" width="110.7" height="14.4" fill="#ec5d3c"/><rect x="625" y="2366.7" width="209.2" height="14.4" fill="#bb1526"/><rect x="833.8" y="2366.7" width="127" height="14.4" fill="#d02a27"/><rect x="960.4" y="2366.7" width="14.5" height="14.4" fill="#e04330"/><rect x="974.4" y="2366.7" width="54.5" height="14.4" fill="#ec5d3c"/><rect x="625" y="2380.7" width="279.5" height="14.4" fill="#bb1526"/><rect x="904.1" y="2380.7" width="28.5" height="14.4" fill="#d02a27"/><rect x="932.2" y="2380.7" width="96.7" height="14.4" fill="#ec5d3c"/><rect x="625" y="2394.7" width="54.5" height="14.4" fill="#d02a27"/><rect x="679" y="2394.7" width="225.5" height="14.4" fill="#bb1526"/><rect x="904.1" y="2394.7" width="28.5" height="14.4" fill="#d02a27"/><rect x="932.2" y="2394.7" width="96.7" height="14.4" fill="#ec5d3c"/><rect x="625" y="2408.7" width="110.7" height="14.4" fill="#d02a27"/><rect x="735.3" y="2408.7" width="112.9" height="14.4" fill="#bb1526"/><rect x="847.8" y="2408.7" width="56.7" height="14.4" fill="#d02a27"/><rect x="904.1" y="2408.7" width="28.5" height="14.4" fill="#e04330"/><rect x="932.2" y="2408.7" width="14.5" height="14.4" fill="#ec5d3c"/><rect x="946.3" y="2408.7" width="82.6" height="14.4" fill="#f67848"/><rect x="625" y="2422.6" width="279.5" height="54.4" fill="#d02a27"/><rect x="904.1" y="2422.6" width="28.5" height="54.4" fill="#e04330"/><rect x="932.2" y="2422.6" width="14.5" height="54.4" fill="#ec5d3c"/><rect x="946.3" y="2422.6" width="82.6" height="54.4" fill="#f67848"/>
<path d="M700.13 2429.5V1727M756.4 2429.5V1727M812.67 2429.5V1727M868.94 2429.5V1727M925.21 2429.5V1727M670.4 1814.3H983.3M670.4 1926.18H983.3M670.4 2038.06H983.3M670.4 2149.94H983.3M670.4 2261.82H983.3M670.4 2373.7H983.3" stroke="#000" stroke-opacity="0.33" stroke-width="2.4" stroke-dasharray="11.8 5.8" fill="none"/>
<path d="M799.1 1863.2 L803.3 1864.8 L807.7 1864.9 L811.9 1866.3 L815.8 1868 L820.5 1868 L825.5 1870.5 L824.3 1875.3 L827.4 1878.8 L828.8 1883.2 L825.6 1886.9 L826.5 1891.4 L824.5 1895.4 L824.9 1899.8 L823.6 1904.2 L827 1907.5 L827.6 1912.2 L828.9 1916.5 L831.9 1920 L833.3 1924.3 L835.5 1928.2 L839.4 1932.1 L836.8 1936.6 L837 1941.3 L837.1 1946.6 L831.8 1948.5 L827 1947.4 L823.7 1944.3 L822.1 1940.1 L820.3 1936.1 L817.6 1932.7 L816.4 1928.6 L813 1925.5 L812.4 1921.1 L809.5 1917.7 L809.1 1913.2 L807.2 1909.7 L803.7 1905.8 L802.9 1901.3 L802.1 1896.7 L803.5 1891.8 L801.1 1887 L801.1 1881.9 L799.4 1877 L799.7 1872.7 L799 1868.4ZM807.8 1872.4 L814.6 1874.3 L820.5 1877.8 L821.1 1882.7 L822.9 1887 L821.7 1891.1 L824.6 1895.8 L822.4 1899.7 L820 1904.5 L822.6 1908.4 L823.1 1913 L827.5 1916.2 L827.8 1921.5 L830.4 1926.4 L828.9 1931.9 L828.8 1937.2 L821 1939.9 L820.1 1935.5 L818.7 1931.4 L819.4 1926.6 L817.3 1922.2 L813.5 1918.3 L814.4 1912.9 L810.4 1908.9 L811.5 1903.8 L808.8 1899.3 L807.6 1894.5 L810.7 1890.2 L807.7 1886.4 L807.3 1882.4 L810.1 1877Z" fill="none" stroke="#000" stroke-width="3.5" stroke-dasharray="6 4" stroke-linecap="round" stroke-linejoin="round"/><path d="M804.9 1926.2 L812.2 1928 L812.8 1932.8 L814.9 1937.3 L814 1942.5 L815 1947 L815.5 1951 L817.1 1955 L815.9 1959 L816.6 1963 L816.8 1967.2 L813.6 1970.9 L812.5 1975.1 L814.4 1980.1 L812.1 1982.9 L807.5 1983.2 L802.6 1983 L802 1978.7 L802.9 1974.3 L801.9 1970 L802.3 1965.6 L801.8 1961.3 L799.8 1956.9 L802.1 1953 L802.9 1949.1 L803.1 1945.1 L802.2 1941 L800.6 1936.6 L802 1931.1ZM806.6 1931.4 L809.7 1933.2 L810.4 1938.3 L813.3 1943.1 L814.5 1948.3 L813.1 1952.3 L813.5 1956.3 L811.3 1960.3 L811.8 1964.2 L811.4 1968.8 L810.9 1973.4 L810.5 1977.3 L804 1977.2 L805 1973 L803.6 1968.9 L806.4 1964.6 L802.8 1960.6 L805.6 1956.4 L802.8 1952.3 L805.3 1948.4 L804.1 1944.3 L804.5 1940.3 L807 1936.2Z" fill="none" stroke="#000" stroke-width="3.5" stroke-dasharray="6 4" stroke-linecap="round" stroke-linejoin="round"/><path d="M833 1952.1 L838.6 1952.5 L842.9 1952 L847.5 1954.1 L849.2 1957.9 L849 1961.9 L848.8 1966 L849.5 1971.1 L845.1 1973.4 L839.9 1974.3 L835.3 1971.3 L829.2 1970.2 L829 1965 L827.5 1959.7 L831.4 1956.6Z" fill="none" stroke="#000" stroke-width="3.5" stroke-dasharray="6 4" stroke-linecap="round" stroke-linejoin="round"/><path d="M831.7 1993.6 L835.5 1996 L840.8 1996.4 L841.8 2001.7 L846.8 2003.9 L848.6 2008.6 L853.3 2011.9 L851.7 2017.1 L853.6 2022.9 L848.1 2024.5 L844.2 2027.3 L839.2 2025.7 L833.8 2025 L833.8 2019.7 L832.8 2014.6 L828.8 2009.9 L830.6 2005.8 L832.5 2001.7 L832.3 1997.3ZM835.3 1997.7 L841.4 1999.5 L843.6 2003.5 L844.4 2008.3 L848.7 2012 L846.1 2016.2 L846.7 2019.3 L841.8 2026.6 L837.7 2022.4 L836.3 2018.5 L836.1 2014.4 L836.6 2010.6 L837.1 2006.1 L835.2 2001.4Z" fill="none" stroke="#000" stroke-width="3.5" stroke-dasharray="6 4" stroke-linecap="round" stroke-linejoin="round"/><path d="M830.3 2028.5 L835.2 2029.8 L840.3 2031.9 L841 2036 L844.1 2039.1 L845.7 2042.8 L846.8 2046.6 L847.3 2051.4 L851 2054.5 L851.3 2059.3 L853.5 2063.2 L857.2 2067.2 L855.2 2072 L854.8 2077 L854.2 2082.1 L850.6 2085 L851.1 2090.1 L849.4 2094 L844.8 2096.2 L843.6 2101.2 L841.5 2105.5 L837.7 2109.4 L831.6 2104 L833.1 2099.5 L830.3 2095.3 L829.9 2090.9 L830.7 2086.4 L830.2 2082 L830.9 2077.7 L830.1 2073.5 L828 2069.6 L827.1 2065.4 L828.6 2061 L828.6 2057.2 L826 2052.3 L828.7 2048.1 L829.7 2043.6 L829.5 2039.1 L828.6 2034.4ZM834.4 2038.4 L839.4 2039.9 L839.8 2044.1 L843 2047.5 L842.7 2051.9 L843.2 2056.2 L844.5 2060.3 L848.6 2063.3 L848.2 2067.7 L847.9 2071.7 L848 2075.7 L845.9 2079.1 L846.1 2083.7 L844.9 2087.8 L841.6 2091 L840.6 2096.3 L838.2 2101.8 L834.8 2097.4 L835.3 2092.9 L833.2 2088.7 L835.2 2084.1 L835.4 2079.7 L833.8 2075.8 L835.2 2071.6 L835.2 2067.6 L833.4 2063.7 L833.5 2059.8 L831.6 2055.3 L831.7 2051 L835.7 2046.9 L833.3 2042.4Z" fill="none" stroke="#000" stroke-width="3.5" stroke-dasharray="6 4" stroke-linecap="round" stroke-linejoin="round"/><path d="M797 2022.4 L801.5 2021.3 L805.3 2021.3 L808.9 2024.1 L808.8 2028.6 L811.4 2032 L810.9 2036 L812.5 2039.9 L812.1 2044 L812.5 2048 L812.5 2052.1 L810 2056.5 L809.4 2061.4 L807.9 2064.5 L803 2066.2 L797.1 2067.2 L797.4 2061.9 L796.1 2057 L793.9 2052 L795.1 2047 L793.4 2042 L794.6 2036.9 L795.8 2032 L796.9 2027.1ZM799.6 2026.2 L803.1 2026 L807.7 2029.4 L808.2 2034.3 L805.6 2038.4 L806.9 2042.3 L809.2 2046.3 L808.4 2050.4 L805.2 2055.6 L805.7 2061.8 L798.3 2062.6 L801.2 2058.1 L797.6 2054.5 L799.1 2050.3 L799 2044.3 L798.3 2038.3 L800.7 2034.5 L797.9 2030.2Z" fill="none" stroke="#000" stroke-width="3.5" stroke-dasharray="6 4" stroke-linecap="round" stroke-linejoin="round"/><path d="M802 2072.3 L807 2073 L813.3 2072.5 L814.2 2077.5 L816.6 2081.9 L818.6 2087.2 L817 2092.1 L816.9 2097.2 L815.5 2102.3 L812 2104.9 L811.6 2109.5 L808.2 2111.7 L803.8 2110.5 L801.9 2106.9 L801.4 2101.9 L799.4 2097.1 L801.1 2092.1 L801.2 2087.3 L799.6 2082.4 L801.2 2077.7ZM804.6 2076.3 L810.4 2076.8 L811.7 2082.4 L813.5 2088.1 L812.5 2092.1 L812.6 2096.1 L813.4 2100.9 L810.2 2104.2 L806.6 2109.4 L802.5 2104.1 L803 2100.1 L805.6 2096 L803.5 2092.1 L804.1 2087 L805.9 2082Z" fill="none" stroke="#000" stroke-width="3.5" stroke-dasharray="6 4" stroke-linecap="round" stroke-linejoin="round"/><path d="M806.1 2120.5 L810.6 2117.2 L815.4 2119.1 L820 2118 L823.4 2121.3 L828.1 2121.7 L830.7 2124.3 L834.1 2127.7 L832.8 2130.9 L831.5 2135.2 L829.4 2138.7 L826 2141.5 L821.3 2140.9 L816.8 2143.2 L811.7 2142.3 L807.4 2139.6 L803.6 2134.9 L804.2 2130.9 L804.6 2126.9 L805 2123ZM812.1 2122.9 L820.5 2119.3 L822.8 2123 L826.3 2125.2 L825.8 2130.7 L825.6 2135.5 L823 2139 L815.5 2139.5 L811 2134 L813.3 2129.8 L813.3 2125.6Z" fill="none" stroke="#000" stroke-width="3.5" stroke-dasharray="6 4" stroke-linecap="round" stroke-linejoin="round"/><path d="M829.8 2142.1 L834.3 2143.6 L838.3 2142.9 L841.7 2139.2 L844.9 2140.1 L845.6 2144.1 L846.1 2148 L848.2 2153 L842.7 2155.9 L840 2161.4 L835.9 2160.4 L832 2161.6 L828.8 2161.7 L827.2 2157.7 L824.5 2153.8 L827.2 2150.6 L829.7 2147.3Z" fill="none" stroke="#000" stroke-width="3.5" stroke-dasharray="6 4" stroke-linecap="round" stroke-linejoin="round"/><path d="M821.8 2207.6 L826 2208.3 L830.8 2207.7 L831.7 2212.4 L833.5 2216.4 L835.8 2220.4 L839.8 2222.1 L841.3 2226.3 L842.7 2229.5 L842 2235 L840 2240.1 L836.3 2242.2 L831.8 2241.1 L827.9 2244.4 L823.3 2243.1 L818.6 2243.4 L814.6 2241.5 L810.9 2238.6 L808 2235 L808.6 2230 L809.7 2225.8 L813.5 2223.2 L815.7 2218.7 L821.1 2214.5ZM823.7 2213.2 L826.2 2211.9 L828.8 2219.4 L831.9 2223.2 L837.1 2229.5 L834.2 2233 L833.5 2237.3 L826.7 2240.4 L820.3 2237.9 L815.1 2233 L818 2229.2 L815.9 2224.7 L820.4 2220.4 L823.5 2216.6Z" fill="none" stroke="#000" stroke-width="3.5" stroke-dasharray="6 4" stroke-linecap="round" stroke-linejoin="round"/><path d="M817.4 2291.4 L821 2295 L824.8 2292.1 L827.1 2297.1 L822.2 2301.8 L817 2298Z" fill="none" stroke="#000" stroke-width="3.5" stroke-dasharray="6 4" stroke-linecap="round" stroke-linejoin="round"/><path d="M793.4 1901.6 L787.9 1904 L785.5 1909.5 L790.4 1912.5 L790.6 1906.4Z" fill="none" stroke="#000" stroke-width="3.5" stroke-dasharray="6 4" stroke-linecap="round" stroke-linejoin="round"/><circle cx="815" cy="1797" r="4.5" fill="#000"/><circle cx="797" cy="1835" r="2.6" fill="#000"/><circle cx="835.7" cy="2276.4" r="2.8" fill="#000"/><circle cx="835.7" cy="1981.8" r="2.2" fill="#000"/><path d="M729.9 1784.2 L724.3 1776 L721.8 1785.6ZM781 1784.2 L775.4 1776 L772.9 1785.6ZM833.3 1784.2 L827.7 1776 L825.2 1785.6ZM883.1 1784.2 L877.5 1776 L875 1785.6ZM932.9 1784.2 L927.3 1776 L924.8 1785.6ZM982.7 1784.2 L977.1 1776 L974.6 1785.6ZM729.2 1834.7 L724.3 1826.1 L721 1835.4ZM780.3 1834.7 L775.4 1826.1 L772.1 1835.4ZM832.6 1834.7 L827.7 1826.1 L824.4 1835.4ZM882.4 1834.7 L877.5 1826.1 L874.2 1835.4ZM932.2 1834.7 L927.3 1826.1 L924 1835.4ZM982 1834.7 L977.1 1826.1 L973.8 1835.4ZM733.3 1872.1 L724.3 1876.2 L733.3 1880.3ZM784.4 1872.1 L775.4 1876.2 L784.4 1880.3ZM836.7 1872.1 L827.7 1876.2 L836.7 1880.3ZM886.5 1872.1 L877.5 1876.2 L886.5 1880.3ZM936.3 1872.1 L927.3 1876.2 L936.3 1880.3ZM986.1 1872.1 L977.1 1876.2 L986.1 1880.3ZM733.3 1922.2 L724.3 1926.3 L733.3 1930.4ZM784.4 1922.2 L775.4 1926.3 L784.4 1930.4ZM836.7 1922.2 L827.7 1926.3 L836.7 1930.4ZM886.5 1922.2 L877.5 1926.3 L886.5 1930.4ZM936.3 1922.2 L927.3 1926.3 L936.3 1930.4ZM986.1 1922.2 L977.1 1926.3 L986.1 1930.4ZM725 1974.7 L710 1975 L709.9 1971.7 L699 1976.9 L710.1 1981.7 L710 1978.4 L725 1978.1ZM774 1974.7 L759 1975 L758.9 1971.7 L748 1976.9 L759.1 1981.7 L759 1978.4 L774 1978.1ZM826 1974.7 L811 1975 L810.9 1971.7 L800 1976.9 L811.1 1981.7 L811 1978.4 L826 1978.1ZM886 1974.7 L871 1975 L870.9 1971.7 L860 1976.9 L871.1 1981.7 L871 1978.4 L886 1978.1ZM935 1974.7 L920 1975 L919.9 1971.7 L909 1976.9 L920.1 1981.7 L920 1978.4 L935 1978.1ZM985 1974.7 L970 1975 L969.9 1971.7 L959 1976.9 L970.1 1981.7 L970 1978.4 L985 1978.1ZM720 2035.4 L724.3 2026.5 L714.8 2029.2ZM771.1 2035.4 L775.4 2026.5 L765.9 2029.2ZM823.4 2035.4 L827.7 2026.5 L818.2 2029.2ZM873.2 2035.4 L877.5 2026.5 L868 2029.2ZM923 2035.4 L927.3 2026.5 L917.8 2029.2ZM972.8 2035.4 L977.1 2026.5 L967.6 2029.2ZM720.4 2086.9 L724.3 2076.6 L714 2080.5ZM771.5 2086.9 L775.4 2076.6 L765.1 2080.5ZM823.8 2086.9 L827.7 2076.6 L817.4 2080.5ZM873.6 2086.9 L877.5 2076.6 L867.2 2080.5ZM923.4 2086.9 L927.3 2076.6 L917 2080.5ZM973.2 2086.9 L977.1 2076.6 L966.8 2080.5ZM723.2 2137.6 L724.3 2126.7 L715.4 2133.1ZM774.3 2137.6 L775.4 2126.7 L766.5 2133.1ZM826.6 2137.6 L827.7 2126.7 L818.8 2133.1ZM876.4 2137.6 L877.5 2126.7 L868.6 2133.1ZM926.2 2137.6 L927.3 2126.7 L918.4 2133.1ZM976 2137.6 L977.1 2126.7 L968.2 2133.1ZM725.2 2187.8 L724.3 2176.8 L716.6 2184.6ZM776.3 2187.8 L775.4 2176.8 L767.7 2184.6ZM828.6 2187.8 L827.7 2176.8 L820 2184.6ZM878.4 2187.8 L877.5 2176.8 L869.8 2184.6ZM928.2 2187.8 L927.3 2176.8 L919.6 2184.6ZM978 2187.8 L977.1 2176.8 L969.4 2184.6ZM710.5 2220.9 L713.9 2222.9 L712.3 2225.7 L724.3 2226.9 L717.3 2217.1 L715.6 2219.9 L712.2 2217.9ZM761.6 2220.9 L765 2222.9 L763.4 2225.7 L775.4 2226.9 L768.4 2217.1 L766.7 2219.9 L763.3 2217.9ZM813.9 2220.9 L817.3 2222.9 L815.7 2225.7 L827.7 2226.9 L820.7 2217.1 L819 2219.9 L815.6 2217.9ZM863.7 2220.9 L867.1 2222.9 L865.5 2225.7 L877.5 2226.9 L870.5 2217.1 L868.8 2219.9 L865.4 2217.9ZM913.5 2220.9 L916.9 2222.9 L915.3 2225.7 L927.3 2226.9 L920.3 2217.1 L918.6 2219.9 L915.2 2217.9ZM963.3 2220.9 L966.7 2222.9 L965.1 2225.7 L977.1 2226.9 L970.1 2217.1 L968.4 2219.9 L965 2217.9ZM675.3 2275.2 L713.9 2280.6 L713.4 2283.9 L725 2280.5 L714.8 2274 L714.3 2277.3 L675.7 2271.8ZM726.2 2275.6 L764.9 2280.4 L764.5 2283.7 L776 2280 L765.7 2273.7 L765.3 2277 L726.6 2272.3ZM776.1 2276.1 L814.9 2280.2 L814.5 2283.4 L826 2279.6 L815.6 2273.5 L815.2 2276.8 L776.5 2272.7ZM826 2277 L864.9 2279.7 L864.7 2283 L876 2278.7 L865.4 2273 L865.1 2276.3 L826.2 2273.6ZM878 2278.7 L917 2278.7 L917 2282 L928 2277 L917 2272 L917 2275.3 L878 2275.3ZM930.2 2280 L969.1 2278 L969.3 2281.3 L980 2275.7 L968.8 2271.3 L968.9 2274.6 L930 2276.6ZM675 2327.5 L713.9 2329.5 L713.8 2332.8 L725 2328.4 L714.3 2322.8 L714.1 2326.1 L675.2 2324.1ZM726 2327.5 L764.9 2329.5 L764.8 2332.8 L776 2328.4 L765.3 2322.8 L765.1 2326.1 L726.2 2324.1ZM776 2327.9 L814.9 2329.3 L814.8 2332.6 L826 2328 L815.2 2322.6 L815.1 2325.9 L776.1 2324.5ZM826 2328.8 L865 2328.8 L865 2332.1 L876 2327.1 L865 2322.1 L865 2325.4 L826 2325.4ZM878.2 2330.1 L917.1 2328.1 L917.3 2331.4 L928 2325.8 L916.8 2321.4 L916.9 2324.7 L878 2326.7ZM930.3 2331 L969.2 2327.6 L969.5 2330.9 L980 2324.9 L968.6 2320.9 L968.9 2324.2 L930 2327.6ZM675 2378.5 L714 2379.1 L713.9 2382.4 L725 2377.6 L714.1 2372.4 L714 2375.7 L675 2375.1ZM726 2378.5 L765 2379.1 L764.9 2382.4 L776 2377.6 L765.1 2372.4 L765 2375.7 L726 2375.1ZM776 2378.9 L815 2378.9 L815 2382.2 L826 2377.2 L815 2372.2 L815 2375.5 L776 2375.5ZM826.1 2379.8 L865.1 2378.4 L865.2 2381.7 L876 2376.3 L864.8 2371.7 L864.9 2375 L826 2376.4ZM878.3 2381.1 L917.2 2377.7 L917.5 2381 L928 2375 L916.6 2371 L916.9 2374.3 L878 2377.7ZM930.6 2381.9 L969.3 2377.2 L969.7 2380.5 L980 2374.2 L968.5 2370.5 L968.9 2373.8 L930.2 2378.6ZM675 2429 L714 2429 L714 2432.3 L725 2427.3 L714 2422.3 L714 2425.6 L675 2425.6ZM726 2429 L765 2429 L765 2432.3 L776 2427.3 L765 2422.3 L765 2425.6 L726 2425.6ZM776 2429.4 L815 2428.8 L815.1 2432.1 L826 2426.9 L814.9 2422.1 L815 2425.4 L776 2426ZM826.2 2430.3 L865.1 2428.3 L865.3 2431.6 L876 2426 L864.8 2421.6 L864.9 2424.9 L826 2426.9ZM878.5 2431.6 L917.2 2427.5 L917.6 2430.8 L928 2424.7 L916.5 2420.9 L916.9 2424.1 L878.1 2428.2ZM930.7 2432.5 L969.3 2427 L969.8 2430.3 L980 2423.8 L968.4 2420.4 L968.9 2423.7 L930.3 2429.1Z" fill="#000"/>
</svg>
<rect x="673.7" y="1728.4" width="308.2" height="700.7" fill="none" stroke="#000" stroke-width="2.8"/>
<svg x="1019.8" y="1727" width="38" height="703.5" viewBox="0 0 38 703.5" preserveAspectRatio="none">
<rect x="0" y="672.90" width="38.0" height="30.90" fill="#313695"/><rect x="0" y="643.71" width="38.0" height="29.50" fill="#3a51a2"/><rect x="0" y="614.51" width="38.0" height="29.50" fill="#426db0"/><rect x="0" y="585.32" width="38.0" height="29.50" fill="#5386bd"/><rect x="0" y="556.12" width="38.0" height="29.50" fill="#689ec9"/><rect x="0" y="526.92" width="38.0" height="29.50" fill="#7eb5d5"/><rect x="0" y="497.73" width="38.0" height="29.50" fill="#95c8e0"/><rect x="0" y="468.53" width="38.0" height="29.50" fill="#addaea"/><rect x="0" y="439.34" width="38.0" height="29.50" fill="#c4e5f0"/><rect x="0" y="410.14" width="38.0" height="29.50" fill="#dbf1f7"/><rect x="0" y="380.95" width="38.0" height="29.50" fill="#ebf7e4"/><rect x="0" y="351.75" width="38.0" height="29.50" fill="#f8fccb"/><rect x="0" y="322.55" width="38.0" height="29.50" fill="#fff8b5"/><rect x="0" y="293.36" width="38.0" height="29.50" fill="#feeba0"/><rect x="0" y="264.16" width="38.0" height="29.50" fill="#fedc8c"/><rect x="0" y="234.97" width="38.0" height="29.50" fill="#fdc677"/><rect x="0" y="205.77" width="38.0" height="29.50" fill="#fdb063"/><rect x="0" y="176.58" width="38.0" height="29.50" fill="#f99555"/><rect x="0" y="147.38" width="38.0" height="29.50" fill="#f67848"/><rect x="0" y="118.18" width="38.0" height="29.50" fill="#ec5d3c"/><rect x="0" y="88.99" width="38.0" height="29.50" fill="#e04330"/><rect x="0" y="59.79" width="38.0" height="29.50" fill="#d02a27"/><rect x="0" y="30.60" width="38.0" height="29.50" fill="#bb1526"/><rect x="0" y="0.00" width="38.0" height="30.90" fill="#a50026"/>
</svg>
<rect x="1021.2" y="1728.4" width="35.2" height="700.7" fill="none" stroke="#000" stroke-width="2.8"/>
<text x="1085.5" y="1797.9" font-size="47.65" textLength="26.15" lengthAdjust="spacingAndGlyphs">0</text>
<text x="1113.14" y="1797.9" font-size="47.65" textLength="13.41" lengthAdjust="spacingAndGlyphs">.</text>
<text x="1127.6" y="1797.9" font-size="47.65" textLength="27.06" lengthAdjust="spacingAndGlyphs">6</text>
<text x="1085.5" y="1905.7" font-size="47.65" textLength="26.15" lengthAdjust="spacingAndGlyphs">0</text>
<text x="1113.14" y="1905.7" font-size="47.65" textLength="13.41" lengthAdjust="spacingAndGlyphs">.</text>
<text x="1128.62" y="1905.7" font-size="47.65" textLength="24.68" lengthAdjust="spacingAndGlyphs">5</text>
<text x="1085.5" y="2013.5" font-size="47.65" textLength="26.15" lengthAdjust="spacingAndGlyphs">0</text>
<text x="1113.14" y="2013.5" font-size="47.65" textLength="13.41" lengthAdjust="spacingAndGlyphs">.</text>
<text x="1128.05" y="2013.5" font-size="47.65" textLength="26.15" lengthAdjust="spacingAndGlyphs">4</text>
<text x="1085.5" y="2121.3" font-size="47.65" textLength="26.15" lengthAdjust="spacingAndGlyphs">0</text>
<text x="1113.14" y="2121.3" font-size="47.65" textLength="13.41" lengthAdjust="spacingAndGlyphs">.</text>
<text x="1128.63" y="2121.3" font-size="47.65" textLength="25.11" lengthAdjust="spacingAndGlyphs">3</text>
<text x="1085.5" y="2229.1" font-size="47.65" textLength="26.15" lengthAdjust="spacingAndGlyphs">0</text>
<text x="1113.14" y="2229.1" font-size="47.65" textLength="13.41" lengthAdjust="spacingAndGlyphs">.</text>
<text x="1127.94" y="2229.1" font-size="47.65" textLength="25.2" lengthAdjust="spacingAndGlyphs">2</text>
<text x="1085.5" y="2336.9" font-size="47.65" textLength="26.15" lengthAdjust="spacingAndGlyphs">0</text>
<text x="1113.14" y="2336.9" font-size="47.65" textLength="13.41" lengthAdjust="spacingAndGlyphs">.</text>
<text x="1128.43" y="2336.9" font-size="47.65" textLength="24.97" lengthAdjust="spacingAndGlyphs">1</text>
<text x="1085.5" y="2444.7" font-size="47.65" textLength="26.15" lengthAdjust="spacingAndGlyphs">0</text>
<text x="1113.14" y="2444.7" font-size="47.65" textLength="13.41" lengthAdjust="spacingAndGlyphs">.</text>
<text x="1128.06" y="2444.7" font-size="47.65" textLength="26.15" lengthAdjust="spacingAndGlyphs">0</text>
<path d="M659.3 1814.3H673.3M659.3 1926.18H673.3M659.3 2038.06H673.3M659.3 2149.94H673.3M659.3 2261.82H673.3M659.3 2373.7H673.3M756.4 2429.5V2443.5M925.21 2429.5V2443.5M1056.8 1782.3H1070.8M1056.8 1890.1H1070.8M1056.8 1997.9H1070.8M1056.8 2105.7H1070.8M1056.8 2213.5H1070.8M1056.8 2321.3H1070.8M1056.8 2429.1H1070.8" stroke="#000" stroke-width="2.6" fill="none"/>
<text x="705.28" y="2491.9" font-size="47.65" textLength="25.58" lengthAdjust="spacingAndGlyphs">7</text>
<text x="733.35" y="2491.9" font-size="47.65" textLength="25.2" lengthAdjust="spacingAndGlyphs">2</text>
<text x="762.05" y="2491.9" font-size="47.65" textLength="19.7" lengthAdjust="spacingAndGlyphs">°</text>
<text x="784.24" y="2491.9" font-size="47.65" textLength="25.78" lengthAdjust="spacingAndGlyphs">E</text>
<text x="874.09" y="2491.9" font-size="47.65" textLength="25.58" lengthAdjust="spacingAndGlyphs">7</text>
<text x="902.83" y="2491.9" font-size="47.65" textLength="24.68" lengthAdjust="spacingAndGlyphs">5</text>
<text x="930.86" y="2491.9" font-size="47.65" textLength="19.7" lengthAdjust="spacingAndGlyphs">°</text>
<text x="953.05" y="2491.9" font-size="47.65" textLength="25.78" lengthAdjust="spacingAndGlyphs">E</text>
<text x="326.35" y="33.9" font-size="25.94" textLength="18.73" lengthAdjust="spacingAndGlyphs" font-weight="bold">A</text>
<text x="0.31" y="857.8" font-size="25.94" textLength="17.81" lengthAdjust="spacingAndGlyphs" font-weight="bold">B</text>
<text x="671.25" y="858" font-size="25.94" textLength="18.45" lengthAdjust="spacingAndGlyphs" font-weight="bold">C</text>
<text x="0.37" y="1678.5" font-size="25.94" textLength="18.72" lengthAdjust="spacingAndGlyphs" font-weight="bold">D</text>
<text x="671.48" y="1678.5" font-size="25.94" textLength="16.17" lengthAdjust="spacingAndGlyphs" font-weight="bold">E</text>
<text x="762.93" y="39.7" font-size="46.77" textLength="68.56" lengthAdjust="spacingAndGlyphs">km</text>
<text x="436.29" y="1691.9" font-size="46.77" textLength="80.31" lengthAdjust="spacingAndGlyphs">m/s</text>
<text x="997.22" y="1691.9" font-size="46.77" textLength="81.91" lengthAdjust="spacingAndGlyphs">m/s</text>
<text x="335.93" y="870.3" font-size="46.77" textLength="159.67" lengthAdjust="spacingAndGlyphs" font-style="italic">mgC/m</text>
<text x="499.68" y="852.5" font-size="31.21" textLength="17.95" lengthAdjust="spacingAndGlyphs">2</text>
<text x="522.49" y="870.3" font-size="46.77" textLength="92.94" lengthAdjust="spacingAndGlyphs" font-style="italic">/day</text>
<text x="960.65" y="870.5" font-size="46.77" textLength="19.83" lengthAdjust="spacingAndGlyphs">°</text>
<text x="980.05" y="870.5" font-size="46.77" textLength="116.16" lengthAdjust="spacingAndGlyphs" font-style="italic">C/km</text>
<text x="1100.03" y="853.1" font-size="31.78" textLength="18.43" lengthAdjust="spacingAndGlyphs">2</text>
</svg></body></html>
